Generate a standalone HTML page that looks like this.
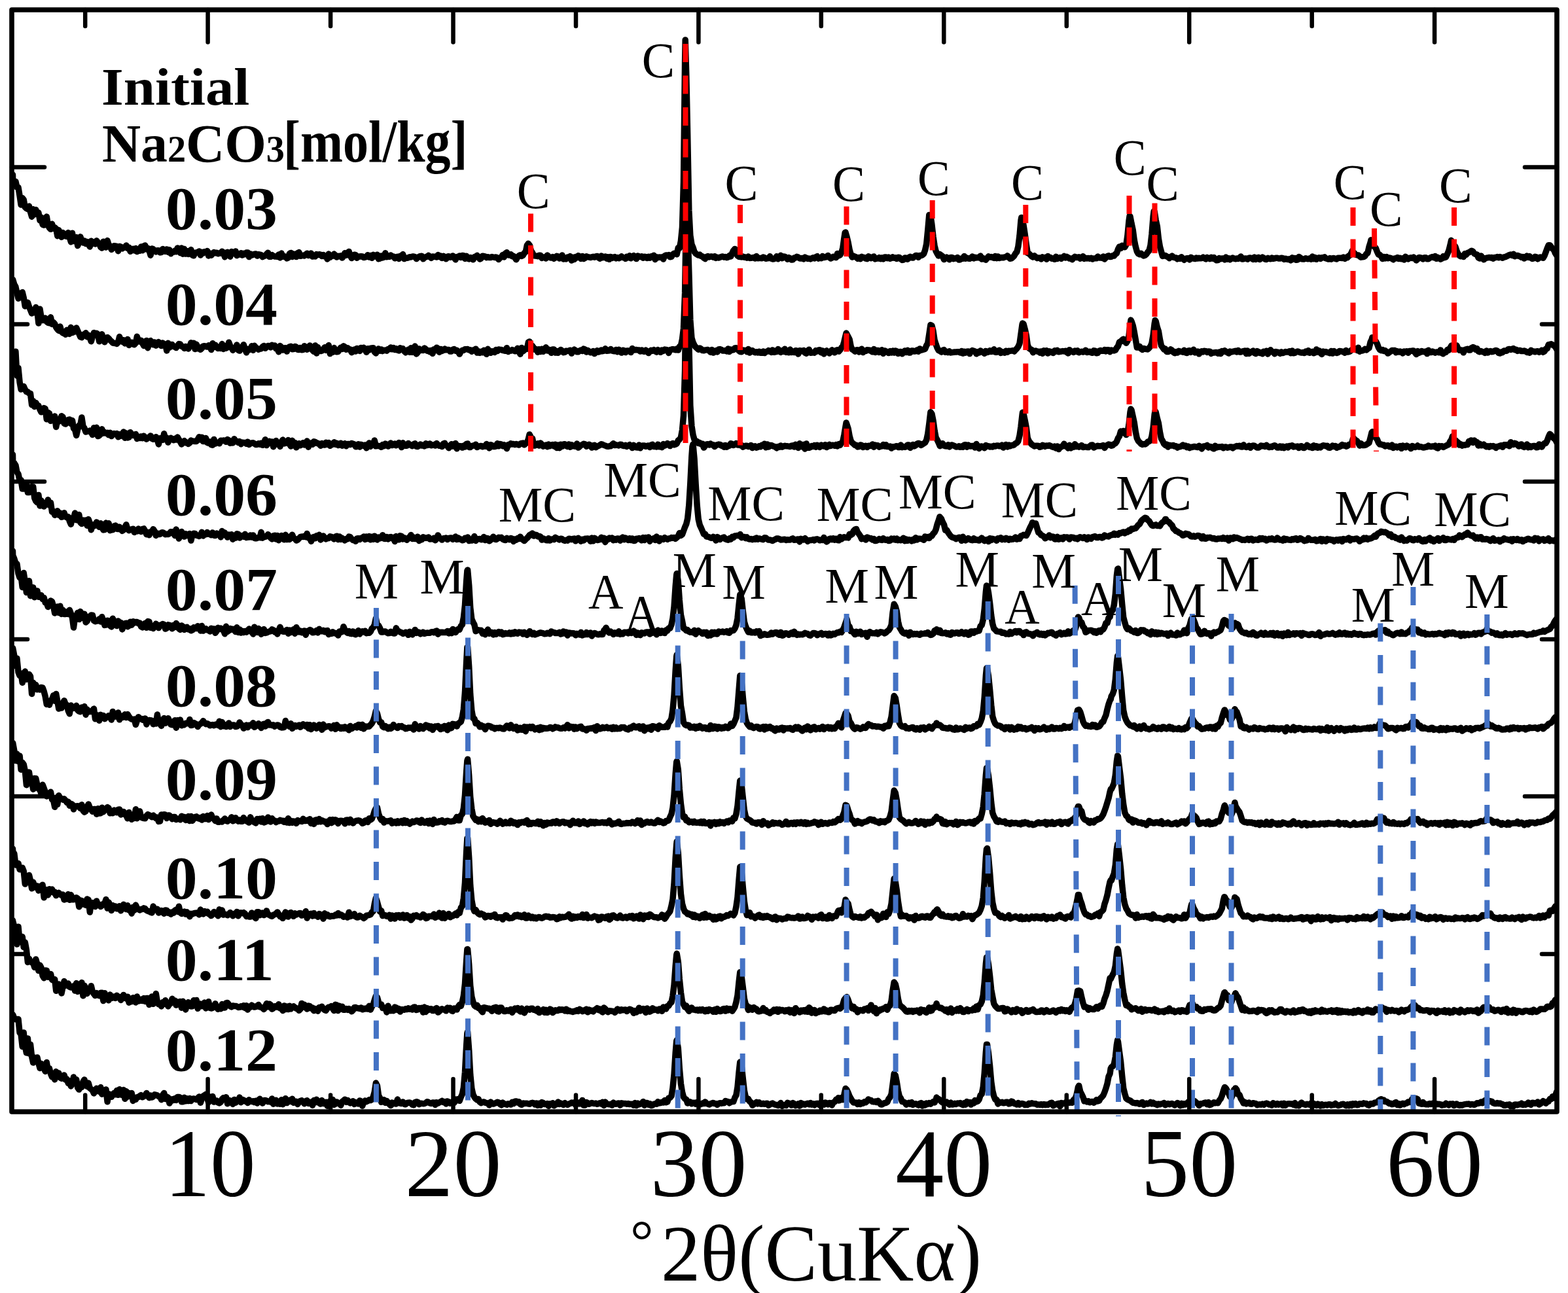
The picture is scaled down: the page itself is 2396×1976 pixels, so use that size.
<!DOCTYPE html>
<html><head><meta charset="utf-8"><title>XRD</title><style>html,body{margin:0;padding:0;background:#fff;overflow:hidden}svg{display:block}</style></head><body>
<svg width="2396" height="1976" viewBox="0 0 2396 1976"><defs><clipPath id="cp"><rect x="18.0" y="0" width="2361.0" height="1976"/></clipPath></defs><rect x="0" y="0" width="2396" height="1976" fill="#fff"/><g clip-path="url(#cp)" fill="none" stroke="#000" stroke-width="9.5" stroke-linejoin="round" stroke-linecap="round"><path d="M19.5 267.0 19.7 274.2 21.8 278.7 23.9 277.3 25.9 286.1 28.0 286.4 30.1 299.2 32.1 313.0 34.2 302.6 36.2 305.2 38.3 316.6 40.4 318.6 42.4 319.6 44.5 315.1 46.5 323.9 48.6 331.2 50.7 319.7 52.7 327.8 54.8 320.5 56.9 326.5 58.9 325.0 61.0 336.9 63.0 332.2 65.1 343.2 67.2 344.0 69.2 343.4 71.3 331.1 73.4 344.1 75.4 348.2 77.5 350.3 79.5 342.2 81.6 349.3 83.7 347.6 85.7 349.6 87.8 360.7 89.8 351.6 91.9 356.7 94.0 362.4 96.0 355.6 98.1 358.8 100.2 360.8 102.2 361.3 104.3 355.6 106.3 362.8 108.4 369.7 110.5 356.2 112.5 368.5 114.6 365.6 116.7 362.6 118.7 375.6 120.8 370.3 122.8 361.8 124.9 368.2 127.0 371.0 129.0 368.0 131.1 372.4 133.1 369.5 135.2 373.2 137.3 377.0 139.3 368.2 141.4 372.5 143.5 370.0 145.5 372.9 147.6 367.8 149.6 370.7 151.7 372.7 153.8 377.6 155.8 379.0 157.9 369.2 160.0 371.7 162.0 377.9 164.1 367.6 166.1 374.0 168.2 375.8 170.3 381.4 172.3 379.4 174.4 375.8 176.5 375.9 178.5 376.6 180.6 383.7 182.6 376.4 184.7 377.2 186.8 379.9 188.8 378.4 190.9 378.3 192.9 375.1 195.0 379.4 197.1 378.1 199.1 384.2 201.2 382.5 203.3 380.2 205.3 382.9 207.4 379.5 209.4 384.6 211.5 381.1 213.6 383.3 215.6 376.9 217.7 382.8 219.8 376.0 221.8 375.0 223.9 381.1 225.9 379.2 228.0 383.0 230.1 390.2 232.1 380.0 234.2 380.8 236.2 383.8 238.3 384.9 240.4 382.8 242.4 382.8 244.5 385.9 246.6 385.5 248.6 380.5 250.7 383.8 252.7 384.3 254.8 380.9 256.9 385.2 258.9 381.8 261.0 387.7 263.1 385.4 265.1 385.2 267.2 383.1 269.2 384.7 271.3 379.0 273.4 381.8 275.4 386.5 277.5 379.0 279.5 388.2 281.6 380.4 283.7 388.1 285.7 383.4 287.8 388.4 289.9 386.5 291.9 381.6 294.0 390.0 296.0 390.7 298.1 386.3 300.2 385.8 302.2 386.2 304.3 383.9 306.4 390.0 308.4 385.3 310.5 386.8 312.5 384.8 314.6 385.3 316.7 383.5 318.7 390.9 320.8 386.9 322.8 390.2 324.9 387.6 327.0 385.6 329.0 386.7 331.1 386.2 333.2 387.8 335.2 386.8 337.3 387.1 339.3 384.2 341.4 385.8 343.5 392.7 345.5 386.3 347.6 385.4 349.7 389.2 351.7 392.2 353.8 384.5 355.8 387.9 357.9 386.8 360.0 383.9 362.0 390.6 364.1 388.7 366.1 389.0 368.2 386.8 370.3 390.1 372.3 387.5 374.4 388.6 376.5 386.1 378.5 385.9 380.6 392.6 382.6 387.9 384.7 390.0 386.8 389.2 388.8 388.2 390.9 388.1 393.0 391.1 395.0 388.7 397.1 389.1 399.1 389.6 401.2 392.6 403.3 391.4 405.3 390.7 407.4 388.3 409.5 386.3 411.5 392.2 413.6 392.3 415.6 389.6 417.7 391.3 419.8 391.9 421.8 392.1 423.9 392.4 425.9 389.0 428.0 393.9 430.1 387.1 432.1 392.3 434.2 391.5 436.3 392.4 438.3 394.9 440.4 394.0 442.4 387.6 444.5 386.4 446.6 392.4 448.6 388.1 450.7 390.5 452.8 392.6 454.8 386.7 456.9 385.6 458.9 391.3 461.0 390.8 463.1 390.2 465.1 390.9 467.2 388.8 469.2 387.3 471.3 390.5 473.4 388.6 475.4 387.1 477.5 392.1 479.6 390.8 481.6 391.9 483.7 388.7 485.7 389.5 487.8 388.8 489.9 389.1 491.9 391.6 494.0 389.4 496.1 392.0 498.1 392.0 500.2 395.9 502.2 388.1 504.3 393.3 506.4 391.1 508.4 391.3 510.5 388.1 512.5 390.4 514.6 393.1 516.7 391.3 518.7 391.7 520.8 390.9 522.9 394.1 524.9 391.5 527.0 386.7 529.0 390.1 531.1 387.3 533.2 384.4 535.2 390.5 537.3 394.6 539.4 391.8 541.4 389.2 543.5 389.7 545.5 394.2 547.6 392.1 549.7 391.9 551.7 391.7 553.8 391.9 555.8 393.6 557.9 393.1 560.0 392.4 562.0 389.7 564.1 393.1 566.2 390.5 568.2 394.3 570.3 389.3 572.3 391.7 574.4 392.0 576.5 389.2 578.5 395.7 580.6 395.2 582.7 391.1 584.7 393.8 586.8 393.0 588.8 386.7 590.9 392.7 593.0 392.1 595.0 392.4 597.1 390.0 599.1 391.7 601.2 391.9 603.3 394.8 605.3 393.0 607.4 392.3 609.5 395.5 611.5 391.2 613.6 391.6 615.6 388.6 617.7 395.6 619.8 394.4 621.8 394.3 623.9 393.8 626.0 392.7 628.0 392.9 630.1 392.0 632.1 392.1 634.2 392.6 636.3 395.6 638.3 393.7 640.4 392.4 642.5 391.4 644.5 391.3 646.6 395.8 648.6 393.6 650.7 392.8 652.8 392.0 654.8 390.4 656.9 392.5 658.9 394.4 661.0 391.9 663.1 392.3 665.1 392.3 667.2 393.0 669.3 389.6 671.3 392.3 673.4 391.1 675.4 394.5 677.5 391.3 679.6 394.0 681.6 395.8 683.7 392.2 685.8 391.7 687.8 393.2 689.9 392.9 691.9 390.9 694.0 393.8 696.1 396.8 698.1 392.4 700.2 392.5 702.2 390.9 704.3 393.6 706.4 390.5 708.4 390.8 710.5 395.4 712.6 391.2 714.6 395.1 716.7 395.9 718.7 393.5 720.8 394.1 722.9 396.8 724.9 392.7 727.0 391.9 729.1 390.5 731.1 393.1 733.2 395.9 735.2 394.9 737.3 391.3 739.4 391.5 741.4 392.1 743.5 393.6 745.5 392.7 747.6 393.5 749.7 393.6 751.7 392.5 753.8 393.0 755.9 393.5 757.9 392.9 760.0 394.0 762.0 396.5 764.1 394.0 766.2 392.9 768.2 389.5 770.3 392.9 772.4 387.3 774.4 385.7 775.0 389.5 776.5 389.6 778.5 390.1 780.6 388.7 782.7 391.7 784.7 391.3 786.8 393.8 788.8 396.7 790.9 392.9 793.0 390.8 795.0 389.8 797.1 391.4 799.2 390.3 801.2 386.6 803.3 385.0 805.3 374.8 807.2 372.3 809.5 375.1 811.5 383.3 813.6 386.2 815.7 390.8 817.7 390.9 819.8 391.2 821.8 391.7 823.9 390.2 826.0 390.2 828.0 394.4 830.1 392.7 832.2 393.5 834.2 395.0 836.3 390.1 838.3 391.9 840.4 393.6 842.5 394.1 844.5 392.7 846.6 395.2 848.6 393.8 850.7 391.3 852.8 391.8 854.8 394.9 856.9 394.3 859.0 390.1 861.0 395.9 863.1 394.6 865.1 395.9 867.2 392.9 869.3 393.0 871.3 391.6 873.4 398.1 875.5 393.3 877.5 396.4 879.6 392.5 881.6 393.9 883.7 390.7 885.8 393.0 887.8 395.4 889.9 391.5 891.9 395.5 894.0 394.3 896.1 391.8 898.1 392.8 900.2 392.9 902.3 393.6 904.3 392.8 906.4 392.3 908.4 393.2 910.5 391.9 912.6 391.5 914.6 393.6 916.7 395.2 918.8 391.1 920.8 393.7 922.9 392.6 924.9 392.0 927.0 395.2 929.1 392.8 931.1 396.3 933.2 392.4 935.2 394.4 937.3 393.4 939.4 392.5 941.4 394.8 943.5 393.5 945.6 394.8 947.6 393.7 949.7 391.9 951.7 393.6 953.8 393.8 955.9 395.4 957.9 392.2 960.0 393.7 962.1 390.8 964.1 394.8 966.2 391.9 968.2 390.7 970.3 393.6 972.4 395.6 974.4 391.1 976.5 391.8 978.5 392.4 980.6 391.8 982.7 394.3 984.7 392.3 986.8 392.4 988.9 394.6 990.9 392.3 993.0 394.2 995.0 391.9 997.1 391.4 999.2 390.3 1001.2 396.5 1003.3 392.8 1005.4 393.6 1007.4 393.1 1009.5 393.3 1011.5 393.0 1013.6 396.0 1015.7 390.9 1017.7 389.9 1019.8 390.5 1021.8 389.7 1023.9 392.8 1026.0 392.4 1028.0 388.8 1030.1 387.2 1032.2 387.6 1034.2 388.7 1036.3 378.7 1038.3 379.3 1040.4 368.4 1042.5 347.5 1044.5 278.3 1046.6 94.4 1047.2 60.9 1048.7 111.8 1050.7 208.0 1052.8 321.7 1054.8 359.8 1056.9 373.2 1059.0 378.3 1061.0 384.6 1063.1 387.5 1065.2 388.9 1067.2 389.9 1069.3 389.0 1071.3 391.3 1073.4 391.8 1075.5 394.3 1077.5 395.5 1079.6 392.4 1081.6 391.6 1083.7 392.9 1085.8 392.1 1087.8 392.0 1089.9 393.2 1092.0 391.7 1094.0 394.4 1096.1 393.3 1098.1 393.9 1100.2 393.2 1102.3 392.4 1104.3 392.0 1106.4 393.1 1108.5 392.6 1110.5 393.7 1112.6 393.2 1114.6 390.6 1116.7 391.9 1118.8 386.8 1120.8 382.7 1121.4 382.4 1122.9 380.4 1124.9 386.9 1127.0 390.8 1129.1 392.2 1131.1 392.5 1133.2 392.9 1135.3 392.1 1137.3 393.3 1139.4 393.0 1141.4 394.1 1143.5 392.1 1145.6 394.4 1147.6 394.3 1149.7 393.8 1151.8 393.4 1153.8 395.0 1155.9 391.5 1157.9 394.8 1160.0 394.5 1162.1 394.6 1164.1 394.8 1166.2 393.1 1168.2 393.8 1170.3 395.2 1172.4 394.9 1174.4 394.5 1176.5 391.8 1178.6 395.1 1180.6 396.0 1182.7 395.8 1184.7 394.6 1186.8 391.8 1188.9 395.7 1190.9 394.0 1193.0 390.3 1195.1 394.8 1197.1 391.9 1199.2 392.2 1201.2 393.3 1203.3 396.2 1205.4 393.7 1207.4 394.7 1209.5 397.0 1211.5 396.7 1213.6 394.1 1215.7 393.9 1217.7 392.3 1219.8 393.2 1221.9 394.9 1223.9 394.9 1226.0 394.4 1228.0 395.8 1230.1 393.1 1232.2 394.2 1234.2 395.4 1236.3 395.1 1238.4 395.9 1240.4 394.8 1242.5 393.7 1244.5 394.8 1246.6 392.7 1248.7 391.7 1250.7 395.0 1252.8 394.0 1254.9 394.6 1256.9 391.5 1259.0 393.5 1261.0 393.1 1263.1 392.6 1265.2 390.4 1267.2 393.2 1269.3 395.0 1271.3 394.0 1273.4 392.3 1275.5 392.9 1277.5 393.7 1279.6 387.6 1281.7 390.6 1283.7 389.7 1285.8 386.0 1287.8 379.1 1289.9 363.8 1291.2 355.5 1292.0 355.0 1294.0 361.9 1296.1 370.7 1298.2 381.9 1300.2 388.9 1302.3 393.1 1304.3 391.2 1306.4 392.2 1308.5 393.1 1310.5 395.2 1312.6 393.4 1314.6 395.8 1316.7 392.3 1318.8 393.6 1320.8 393.6 1322.9 395.2 1325.0 395.6 1327.0 391.8 1329.1 392.8 1331.1 394.7 1333.2 393.2 1335.3 391.9 1337.3 395.8 1339.4 395.0 1341.5 395.0 1343.5 393.6 1345.6 395.8 1347.6 393.9 1349.7 395.9 1351.8 392.9 1353.8 393.0 1355.9 394.6 1357.9 393.2 1360.0 395.3 1362.1 394.6 1364.1 392.9 1366.2 394.3 1368.3 393.7 1370.3 395.6 1372.4 393.3 1374.4 393.5 1376.5 395.9 1378.6 397.4 1380.6 397.0 1382.7 394.1 1384.8 394.3 1386.8 396.2 1388.9 393.6 1390.9 392.3 1393.0 393.8 1395.1 394.1 1397.1 392.1 1399.2 390.6 1401.2 390.6 1403.3 393.2 1405.4 390.5 1407.4 390.5 1409.5 389.7 1411.6 387.9 1413.6 382.3 1415.7 372.8 1417.7 352.4 1419.8 328.5 1421.9 329.5 1423.9 343.0 1426.0 361.6 1428.1 375.5 1430.1 383.8 1432.2 387.7 1434.2 391.0 1436.3 388.8 1438.4 390.4 1440.4 391.9 1442.5 396.6 1444.5 394.6 1446.6 393.2 1448.7 394.6 1450.7 396.7 1452.8 393.5 1454.9 393.4 1456.9 395.7 1459.0 394.8 1461.0 395.1 1463.1 393.4 1465.2 397.0 1467.2 396.7 1469.3 395.1 1471.4 395.3 1473.4 391.4 1475.5 395.2 1477.5 394.1 1479.6 395.0 1481.7 395.3 1483.7 393.9 1485.8 392.0 1487.9 394.9 1489.9 393.3 1492.0 393.9 1494.0 393.5 1496.1 393.9 1498.2 391.1 1500.2 396.1 1502.3 394.7 1504.3 396.0 1506.4 397.2 1508.5 394.4 1510.5 391.8 1512.6 393.0 1514.7 392.6 1516.7 393.6 1518.8 394.4 1520.8 391.4 1522.9 394.7 1525.0 392.0 1527.0 394.5 1529.1 393.8 1531.2 393.5 1533.2 393.7 1535.3 392.9 1537.3 392.6 1539.4 390.9 1541.5 393.0 1543.5 395.2 1545.6 394.9 1547.6 393.2 1549.7 391.1 1551.8 387.2 1553.8 385.0 1555.9 376.6 1558.0 360.1 1560.0 336.9 1560.8 332.4 1562.1 334.1 1564.1 344.5 1566.2 358.1 1568.3 373.8 1570.3 386.7 1572.4 387.6 1574.5 389.6 1576.5 391.9 1578.6 393.0 1580.6 391.0 1582.7 392.7 1584.8 394.6 1586.8 393.9 1588.9 393.9 1590.9 396.0 1593.0 393.0 1595.1 394.1 1597.1 393.4 1599.2 396.2 1601.3 391.5 1603.3 393.3 1605.4 393.6 1607.4 395.3 1609.5 395.2 1611.6 396.3 1613.6 392.2 1615.7 395.5 1617.8 394.0 1619.8 393.5 1621.9 395.2 1623.9 393.2 1626.0 391.6 1628.1 394.0 1630.1 392.4 1632.2 393.6 1634.2 395.0 1636.3 394.9 1638.4 396.7 1640.4 394.2 1642.5 392.4 1644.6 393.4 1646.6 393.2 1648.7 392.8 1650.7 395.1 1652.8 393.6 1654.9 391.7 1656.9 395.4 1659.0 394.3 1661.1 394.9 1663.1 394.5 1665.2 395.2 1667.2 394.4 1669.3 396.0 1671.4 394.9 1673.4 394.8 1675.5 394.8 1677.5 392.1 1679.6 393.9 1681.7 393.7 1683.7 394.2 1685.8 392.0 1687.9 396.0 1689.9 393.7 1692.0 391.7 1694.0 390.8 1696.1 392.5 1698.2 392.3 1700.2 390.8 1702.3 391.0 1704.4 388.3 1706.4 387.1 1708.5 380.8 1710.5 377.0 1711.1 377.7 1712.6 379.5 1714.7 375.2 1716.7 377.1 1718.8 377.7 1720.9 374.0 1722.9 360.0 1725.0 337.7 1726.1 330.1 1727.0 330.8 1729.1 341.8 1731.2 351.4 1733.2 366.8 1735.3 377.1 1737.3 384.3 1739.4 387.8 1741.5 388.8 1743.5 387.3 1745.6 389.3 1747.7 391.0 1749.7 390.1 1751.8 388.3 1753.8 385.3 1755.9 383.1 1758.0 374.8 1760.0 357.7 1762.1 331.0 1763.2 322.8 1764.2 323.5 1766.2 336.5 1768.3 345.7 1770.3 364.3 1772.4 376.8 1774.5 384.4 1776.5 391.5 1778.6 391.0 1780.6 390.4 1782.7 391.8 1784.8 392.9 1786.8 394.5 1788.9 392.5 1791.0 391.1 1793.0 393.2 1795.1 393.8 1797.1 394.0 1799.2 395.8 1801.3 394.5 1803.3 395.3 1805.4 392.8 1807.5 395.5 1809.5 397.2 1811.6 395.4 1813.6 394.8 1815.7 394.7 1817.8 396.9 1819.8 393.3 1821.9 394.4 1823.9 395.2 1826.0 395.6 1828.1 394.0 1830.1 395.0 1832.2 394.3 1834.3 394.8 1836.3 394.5 1838.4 393.2 1840.4 394.7 1842.5 395.9 1844.6 393.4 1846.6 394.4 1848.7 395.6 1850.8 393.3 1852.8 395.0 1854.9 393.4 1856.9 396.3 1859.0 397.8 1861.1 397.5 1863.1 394.5 1865.2 395.8 1867.2 395.0 1869.3 394.9 1871.4 396.9 1873.4 393.1 1875.5 396.2 1877.6 394.8 1879.6 396.7 1881.7 395.1 1883.7 394.0 1885.8 395.2 1887.9 395.8 1889.9 394.9 1892.0 395.5 1894.1 394.2 1896.1 392.0 1898.2 396.1 1900.2 395.8 1902.3 395.1 1904.4 395.0 1906.4 396.2 1908.5 394.3 1910.6 394.0 1912.6 394.6 1914.7 396.4 1916.7 393.1 1918.8 396.5 1920.9 394.1 1922.9 393.4 1925.0 396.5 1927.0 394.8 1929.1 393.2 1931.2 394.4 1933.2 396.1 1935.3 396.5 1937.4 394.3 1939.4 395.4 1941.5 395.8 1943.5 394.1 1945.6 395.4 1947.7 394.9 1949.7 394.2 1951.8 394.3 1953.9 395.0 1955.9 395.0 1958.0 394.2 1960.0 394.4 1962.1 396.4 1964.2 395.2 1966.2 396.1 1968.3 396.5 1970.3 395.7 1972.4 397.9 1974.5 393.8 1976.5 396.0 1978.6 394.5 1980.7 397.3 1982.7 397.1 1984.8 392.4 1986.8 393.7 1988.9 395.8 1991.0 395.9 1993.0 395.9 1995.1 394.8 1997.2 395.5 1999.2 395.8 2001.3 394.8 2003.3 396.2 2005.4 392.0 2007.5 395.7 2009.5 393.6 2011.6 396.1 2013.6 394.6 2015.7 393.7 2017.8 395.4 2019.8 393.7 2021.9 393.7 2024.0 392.8 2026.0 394.8 2028.1 395.5 2030.1 396.1 2032.2 394.6 2034.3 396.1 2036.3 394.8 2038.4 394.6 2040.5 395.4 2042.5 396.0 2044.6 394.2 2046.6 394.3 2048.7 394.3 2050.8 394.5 2052.8 393.1 2054.9 395.4 2056.9 393.2 2059.0 393.7 2061.1 390.9 2063.1 389.9 2065.2 385.8 2066.5 383.0 2067.3 386.4 2069.3 386.5 2071.4 389.2 2073.4 389.7 2075.5 389.9 2077.6 391.7 2079.6 393.2 2081.7 392.8 2083.8 392.5 2085.8 391.4 2087.9 387.9 2089.9 386.8 2092.0 377.3 2094.1 370.7 2095.0 366.8 2096.1 368.1 2098.2 374.6 2100.2 377.0 2102.3 379.3 2104.4 384.8 2106.4 389.1 2108.5 389.5 2110.6 391.7 2112.6 395.5 2114.7 392.5 2116.7 394.9 2118.8 392.5 2120.9 394.7 2122.9 394.0 2125.0 394.4 2127.1 395.3 2129.1 396.8 2131.2 394.9 2133.2 394.8 2135.3 393.5 2137.4 395.5 2139.4 394.4 2141.5 395.8 2143.6 394.7 2145.6 397.0 2147.7 392.3 2149.7 394.4 2151.8 395.9 2153.9 394.4 2155.9 393.8 2158.0 394.5 2160.0 393.1 2162.1 395.0 2164.2 397.9 2166.2 396.2 2168.3 393.4 2170.4 393.7 2172.4 394.3 2174.5 396.0 2176.5 393.7 2178.6 393.8 2180.7 395.8 2182.7 395.8 2184.8 394.2 2186.9 393.2 2188.9 392.6 2191.0 393.6 2193.0 391.6 2195.1 395.3 2197.2 393.4 2199.2 394.7 2201.3 396.2 2203.3 395.1 2205.4 391.7 2207.5 393.7 2209.5 392.9 2211.6 388.3 2213.7 383.4 2215.7 375.7 2217.6 367.3 2219.8 376.3 2221.9 374.5 2224.0 377.2 2226.0 383.5 2228.1 388.0 2230.2 390.7 2232.2 391.7 2234.3 391.3 2236.3 392.6 2238.4 387.7 2240.5 389.1 2242.5 386.4 2244.6 385.7 2246.5 384.7 2248.7 383.2 2250.8 384.4 2252.8 387.5 2254.9 388.6 2257.0 388.9 2259.0 393.7 2261.1 395.1 2263.1 391.0 2265.2 393.7 2267.3 396.8 2269.3 394.8 2271.4 394.2 2273.5 393.8 2275.5 393.4 2277.6 393.9 2279.6 393.5 2281.7 395.1 2283.8 393.6 2285.8 393.5 2287.9 392.5 2289.9 393.8 2292.0 392.6 2294.1 393.2 2296.1 394.3 2298.2 393.0 2300.3 392.6 2302.3 391.7 2304.4 390.6 2306.4 389.7 2308.3 389.1 2310.6 390.3 2312.6 388.2 2314.7 391.8 2316.8 390.7 2318.8 390.4 2320.9 391.4 2322.9 391.8 2325.0 393.3 2327.1 392.5 2329.1 395.1 2331.2 392.9 2333.2 391.2 2335.3 393.2 2337.4 391.6 2339.4 394.1 2341.5 395.4 2343.6 394.9 2345.6 392.3 2347.7 392.9 2349.7 395.9 2351.8 393.8 2353.9 393.0 2355.9 393.7 2358.0 394.3 2360.1 390.7 2362.1 385.3 2364.2 379.5 2366.2 374.8 2368.3 374.7 2370.4 377.4 2372.4 380.3 2374.5 381.9 2376.6 387.1 2378.6 390.3"/><path d="M19.5 429.8 19.7 427.5 21.8 434.6 23.9 438.4 25.9 447.5 28.0 456.2 30.1 448.2 32.1 449.3 34.2 446.6 36.2 454.8 38.3 468.0 40.4 467.1 42.4 462.3 44.5 468.9 46.5 473.8 48.6 478.9 50.7 473.6 52.7 477.7 54.8 469.6 56.9 475.4 58.9 494.0 61.0 472.3 63.0 485.0 65.1 489.6 67.2 487.4 69.2 486.1 71.3 491.6 73.4 493.1 75.4 493.7 77.5 484.8 79.5 495.4 81.6 492.5 83.7 495.1 85.7 500.2 87.8 503.2 89.8 505.4 91.9 498.9 94.0 507.0 96.0 509.0 98.1 509.4 100.2 511.3 102.2 504.3 104.3 504.8 106.3 510.4 108.4 500.3 110.5 508.5 112.5 505.5 114.6 506.9 116.7 501.0 118.7 505.5 120.8 510.1 122.8 514.8 124.9 515.7 127.0 511.3 129.0 511.2 131.1 508.8 133.1 514.7 135.2 512.3 137.3 516.4 139.3 521.8 141.4 514.4 143.5 508.5 145.5 511.6 147.6 509.4 149.6 510.9 151.7 521.8 153.8 517.6 155.8 510.7 157.9 520.0 160.0 522.8 162.0 516.4 164.1 515.5 166.1 517.1 168.2 519.9 170.3 521.6 172.3 524.0 174.4 524.4 176.5 524.5 178.5 525.4 180.6 522.9 182.6 514.6 184.7 520.3 186.8 522.2 188.8 519.8 190.9 524.9 192.9 520.3 195.0 518.4 197.1 527.5 199.1 524.8 201.2 523.3 203.3 526.1 205.3 526.8 207.4 524.3 209.4 514.3 211.5 521.0 213.6 522.0 215.6 520.2 217.7 524.7 219.8 528.4 221.8 522.6 223.9 520.4 225.9 531.7 228.0 523.2 230.1 520.6 232.1 525.9 234.2 526.7 236.2 522.9 238.3 528.2 240.4 524.0 242.4 522.6 244.5 526.5 246.6 528.6 248.6 524.0 250.7 527.4 252.7 526.1 254.8 535.9 256.9 524.3 258.9 531.3 261.0 526.7 263.1 526.6 265.1 529.5 267.2 530.1 269.2 531.4 271.3 528.5 273.4 525.6 275.4 525.9 277.5 529.4 279.5 529.7 281.6 532.4 283.7 529.4 285.7 531.5 287.8 533.0 289.9 528.9 291.9 523.8 294.0 524.9 296.0 524.2 298.1 533.6 300.2 526.2 302.2 532.7 304.3 530.8 306.4 534.3 308.4 532.2 310.5 528.9 312.5 528.7 314.6 529.6 316.7 530.0 318.7 527.9 320.8 529.5 322.8 534.5 324.9 524.7 327.0 530.6 329.0 527.2 331.1 530.5 333.2 532.5 335.2 529.9 337.3 532.4 339.3 525.6 341.4 533.5 343.5 528.6 345.5 532.2 347.6 531.0 349.7 523.2 351.7 528.5 353.8 531.3 355.8 535.2 357.9 531.6 360.0 531.6 362.0 527.0 364.1 535.0 366.1 536.1 368.2 531.2 370.3 530.5 372.3 526.7 374.4 533.7 376.5 538.8 378.5 533.4 380.6 534.9 382.6 533.0 384.7 528.8 386.8 535.2 388.8 528.3 390.9 531.1 393.0 532.5 395.0 534.2 397.1 533.0 399.1 532.9 401.2 529.9 403.3 528.5 405.3 532.2 407.4 530.2 409.5 528.6 411.5 528.8 413.6 530.9 415.6 527.3 417.7 528.7 419.8 528.0 421.8 532.8 423.9 533.5 425.9 537.7 428.0 528.6 430.1 530.8 432.1 534.9 434.2 532.0 436.3 531.8 438.3 537.1 440.4 531.9 442.4 529.8 444.5 529.4 446.6 533.7 448.6 533.6 450.7 529.4 452.8 530.4 454.8 534.3 456.9 534.5 458.9 531.4 461.0 534.7 463.1 534.6 465.1 528.7 467.2 532.4 469.2 534.3 471.3 531.8 473.4 528.0 475.4 532.6 477.5 535.2 479.6 537.3 481.6 528.0 483.7 539.9 485.7 530.7 487.8 535.9 489.9 536.6 491.9 536.0 494.0 534.0 496.1 530.8 498.1 535.2 500.2 531.9 502.2 527.6 504.3 540.6 506.4 535.5 508.4 538.2 510.5 531.6 512.5 537.4 514.6 537.7 516.7 537.6 518.7 533.9 520.8 531.1 522.9 533.6 524.9 528.8 527.0 530.0 529.0 534.3 531.1 531.7 533.2 533.7 535.2 533.9 537.3 538.7 539.4 537.2 541.4 534.1 543.5 537.0 545.5 532.4 547.6 533.5 549.7 536.4 551.7 531.4 553.8 533.7 555.8 531.3 557.9 534.7 560.0 538.2 562.0 532.7 564.1 535.0 566.2 532.4 568.2 531.9 570.3 531.7 572.3 537.9 574.4 539.9 576.5 535.7 578.5 533.0 580.6 536.2 582.7 533.9 584.7 536.5 586.8 535.3 588.8 535.3 590.9 536.1 593.0 533.4 595.0 533.8 597.1 530.9 599.1 533.8 601.2 531.6 603.3 534.5 605.3 532.7 607.4 535.1 609.5 535.9 611.5 531.7 613.6 533.1 615.6 532.8 617.7 536.6 619.8 538.7 621.8 536.9 623.9 534.2 626.0 538.2 628.0 531.7 630.1 538.3 632.1 533.6 634.2 529.0 636.3 540.9 638.3 538.6 640.4 532.9 642.5 535.5 644.5 534.7 646.6 535.4 648.6 532.0 650.7 533.7 652.8 536.2 654.8 535.7 656.9 537.8 658.9 535.4 661.0 540.3 663.1 533.8 665.1 535.9 667.2 531.2 669.3 532.7 671.3 538.2 673.4 533.4 675.4 536.5 677.5 535.3 679.6 533.2 681.6 534.7 683.7 534.4 685.8 534.4 687.8 537.1 689.9 536.9 691.9 534.3 694.0 533.6 696.1 536.1 698.1 535.3 700.2 537.7 702.2 541.1 704.3 537.3 706.4 535.5 708.4 535.2 710.5 533.8 712.6 533.7 714.6 533.6 716.7 534.8 718.7 534.8 720.8 537.2 722.9 534.9 724.9 535.3 727.0 533.2 729.1 539.1 731.1 536.8 733.2 539.4 735.2 537.4 737.3 538.8 739.4 535.3 741.4 537.2 743.5 541.3 745.5 533.3 747.6 538.2 749.7 539.2 751.7 536.7 753.8 537.4 755.9 538.4 757.9 534.5 760.0 536.6 762.0 534.0 764.1 534.4 766.2 534.5 768.2 535.4 770.3 535.9 772.4 536.3 774.4 531.7 776.5 537.5 778.5 535.9 780.6 536.1 782.7 534.6 784.7 535.4 786.8 536.7 788.8 536.5 790.9 532.2 793.0 537.0 795.0 541.3 797.1 531.4 799.2 536.9 801.2 535.0 803.3 532.8 805.3 533.2 807.4 522.9 809.1 522.0 811.5 526.9 813.6 528.6 815.7 531.6 817.7 534.3 819.8 533.9 821.8 538.3 823.9 533.7 826.0 537.4 828.0 533.3 830.1 537.2 832.2 535.7 834.2 530.8 836.3 536.0 838.3 534.0 840.4 535.2 842.5 539.2 844.5 533.9 846.6 534.1 848.6 539.1 850.7 536.5 852.8 539.3 854.8 536.9 856.9 534.5 859.0 536.2 861.0 538.7 863.1 538.2 865.1 536.3 867.2 536.4 869.3 536.1 871.3 535.2 873.4 540.1 875.5 536.4 877.5 534.2 879.6 535.5 881.6 537.8 883.7 537.7 885.8 536.1 887.8 535.1 889.9 536.5 891.9 533.2 894.0 533.9 896.1 538.0 898.1 535.5 900.2 537.2 902.3 538.8 904.3 537.7 906.4 536.5 908.4 540.6 910.5 537.8 912.6 535.8 914.6 537.9 916.7 537.3 918.8 534.9 920.8 536.7 922.9 536.2 924.9 532.8 927.0 536.2 929.1 536.0 931.1 535.7 933.2 533.4 935.2 535.9 937.3 536.5 939.4 536.8 941.4 534.4 943.5 537.8 945.6 534.3 947.6 536.2 949.7 539.1 951.7 535.3 953.8 535.6 955.9 538.6 957.9 535.9 960.0 536.0 962.1 537.0 964.1 538.6 966.2 532.4 968.2 535.0 970.3 534.7 972.4 534.5 974.4 535.0 976.5 535.0 978.5 537.1 980.6 534.9 982.7 536.8 984.7 537.3 986.8 535.2 988.9 536.8 990.9 539.6 993.0 537.1 995.0 535.3 997.1 536.3 999.2 534.7 1001.2 536.9 1003.3 538.0 1005.4 534.8 1007.4 535.9 1009.5 538.3 1011.5 535.2 1013.6 536.4 1015.7 534.1 1017.7 534.4 1019.8 534.8 1021.8 539.5 1023.9 534.6 1026.0 534.2 1028.0 533.7 1030.1 534.0 1032.2 534.8 1034.2 533.1 1036.3 535.1 1038.3 529.6 1040.4 528.2 1042.5 518.6 1044.5 502.0 1046.6 447.7 1048.7 317.3 1050.7 345.5 1052.8 415.5 1054.8 489.0 1056.9 516.4 1059.0 523.3 1061.0 527.6 1063.1 530.5 1065.2 532.1 1067.2 534.2 1069.3 532.0 1071.3 533.1 1073.4 535.6 1075.5 535.7 1077.5 535.0 1079.6 534.8 1081.6 534.5 1083.7 536.0 1085.8 538.3 1087.8 534.5 1089.9 539.1 1092.0 537.9 1094.0 535.7 1096.1 537.9 1098.1 534.0 1100.2 533.6 1102.3 534.4 1104.3 536.0 1106.4 536.1 1108.5 535.8 1110.5 536.9 1112.6 533.0 1114.6 537.5 1116.7 534.1 1118.8 535.1 1120.8 534.7 1122.9 531.9 1124.9 531.7 1127.0 533.3 1129.1 536.0 1131.1 537.6 1133.2 537.7 1135.3 535.1 1137.3 535.5 1139.4 535.4 1141.4 537.7 1143.5 533.5 1145.6 539.1 1147.6 536.2 1149.7 535.7 1151.8 537.6 1153.8 538.8 1155.9 537.7 1157.9 538.9 1160.0 537.3 1162.1 539.2 1164.1 539.2 1166.2 536.9 1168.2 539.6 1170.3 537.4 1172.4 537.3 1174.4 535.6 1176.5 536.7 1178.6 538.5 1180.6 534.9 1182.7 538.3 1184.7 537.8 1186.8 537.6 1188.9 533.4 1190.9 537.0 1193.0 538.3 1195.1 535.9 1197.1 537.3 1199.2 533.2 1201.2 538.3 1203.3 536.1 1205.4 538.7 1207.4 534.1 1209.5 538.4 1211.5 536.8 1213.6 538.6 1215.7 535.7 1217.7 536.2 1219.8 541.0 1221.9 535.8 1223.9 536.0 1226.0 536.8 1228.0 535.5 1230.1 539.2 1232.2 540.1 1234.2 536.0 1236.3 534.3 1238.4 539.2 1240.4 539.0 1242.5 538.6 1244.5 539.1 1246.6 535.7 1248.7 536.9 1250.7 534.9 1252.8 534.8 1254.9 538.8 1256.9 536.0 1259.0 540.9 1261.0 537.2 1263.1 536.0 1265.2 538.3 1267.2 539.9 1269.3 537.7 1271.3 534.8 1273.4 537.3 1275.5 538.8 1277.5 535.4 1279.6 534.7 1281.7 537.1 1283.7 534.9 1285.8 531.3 1287.8 529.5 1289.9 522.2 1292.0 513.3 1293.1 509.0 1294.0 510.6 1296.1 514.6 1298.2 518.9 1300.2 529.5 1302.3 534.1 1304.3 535.1 1306.4 537.0 1308.5 535.0 1310.5 534.7 1312.6 538.0 1314.6 534.9 1316.7 533.3 1318.8 538.6 1320.8 535.8 1322.9 536.5 1325.0 534.8 1327.0 535.0 1329.1 535.3 1331.1 536.6 1333.2 537.8 1335.3 533.5 1337.3 538.5 1339.4 535.4 1341.5 535.6 1343.5 538.4 1345.6 537.2 1347.6 534.8 1349.7 540.3 1351.8 535.9 1353.8 537.7 1355.9 537.6 1357.9 539.6 1360.0 536.6 1362.1 538.9 1364.1 536.1 1366.2 539.1 1368.3 536.1 1370.3 536.7 1372.4 540.3 1374.4 537.8 1376.5 537.5 1378.6 540.8 1380.6 537.8 1382.7 535.9 1384.8 538.4 1386.8 535.3 1388.9 538.9 1390.9 539.0 1393.0 536.1 1395.1 536.0 1397.1 537.1 1399.2 536.8 1401.2 535.0 1403.3 537.3 1405.4 532.9 1407.4 535.1 1409.5 534.6 1411.6 533.9 1413.6 533.4 1415.7 528.0 1417.7 524.7 1419.8 511.0 1421.9 496.6 1423.9 497.5 1426.0 505.6 1428.1 519.6 1430.1 525.9 1432.2 531.8 1434.2 535.5 1436.3 536.5 1438.4 538.0 1440.4 535.6 1442.5 534.6 1444.5 538.2 1446.6 537.2 1448.7 538.6 1450.7 537.0 1452.8 538.9 1454.9 538.5 1456.9 538.3 1459.0 538.0 1461.0 537.9 1463.1 537.7 1465.2 537.7 1467.2 538.9 1469.3 536.6 1471.4 540.1 1473.4 537.2 1475.5 539.0 1477.5 537.3 1479.6 537.1 1481.7 540.6 1483.7 537.0 1485.8 535.5 1487.9 536.4 1489.9 537.0 1492.0 540.8 1494.0 537.8 1496.1 538.9 1498.2 535.9 1500.2 538.0 1502.3 538.5 1504.3 540.3 1506.4 536.4 1508.5 538.4 1510.5 537.9 1512.6 535.9 1514.7 537.4 1516.7 537.0 1518.8 533.8 1520.8 538.3 1522.9 538.2 1525.0 536.6 1527.0 535.2 1529.1 539.5 1531.2 537.6 1533.2 538.7 1535.3 539.2 1537.3 536.2 1539.4 538.1 1541.5 536.3 1543.5 536.4 1545.6 536.1 1547.6 535.8 1549.7 537.0 1551.8 534.6 1553.8 532.7 1555.9 529.8 1558.0 524.8 1560.0 510.7 1562.1 495.5 1562.6 494.1 1564.1 495.2 1566.2 503.1 1568.3 512.6 1570.3 527.4 1572.4 532.2 1574.5 533.7 1576.5 534.4 1578.6 538.7 1580.6 536.4 1582.7 536.1 1584.8 537.0 1586.8 537.2 1588.9 539.0 1590.9 537.0 1593.0 540.3 1595.1 535.8 1597.1 538.3 1599.2 535.8 1601.3 540.1 1603.3 536.9 1605.4 537.3 1607.4 538.8 1609.5 539.4 1611.6 535.8 1613.6 537.0 1615.7 535.4 1617.8 537.7 1619.8 537.4 1621.9 537.0 1623.9 536.5 1626.0 537.0 1628.1 536.4 1630.1 538.4 1632.2 539.9 1634.2 534.7 1636.3 537.4 1638.4 537.0 1640.4 538.3 1642.5 536.1 1644.6 537.4 1646.6 536.0 1648.7 538.6 1650.7 537.7 1652.8 537.3 1654.9 538.1 1656.9 537.2 1659.0 535.2 1661.1 538.4 1663.1 537.9 1665.2 537.3 1667.2 538.9 1669.3 539.3 1671.4 535.8 1673.4 536.2 1675.5 539.7 1677.5 539.4 1679.6 536.2 1681.7 535.5 1683.7 536.2 1685.8 536.3 1687.9 534.6 1689.9 536.9 1692.0 534.8 1694.0 534.8 1696.1 537.7 1698.2 535.0 1700.2 535.5 1702.3 535.9 1704.4 535.1 1706.4 531.6 1708.5 529.0 1710.5 522.8 1712.6 522.0 1714.7 519.6 1716.7 518.2 1718.8 521.9 1720.9 524.2 1722.9 521.1 1725.0 513.4 1727.0 496.5 1728.0 489.1 1729.1 491.3 1731.2 497.5 1733.2 507.3 1735.3 519.0 1737.3 530.9 1739.4 530.9 1741.5 529.5 1743.5 532.7 1745.6 534.4 1747.7 532.5 1749.7 533.1 1751.8 533.5 1753.8 533.9 1755.9 531.9 1758.0 529.2 1760.0 524.3 1762.1 512.0 1764.2 494.4 1765.1 489.5 1766.2 491.2 1768.3 500.0 1770.3 505.9 1772.4 518.5 1774.5 528.2 1776.5 530.8 1778.6 533.9 1780.6 533.1 1782.7 537.4 1784.8 537.6 1786.8 536.7 1788.9 534.0 1791.0 535.3 1793.0 538.4 1795.1 539.6 1797.1 537.6 1799.2 539.1 1801.3 536.4 1803.3 537.1 1805.4 537.4 1807.5 538.1 1809.5 535.3 1811.6 538.9 1813.6 539.5 1815.7 535.9 1817.8 535.7 1819.8 538.2 1821.9 536.7 1823.9 534.3 1826.0 538.9 1828.1 538.0 1830.1 537.1 1832.2 540.8 1834.3 538.0 1836.3 536.7 1838.4 537.9 1840.4 536.3 1842.5 536.7 1844.6 538.4 1846.6 537.0 1848.7 537.2 1850.8 540.3 1852.8 539.1 1854.9 539.0 1856.9 538.6 1859.0 538.6 1861.1 540.0 1863.1 537.9 1865.2 540.6 1867.2 536.5 1869.3 537.5 1871.4 535.9 1873.4 537.4 1875.5 538.7 1877.6 540.0 1879.6 537.0 1881.7 537.9 1883.7 537.4 1885.8 536.9 1887.9 536.2 1889.9 538.0 1892.0 535.5 1894.1 538.1 1896.1 538.0 1898.2 537.0 1900.2 536.5 1902.3 536.0 1904.4 540.6 1906.4 536.0 1908.5 540.2 1910.6 538.8 1912.6 537.4 1914.7 536.3 1916.7 539.5 1918.8 540.4 1920.9 536.6 1922.9 537.5 1925.0 539.5 1927.0 538.5 1929.1 540.8 1931.2 537.2 1933.2 538.8 1935.3 536.2 1937.4 541.0 1939.4 536.9 1941.5 534.8 1943.5 537.8 1945.6 537.8 1947.7 540.7 1949.7 537.5 1951.8 538.0 1953.9 538.8 1955.9 540.2 1958.0 537.9 1960.0 539.5 1962.1 538.7 1964.2 537.6 1966.2 538.1 1968.3 538.0 1970.3 536.7 1972.4 539.7 1974.5 536.0 1976.5 539.7 1978.6 539.4 1980.7 537.9 1982.7 536.9 1984.8 537.7 1986.8 538.7 1988.9 539.1 1991.0 538.4 1993.0 539.4 1995.1 537.2 1997.2 538.3 1999.2 535.8 2001.3 539.1 2003.3 538.2 2005.4 537.4 2007.5 539.6 2009.5 539.0 2011.6 534.0 2013.6 538.0 2015.7 535.9 2017.8 539.5 2019.8 541.5 2021.9 537.2 2024.0 538.1 2026.0 537.6 2028.1 538.5 2030.1 538.9 2032.2 539.7 2034.3 536.5 2036.3 540.1 2038.4 536.6 2040.5 538.3 2042.5 539.5 2044.6 538.8 2046.6 536.5 2048.7 536.8 2050.8 537.1 2052.8 537.6 2054.9 539.2 2056.9 535.6 2059.0 537.9 2061.1 537.7 2063.1 536.8 2065.2 534.9 2067.3 533.8 2068.4 531.5 2069.3 532.2 2071.4 533.2 2073.4 535.4 2075.5 531.2 2077.6 537.2 2079.6 535.8 2081.7 536.0 2083.8 535.0 2085.8 533.4 2087.9 534.8 2089.9 533.1 2092.0 531.8 2094.1 522.9 2096.1 518.8 2096.9 515.7 2098.2 516.5 2100.2 520.5 2102.3 521.7 2104.4 525.4 2106.4 531.1 2108.5 534.5 2110.6 535.6 2112.6 534.5 2114.7 536.5 2116.7 535.9 2118.8 537.6 2120.9 540.1 2122.9 538.4 2125.0 537.2 2127.1 535.5 2129.1 535.8 2131.2 535.5 2133.2 538.8 2135.3 536.8 2137.4 538.0 2139.4 537.0 2141.5 538.0 2143.6 539.9 2145.6 537.0 2147.7 537.5 2149.7 536.8 2151.8 539.2 2153.9 536.6 2155.9 536.4 2158.0 536.1 2160.0 536.0 2162.1 538.6 2164.2 541.5 2166.2 536.6 2168.3 539.3 2170.4 538.3 2172.4 536.5 2174.5 537.6 2176.5 537.6 2178.6 537.0 2180.7 540.6 2182.7 535.3 2184.8 538.5 2186.9 538.4 2188.9 537.1 2191.0 538.1 2193.0 539.1 2195.1 538.0 2197.2 538.4 2199.2 538.7 2201.3 534.9 2203.3 539.6 2205.4 540.6 2207.5 538.6 2209.5 538.3 2211.6 534.5 2213.7 535.2 2215.7 532.0 2217.8 528.2 2219.5 527.9 2221.9 527.8 2224.0 530.1 2226.0 528.1 2228.1 532.9 2230.2 535.2 2232.2 535.0 2234.3 535.3 2236.3 538.8 2238.4 534.3 2240.5 533.9 2242.5 533.3 2244.6 535.0 2246.6 535.1 2248.3 532.0 2250.8 530.6 2252.8 531.6 2254.9 534.4 2257.0 532.7 2259.0 537.0 2261.1 537.7 2263.1 536.5 2265.2 537.7 2267.3 538.1 2269.3 539.4 2271.4 536.0 2273.5 539.1 2275.5 537.0 2277.6 536.5 2279.6 537.7 2281.7 537.3 2283.8 536.2 2285.8 535.4 2287.9 536.2 2289.9 539.4 2292.0 540.0 2294.1 538.0 2296.1 538.6 2298.2 536.0 2300.3 536.2 2302.3 536.2 2304.4 533.8 2306.4 533.4 2308.5 534.4 2310.2 533.6 2312.6 532.5 2314.7 534.7 2316.8 534.2 2318.8 536.4 2320.9 535.5 2322.9 535.6 2325.0 536.6 2327.1 536.5 2329.1 536.1 2331.2 536.7 2333.2 538.4 2335.3 538.3 2337.4 539.2 2339.4 535.3 2341.5 537.0 2343.6 537.0 2345.6 537.8 2347.7 536.9 2349.7 536.7 2351.8 538.3 2353.9 537.3 2355.9 535.3 2358.0 538.2 2360.1 537.0 2362.1 533.4 2364.2 532.8 2366.2 526.7 2368.3 526.4 2370.4 525.8 2372.4 526.9 2374.5 528.4 2376.6 529.8 2378.6 533.7"/><path d="M19.5 551.9 19.7 557.6 21.8 561.7 23.9 537.3 25.9 574.1 28.0 562.4 30.1 584.1 32.1 595.1 34.2 592.0 36.2 590.4 38.3 595.3 40.4 598.8 42.4 598.7 44.5 601.2 46.5 601.5 48.6 618.7 50.7 612.7 52.7 621.5 54.8 615.5 56.9 619.6 58.9 620.0 61.0 625.8 63.0 629.8 65.1 627.8 67.2 623.7 69.2 624.6 71.3 640.8 73.4 630.5 75.4 631.8 77.5 643.3 79.5 642.3 81.6 640.2 83.7 636.1 85.7 652.5 87.8 642.6 89.8 644.4 91.9 641.5 94.0 635.8 96.0 637.2 98.1 647.3 100.2 648.0 102.2 645.5 104.3 641.6 106.3 641.0 108.4 647.4 110.5 642.5 112.5 654.8 114.6 656.7 116.7 665.4 118.7 656.5 120.8 650.1 122.8 649.4 124.9 637.9 127.0 651.8 129.0 654.3 131.1 660.1 133.1 658.9 135.2 659.3 137.3 658.1 139.3 660.5 141.4 664.4 143.5 653.8 145.5 656.9 147.6 653.3 149.6 666.6 151.7 665.6 153.8 663.6 155.8 655.8 157.9 661.9 160.0 660.6 162.0 662.2 164.1 661.4 166.1 664.7 168.2 661.3 170.3 666.6 172.3 664.4 174.4 662.6 176.5 663.6 178.5 662.6 180.6 667.8 182.6 663.8 184.7 666.3 186.8 663.9 188.8 660.0 190.9 669.3 192.9 662.1 195.0 668.9 197.1 668.2 199.1 660.7 201.2 663.5 203.3 665.4 205.3 664.5 207.4 663.4 209.4 670.5 211.5 667.2 213.6 669.6 215.6 666.9 217.7 669.7 219.8 666.2 221.8 668.9 223.9 671.2 225.9 669.5 228.0 667.9 230.1 665.9 232.1 670.4 234.2 671.2 236.2 669.3 238.3 667.7 240.4 672.3 242.4 678.9 244.5 669.7 246.6 672.0 248.6 672.3 250.7 662.7 252.7 671.7 254.8 669.1 256.9 676.1 258.9 670.9 261.0 669.3 263.1 671.2 265.1 672.6 267.2 670.4 269.2 672.1 271.3 668.1 273.4 671.8 275.4 675.1 277.5 678.9 279.5 675.0 281.6 673.8 283.7 676.7 285.7 676.3 287.8 678.4 289.9 676.7 291.9 673.1 294.0 674.3 296.0 674.2 298.1 674.6 300.2 674.4 302.2 671.6 304.3 667.7 306.4 672.1 308.4 668.2 310.5 674.5 312.5 674.4 314.6 669.5 316.7 676.5 318.7 677.1 320.8 674.9 322.8 679.6 324.9 680.2 327.0 671.4 329.0 677.9 331.1 676.3 333.2 676.3 335.2 677.8 337.3 673.2 339.3 673.7 341.4 673.1 343.5 673.3 345.5 675.3 347.6 671.6 349.7 672.8 351.7 677.3 353.8 675.6 355.8 676.9 357.9 670.7 360.0 673.8 362.0 674.5 364.1 676.2 366.1 674.6 368.2 678.7 370.3 676.1 372.3 676.4 374.4 676.4 376.5 678.3 378.5 675.2 380.6 679.5 382.6 677.8 384.7 677.0 386.8 676.8 388.8 678.1 390.9 679.5 393.0 679.3 395.0 677.9 397.1 679.2 399.1 677.3 401.2 680.3 403.3 677.0 405.3 671.8 407.4 680.6 409.5 677.5 411.5 674.3 413.6 676.8 415.6 675.1 417.7 682.7 419.8 678.7 421.8 673.5 423.9 678.9 425.9 676.6 428.0 682.4 430.1 675.0 432.1 672.1 434.2 677.9 436.3 676.9 438.3 676.8 440.4 672.5 442.4 678.9 444.5 682.0 446.6 673.3 448.6 680.8 450.7 676.6 452.8 683.8 454.8 679.1 456.9 677.7 458.9 680.8 461.0 679.4 463.1 676.8 465.1 679.9 467.2 677.1 469.2 674.0 471.3 683.2 473.4 677.5 475.4 677.0 477.5 679.2 479.6 674.8 481.6 675.3 483.7 677.3 485.7 677.3 487.8 678.8 489.9 681.2 491.9 677.5 494.0 679.8 496.1 680.1 498.1 676.2 500.2 679.3 502.2 676.6 504.3 681.3 506.4 679.9 508.4 678.9 510.5 675.8 512.5 679.2 514.6 677.2 516.7 680.6 518.7 678.7 520.8 677.2 522.9 681.1 524.9 680.7 527.0 677.8 529.0 681.7 531.1 678.5 533.2 678.5 535.2 679.5 537.3 677.5 539.4 678.2 541.4 678.9 543.5 682.7 545.5 682.6 547.6 678.7 549.7 682.9 551.7 679.3 553.8 680.2 555.8 681.4 557.9 680.1 560.0 684.7 562.0 680.0 564.1 676.9 566.2 682.4 568.2 678.6 570.3 678.9 572.3 673.1 574.4 681.8 576.5 681.4 578.5 681.4 580.6 681.8 582.7 683.3 584.7 679.6 586.8 681.7 588.8 678.1 590.9 679.0 593.0 682.0 595.0 680.6 597.1 677.0 599.1 680.6 601.2 679.4 603.3 678.1 605.3 680.8 607.4 679.0 609.5 676.6 611.5 677.6 613.6 683.6 615.6 676.8 617.7 680.4 619.8 681.3 621.8 681.3 623.9 677.5 626.0 679.4 628.0 680.3 630.1 681.7 632.1 678.7 634.2 677.7 636.3 682.2 638.3 682.4 640.4 680.9 642.5 678.9 644.5 681.0 646.6 680.4 648.6 681.9 650.7 677.7 652.8 680.5 654.8 679.9 656.9 678.0 658.9 680.7 661.0 680.4 663.1 679.5 665.1 681.1 667.2 677.5 669.3 680.2 671.3 681.2 673.4 680.9 675.4 682.5 677.5 678.0 679.6 677.4 681.6 680.9 683.7 681.3 685.8 684.7 687.8 681.7 689.9 678.7 691.9 682.1 694.0 678.8 696.1 677.6 698.1 685.7 700.2 681.2 702.2 681.9 704.3 681.7 706.4 684.1 708.4 681.1 710.5 683.0 712.6 678.6 714.6 677.9 716.7 683.4 718.7 683.5 720.8 681.6 722.9 681.1 724.9 681.0 727.0 679.3 729.1 683.6 731.1 681.9 733.2 681.7 735.2 681.4 737.3 682.7 739.4 681.7 741.4 682.1 743.5 678.5 745.5 681.7 747.6 684.9 749.7 679.7 751.7 680.5 753.8 682.4 755.9 682.6 757.9 681.9 760.0 677.7 762.0 681.7 764.1 678.5 766.2 679.1 768.2 681.7 770.3 680.0 772.4 681.8 774.4 685.5 776.5 679.8 778.5 679.8 780.6 677.8 782.7 679.0 784.7 678.4 786.8 679.5 788.8 678.5 790.9 679.2 793.0 680.0 795.0 678.4 797.1 677.4 799.2 677.1 801.2 679.8 803.3 677.7 805.3 676.4 807.4 670.8 809.1 663.9 811.5 668.4 813.6 670.2 815.7 681.0 817.7 680.9 819.8 679.1 821.8 677.9 823.9 681.0 826.0 677.1 828.0 679.2 830.1 682.1 832.2 680.9 834.2 680.0 836.3 682.7 838.3 679.1 840.4 681.5 842.5 680.1 844.5 679.5 846.6 681.9 848.6 679.3 850.7 684.5 852.8 680.1 854.8 684.7 856.9 679.2 859.0 682.3 861.0 679.0 863.1 678.8 865.1 681.5 867.2 682.4 869.3 678.9 871.3 683.3 873.4 679.8 875.5 681.5 877.5 681.9 879.6 682.3 881.6 678.1 883.7 684.1 885.8 682.3 887.8 680.5 889.9 679.5 891.9 678.3 894.0 678.9 896.1 682.3 898.1 680.7 900.2 679.3 902.3 680.4 904.3 684.1 906.4 680.8 908.4 680.3 910.5 683.7 912.6 682.2 914.6 681.4 916.7 680.3 918.8 678.7 920.8 679.3 922.9 680.5 924.9 681.0 927.0 682.0 929.1 682.3 931.1 681.8 933.2 681.8 935.2 679.6 937.3 677.7 939.4 680.5 941.4 679.8 943.5 680.3 945.6 680.9 947.6 679.3 949.7 679.5 951.7 681.2 953.8 681.6 955.9 680.3 957.9 682.3 960.0 681.0 962.1 679.7 964.1 681.5 966.2 684.6 968.2 680.2 970.3 683.4 972.4 683.7 974.4 683.9 976.5 680.0 978.5 684.8 980.6 681.5 982.7 680.9 984.7 680.9 986.8 682.3 988.9 681.4 990.9 681.0 993.0 683.4 995.0 680.0 997.1 679.4 999.2 682.5 1001.2 682.3 1003.3 682.9 1005.4 679.2 1007.4 682.8 1009.5 681.7 1011.5 683.7 1013.6 678.6 1015.7 680.9 1017.7 679.9 1019.8 677.6 1021.8 678.8 1023.9 681.6 1026.0 678.6 1028.0 677.7 1030.1 679.8 1032.2 679.1 1034.2 677.9 1036.3 673.1 1038.3 671.6 1040.4 668.6 1042.5 657.3 1044.5 635.3 1046.6 566.2 1048.7 395.2 1050.7 430.3 1052.8 521.4 1054.8 619.6 1056.9 650.9 1059.0 664.5 1061.0 671.6 1063.1 673.6 1065.2 674.7 1067.2 677.5 1069.3 676.6 1071.3 678.8 1073.4 678.3 1075.5 684.1 1077.5 681.4 1079.6 678.9 1081.6 678.8 1083.7 679.9 1085.8 678.1 1087.8 679.7 1089.9 679.8 1092.0 682.5 1094.0 680.4 1096.1 679.9 1098.1 679.1 1100.2 679.4 1102.3 681.2 1104.3 681.0 1106.4 683.2 1108.5 680.4 1110.5 683.1 1112.6 681.7 1114.6 681.2 1116.7 677.8 1118.8 678.5 1120.8 680.5 1122.9 679.3 1124.9 677.6 1127.0 679.9 1129.1 679.7 1131.1 680.5 1133.2 680.3 1135.3 683.1 1137.3 682.1 1139.4 681.3 1141.4 681.2 1143.5 682.6 1145.6 682.2 1147.6 680.4 1149.7 684.5 1151.8 682.2 1153.8 681.8 1155.9 684.2 1157.9 683.4 1160.0 681.7 1162.1 682.7 1164.1 680.2 1166.2 680.8 1168.2 678.3 1170.3 683.8 1172.4 678.9 1174.4 683.0 1176.5 680.6 1178.6 680.4 1180.6 681.6 1182.7 682.3 1184.7 682.9 1186.8 684.7 1188.9 682.5 1190.9 683.3 1193.0 681.0 1195.1 683.1 1197.1 682.2 1199.2 681.2 1201.2 681.8 1203.3 681.8 1205.4 682.2 1207.4 682.6 1209.5 681.2 1211.5 680.8 1213.6 683.1 1215.7 679.3 1217.7 681.0 1219.8 684.4 1221.9 677.7 1223.9 680.9 1226.0 683.0 1228.0 679.4 1230.1 686.0 1232.2 677.9 1234.2 684.2 1236.3 684.3 1238.4 683.4 1240.4 681.6 1242.5 682.5 1244.5 680.5 1246.6 683.2 1248.7 680.2 1250.7 681.5 1252.8 683.4 1254.9 680.1 1256.9 681.3 1259.0 682.0 1261.0 679.7 1263.1 683.5 1265.2 682.2 1267.2 679.3 1269.3 681.4 1271.3 680.2 1273.4 680.2 1275.5 681.2 1277.5 679.7 1279.6 681.9 1281.7 678.7 1283.7 680.3 1285.8 677.0 1287.8 674.7 1289.9 664.6 1292.0 651.9 1293.1 645.9 1294.0 648.6 1296.1 654.9 1298.2 666.6 1300.2 673.8 1302.3 676.7 1304.3 678.2 1306.4 680.2 1308.5 680.3 1310.5 682.9 1312.6 682.5 1314.6 680.0 1316.7 680.4 1318.8 683.6 1320.8 682.1 1322.9 681.3 1325.0 683.5 1327.0 681.2 1329.1 681.4 1331.1 681.2 1333.2 678.9 1335.3 683.2 1337.3 680.1 1339.4 681.1 1341.5 680.8 1343.5 683.1 1345.6 681.9 1347.6 682.0 1349.7 679.5 1351.8 681.9 1353.8 679.8 1355.9 682.5 1357.9 682.5 1360.0 682.0 1362.1 685.0 1364.1 682.8 1366.2 682.9 1368.3 682.2 1370.3 681.7 1372.4 683.4 1374.4 683.6 1376.5 680.0 1378.6 683.5 1380.6 682.6 1382.7 683.3 1384.8 682.5 1386.8 679.9 1388.9 680.0 1390.9 684.4 1393.0 682.0 1395.1 679.4 1397.1 681.9 1399.2 680.7 1401.2 678.3 1403.3 677.4 1405.4 678.0 1407.4 680.3 1409.5 679.1 1411.6 677.7 1413.6 676.5 1415.7 672.6 1417.7 663.3 1419.8 647.8 1421.9 629.7 1423.9 632.3 1426.0 642.7 1428.1 657.9 1430.1 668.7 1432.2 672.4 1434.2 676.6 1436.3 681.7 1438.4 678.1 1440.4 677.8 1442.5 681.1 1444.5 681.8 1446.6 681.9 1448.7 679.7 1450.7 682.9 1452.8 680.4 1454.9 680.0 1456.9 680.9 1459.0 681.7 1461.0 682.9 1463.1 682.8 1465.2 681.9 1467.2 683.3 1469.3 682.1 1471.4 683.3 1473.4 680.0 1475.5 679.8 1477.5 683.2 1479.6 680.1 1481.7 681.7 1483.7 682.0 1485.8 681.4 1487.9 681.5 1489.9 684.1 1492.0 678.5 1494.0 683.4 1496.1 685.4 1498.2 682.2 1500.2 682.1 1502.3 683.2 1504.3 684.7 1506.4 680.4 1508.5 682.2 1510.5 681.8 1512.6 682.9 1514.7 682.3 1516.7 683.0 1518.8 681.4 1520.8 682.1 1522.9 681.0 1525.0 681.0 1527.0 681.7 1529.1 681.6 1531.2 680.1 1533.2 684.0 1535.3 681.4 1537.3 679.5 1539.4 682.9 1541.5 680.1 1543.5 681.7 1545.6 680.6 1547.6 680.5 1549.7 679.7 1551.8 677.6 1553.8 676.8 1555.9 674.2 1558.0 665.7 1560.0 652.1 1562.1 633.5 1562.6 630.3 1564.1 632.5 1566.2 642.4 1568.3 653.6 1570.3 669.5 1572.4 674.2 1574.5 676.9 1576.5 679.2 1578.6 680.5 1580.6 681.9 1582.7 681.3 1584.8 681.2 1586.8 681.5 1588.9 683.3 1590.9 682.7 1593.0 680.2 1595.1 680.9 1597.1 682.3 1599.2 681.0 1601.3 681.4 1603.3 680.6 1605.4 681.6 1607.4 682.6 1609.5 683.5 1611.6 682.1 1613.6 685.0 1615.7 682.0 1617.8 686.6 1619.8 683.6 1621.9 682.9 1623.9 681.5 1626.0 678.2 1628.1 682.0 1630.1 682.4 1632.2 684.9 1634.2 680.3 1636.3 684.9 1638.4 681.8 1640.4 683.2 1642.5 678.7 1644.6 682.4 1646.6 681.7 1648.7 683.1 1650.7 682.3 1652.8 680.6 1654.9 683.5 1656.9 683.1 1659.0 683.0 1661.1 683.5 1663.1 683.6 1665.2 682.0 1667.2 680.2 1669.3 680.1 1671.4 683.9 1673.4 682.9 1675.5 682.0 1677.5 681.3 1679.6 681.8 1681.7 681.8 1683.7 681.2 1685.8 680.6 1687.9 684.4 1689.9 681.6 1692.0 680.3 1694.0 679.1 1696.1 679.6 1698.2 681.2 1700.2 680.7 1702.3 678.5 1704.4 677.6 1706.4 674.7 1708.5 669.5 1710.5 666.6 1712.6 659.1 1714.7 661.3 1716.7 658.5 1718.8 662.0 1720.9 664.5 1722.9 661.1 1725.0 648.9 1727.0 629.7 1728.0 625.1 1729.1 627.0 1731.2 636.5 1733.2 645.7 1735.3 659.9 1737.3 669.7 1739.4 674.0 1741.5 675.9 1743.5 678.3 1745.6 679.4 1747.7 678.5 1749.7 679.0 1751.8 677.6 1753.8 675.3 1755.9 674.5 1758.0 673.2 1760.0 666.8 1762.1 653.7 1764.2 633.0 1765.1 628.1 1766.2 630.0 1768.3 639.2 1770.3 646.4 1772.4 660.3 1774.5 670.4 1776.5 673.7 1778.6 678.2 1780.6 680.3 1782.7 679.1 1784.8 683.0 1786.8 680.3 1788.9 680.7 1791.0 680.9 1793.0 680.5 1795.1 682.1 1797.1 681.7 1799.2 684.0 1801.3 682.7 1803.3 682.7 1805.4 681.7 1807.5 680.1 1809.5 682.0 1811.6 681.0 1813.6 683.5 1815.7 682.2 1817.8 684.5 1819.8 683.2 1821.9 683.4 1823.9 682.6 1826.0 682.6 1828.1 683.2 1830.1 683.6 1832.2 681.4 1834.3 683.0 1836.3 685.9 1838.4 682.3 1840.4 682.1 1842.5 681.5 1844.6 680.5 1846.6 684.0 1848.7 682.5 1850.8 682.9 1852.8 684.9 1854.9 685.8 1856.9 681.3 1859.0 683.9 1861.1 683.3 1863.1 683.0 1865.2 683.1 1867.2 682.5 1869.3 684.6 1871.4 683.3 1873.4 683.0 1875.5 684.2 1877.6 683.7 1879.6 683.1 1881.7 683.0 1883.7 684.9 1885.8 683.2 1887.9 682.4 1889.9 681.4 1892.0 682.1 1894.1 681.2 1896.1 682.7 1898.2 682.9 1900.2 679.8 1902.3 682.6 1904.4 683.4 1906.4 682.8 1908.5 681.3 1910.6 684.3 1912.6 681.7 1914.7 681.0 1916.7 681.2 1918.8 682.6 1920.9 683.9 1922.9 684.1 1925.0 682.9 1927.0 681.0 1929.1 681.7 1931.2 681.4 1933.2 682.4 1935.3 680.3 1937.4 682.7 1939.4 683.5 1941.5 682.4 1943.5 683.2 1945.6 681.4 1947.7 680.7 1949.7 681.8 1951.8 684.1 1953.9 684.0 1955.9 682.0 1958.0 684.2 1960.0 682.2 1962.1 684.6 1964.2 683.2 1966.2 682.0 1968.3 683.7 1970.3 681.6 1972.4 681.4 1974.5 680.7 1976.5 683.0 1978.6 682.5 1980.7 682.5 1982.7 682.1 1984.8 684.5 1986.8 682.1 1988.9 681.7 1991.0 684.2 1993.0 684.5 1995.1 683.0 1997.2 680.3 1999.2 681.8 2001.3 683.4 2003.3 682.6 2005.4 684.6 2007.5 680.8 2009.5 683.5 2011.6 681.8 2013.6 684.3 2015.7 682.5 2017.8 683.9 2019.8 681.7 2021.9 680.7 2024.0 681.1 2026.0 681.8 2028.1 681.2 2030.1 684.1 2032.2 684.3 2034.3 682.9 2036.3 681.1 2038.4 682.3 2040.5 681.5 2042.5 684.3 2044.6 682.8 2046.6 683.0 2048.7 681.7 2050.8 679.6 2052.8 681.1 2054.9 680.5 2056.9 682.2 2059.0 681.5 2061.1 679.7 2063.1 678.9 2065.2 678.6 2067.3 670.9 2068.4 669.5 2069.3 670.8 2071.4 672.6 2073.4 673.8 2075.5 676.8 2077.6 680.9 2079.6 677.7 2081.7 680.5 2083.8 680.6 2085.8 680.3 2087.9 679.5 2089.9 678.0 2092.0 676.9 2094.1 668.9 2096.1 661.0 2096.9 659.8 2098.2 661.5 2100.2 665.8 2102.3 668.7 2104.4 671.6 2106.4 676.6 2108.5 679.0 2110.6 679.1 2112.6 680.0 2114.7 680.1 2116.7 682.0 2118.8 681.0 2120.9 680.7 2122.9 682.5 2125.0 682.9 2127.1 680.0 2129.1 684.5 2131.2 682.4 2133.2 682.3 2135.3 683.8 2137.4 682.5 2139.4 681.7 2141.5 685.3 2143.6 681.1 2145.6 682.4 2147.7 683.6 2149.7 681.2 2151.8 682.4 2153.9 683.0 2155.9 685.6 2158.0 681.4 2160.0 682.5 2162.1 683.4 2164.2 682.7 2166.2 681.0 2168.3 683.1 2170.4 682.7 2172.4 683.1 2174.5 684.0 2176.5 683.8 2178.6 683.0 2180.7 682.9 2182.7 681.1 2184.8 682.3 2186.9 682.7 2188.9 681.9 2191.0 682.5 2193.0 681.3 2195.1 684.3 2197.2 685.0 2199.2 681.7 2201.3 682.6 2203.3 681.7 2205.4 683.4 2207.5 682.1 2209.5 681.3 2211.6 680.2 2213.7 679.3 2215.7 674.9 2217.8 671.9 2219.5 666.8 2221.9 671.6 2224.0 672.8 2226.0 674.7 2228.1 676.3 2230.2 680.1 2232.2 678.8 2234.3 681.1 2236.3 680.1 2238.4 680.3 2240.5 679.4 2242.5 679.5 2244.6 674.3 2246.6 676.0 2248.3 672.9 2250.8 676.4 2252.8 673.0 2254.9 675.2 2257.0 675.6 2259.0 681.0 2261.1 678.3 2263.1 680.8 2265.2 680.5 2267.3 679.2 2269.3 681.3 2271.4 682.7 2273.5 681.7 2275.5 683.2 2277.6 681.6 2279.6 682.1 2281.7 681.6 2283.8 682.5 2285.8 684.5 2287.9 682.5 2289.9 682.2 2292.0 681.1 2294.1 680.8 2296.1 683.3 2298.2 679.8 2300.3 679.7 2302.3 680.3 2304.4 679.3 2306.4 681.8 2308.5 675.8 2310.2 679.0 2312.6 679.4 2314.7 677.3 2316.8 678.2 2318.8 680.1 2320.9 682.1 2322.9 679.4 2325.0 679.0 2327.1 682.5 2329.1 683.4 2331.2 681.3 2333.2 679.1 2335.3 683.7 2337.4 681.7 2339.4 683.4 2341.5 681.9 2343.6 681.5 2345.6 681.4 2347.7 683.7 2349.7 683.5 2351.8 678.9 2353.9 680.1 2355.9 683.1 2358.0 679.8 2360.1 677.5 2362.1 677.2 2364.2 673.4 2366.2 667.8 2368.3 663.2 2370.4 665.2 2372.4 667.8 2374.5 670.1 2376.6 671.3 2378.6 675.7"/><path d="M19.5 694.8 19.7 704.6 21.8 707.7 23.9 711.0 25.9 721.3 28.0 724.6 30.1 734.3 32.1 733.5 34.2 747.1 36.2 747.0 38.3 739.8 40.4 740.2 42.4 752.5 44.5 752.6 46.5 750.9 48.6 743.8 50.7 743.9 52.7 761.0 54.8 765.8 56.9 768.0 58.9 756.4 61.0 773.1 63.0 764.9 65.1 772.4 67.2 774.1 69.2 768.2 71.3 771.0 73.4 763.7 75.4 771.9 77.5 768.2 79.5 782.3 81.6 781.3 83.7 787.2 85.7 785.1 87.8 780.8 89.8 787.1 91.9 784.1 94.0 790.3 96.0 789.7 98.1 783.8 100.2 789.7 102.2 790.8 104.3 789.7 106.3 796.5 108.4 801.2 110.5 791.7 112.5 792.4 114.6 784.0 116.7 794.8 118.7 794.0 120.8 786.5 122.8 798.6 124.9 800.5 127.0 795.0 129.0 797.1 131.1 795.0 133.1 803.2 135.2 793.6 137.3 799.4 139.3 809.8 141.4 801.9 143.5 804.1 145.5 801.9 147.6 797.9 149.6 803.2 151.7 805.4 153.8 799.8 155.8 805.8 157.9 809.9 160.0 809.5 162.0 799.1 164.1 801.9 166.1 799.7 168.2 810.7 170.3 809.1 172.3 809.8 174.4 803.9 176.5 803.1 178.5 808.2 180.6 808.5 182.6 805.2 184.7 809.2 186.8 811.3 188.8 810.0 190.9 805.5 192.9 801.8 195.0 808.9 197.1 810.7 199.1 809.3 201.2 809.0 203.3 808.2 205.3 813.5 207.4 810.9 209.4 811.8 211.5 808.1 213.6 809.5 215.6 812.5 217.7 808.6 219.8 807.9 221.8 811.3 223.9 816.7 225.9 813.4 228.0 817.8 230.1 812.6 232.1 812.2 234.2 808.7 236.2 811.6 238.3 818.4 240.4 814.9 242.4 816.4 244.5 816.4 246.6 814.2 248.6 813.7 250.7 814.9 252.7 816.8 254.8 816.2 256.9 816.5 258.9 815.5 261.0 812.7 263.1 814.4 265.1 812.4 267.2 818.6 269.2 809.1 271.3 815.0 273.4 823.1 275.4 814.9 277.5 812.6 279.5 816.1 281.6 820.1 283.7 815.8 285.7 818.3 287.8 816.8 289.9 815.5 291.9 826.1 294.0 817.0 296.0 815.3 298.1 815.5 300.2 818.2 302.2 818.4 304.3 819.5 306.4 817.7 308.4 813.3 310.5 819.0 312.5 816.7 314.6 816.8 316.7 813.5 318.7 816.2 320.8 815.8 322.8 817.8 324.9 813.9 327.0 818.2 329.0 818.5 331.1 815.1 333.2 816.6 335.2 816.0 337.3 820.9 339.3 811.6 341.4 817.6 343.5 814.1 345.5 817.5 347.6 821.1 349.7 817.1 351.7 819.3 353.8 816.7 355.8 824.2 357.9 821.5 360.0 822.1 362.0 815.7 364.1 816.3 366.1 822.1 368.2 818.8 370.3 818.7 372.3 820.3 374.4 816.2 376.5 821.6 378.5 819.6 380.6 820.9 382.6 818.0 384.7 821.1 386.8 818.0 388.8 822.3 390.9 822.8 393.0 822.3 395.0 821.3 397.1 821.6 399.1 813.3 401.2 822.2 403.3 819.5 405.3 820.4 407.4 819.5 409.5 816.8 411.5 819.0 413.6 822.0 415.6 823.9 417.7 818.9 419.8 818.3 421.8 824.1 423.9 818.4 425.9 825.7 428.0 820.8 430.1 818.5 432.1 823.1 434.2 824.8 436.3 817.3 438.3 824.6 440.4 820.2 442.4 824.5 444.5 820.0 446.6 817.2 448.6 822.2 450.7 823.2 452.8 826.0 454.8 825.2 456.9 822.8 458.9 820.6 461.0 820.0 463.1 820.5 465.1 819.3 467.2 820.7 469.2 815.4 471.3 821.8 473.4 821.3 475.4 827.3 477.5 823.2 479.6 820.4 481.6 822.8 483.7 818.7 485.7 820.2 487.8 817.3 489.9 824.9 491.9 823.0 494.0 819.0 496.1 821.5 498.1 823.8 500.2 822.8 502.2 822.6 504.3 819.9 506.4 820.4 508.4 822.0 510.5 823.9 512.5 820.0 514.6 819.4 516.7 824.5 518.7 819.9 520.8 824.4 522.9 822.5 524.9 824.0 527.0 825.9 529.0 823.6 531.1 823.8 533.2 820.1 535.2 820.6 537.3 823.6 539.4 825.5 541.4 825.2 543.5 827.2 545.5 822.9 547.6 822.7 549.7 824.4 551.7 822.3 553.8 822.2 555.8 820.1 557.9 824.5 560.0 820.1 562.0 823.5 564.1 819.4 566.2 824.8 568.2 820.3 570.3 824.3 572.3 819.2 574.4 821.6 576.5 825.0 578.5 820.9 580.6 822.7 582.7 821.6 584.7 817.8 586.8 823.3 588.8 823.5 590.9 820.4 593.0 823.9 595.0 821.0 597.1 820.6 599.1 822.7 601.2 821.3 603.3 827.4 605.3 819.6 607.4 824.3 609.5 824.8 611.5 818.8 613.6 819.3 615.6 824.0 617.7 821.9 619.8 823.7 621.8 825.2 623.9 822.2 626.0 820.8 628.0 817.5 630.1 823.4 632.1 821.1 634.2 823.6 636.3 823.5 638.3 820.2 640.4 826.4 642.5 825.2 644.5 824.7 646.6 820.7 648.6 822.3 650.7 822.0 652.8 822.3 654.8 820.9 656.9 824.0 658.9 823.6 661.0 823.9 663.1 822.2 665.1 825.7 667.2 823.5 669.3 817.9 671.3 822.0 673.4 823.1 675.4 825.1 677.5 822.7 679.6 822.8 681.6 822.0 683.7 824.6 685.8 822.4 687.8 822.1 689.9 821.9 691.9 824.4 694.0 822.3 696.1 820.1 698.1 824.5 700.2 822.0 702.2 824.1 704.3 824.1 706.4 825.7 708.4 825.4 710.5 822.3 712.6 823.1 714.6 821.0 716.7 826.6 718.7 824.3 720.8 826.1 722.9 822.9 724.9 819.6 727.0 826.4 729.1 823.7 731.1 823.7 733.2 823.6 735.2 824.7 737.3 824.5 739.4 820.6 741.4 825.6 743.5 822.6 745.5 822.7 747.6 826.8 749.7 825.3 751.7 822.9 753.8 820.2 755.9 823.9 757.9 824.6 760.0 823.4 762.0 821.3 764.1 822.1 766.2 821.3 768.2 824.0 770.3 825.1 772.4 825.5 774.4 822.3 776.5 824.0 778.5 824.6 780.6 822.6 782.7 823.3 784.7 827.4 786.8 823.9 788.8 825.0 790.9 822.6 793.0 823.4 795.0 820.2 797.1 823.1 799.2 825.1 801.2 826.4 803.3 824.2 805.3 822.5 807.4 820.1 809.5 817.3 811.5 816.5 812.5 817.5 813.6 815.0 815.7 819.1 817.7 817.3 819.8 817.4 821.8 819.9 823.9 819.4 826.0 820.4 828.0 825.1 830.1 822.9 832.2 823.8 834.2 825.5 836.3 825.8 838.3 822.7 840.4 826.0 842.5 824.4 844.5 823.8 846.6 824.6 848.6 821.3 850.7 822.5 852.8 823.7 854.8 824.9 856.9 823.2 859.0 823.7 861.0 825.6 863.1 826.4 865.1 825.3 867.2 826.1 869.3 823.2 871.3 823.4 873.4 824.5 875.5 823.4 877.5 823.1 879.6 826.8 881.6 823.6 883.7 822.3 885.8 824.8 887.8 827.2 889.9 824.2 891.9 826.1 894.0 823.3 896.1 823.2 898.1 822.9 900.2 823.8 902.3 827.2 904.3 822.1 906.4 826.8 908.4 822.3 910.5 823.7 912.6 825.5 914.6 825.1 916.7 824.5 918.8 821.3 920.8 824.7 922.9 822.3 924.9 828.4 927.0 823.7 929.1 824.4 931.1 822.1 933.2 823.3 935.2 821.9 937.3 825.7 939.4 823.6 941.4 825.0 943.5 822.9 945.6 823.2 947.6 826.2 949.7 822.4 951.7 821.1 953.8 824.7 955.9 822.2 957.9 823.3 960.0 825.6 962.1 822.7 964.1 825.5 966.2 822.9 968.2 826.5 970.3 826.2 972.4 823.2 974.4 823.6 976.5 822.6 978.5 824.3 980.6 825.8 982.7 821.5 984.7 825.4 986.8 821.7 988.9 822.4 990.9 820.9 993.0 827.2 995.0 823.8 997.1 824.1 999.2 822.6 1001.2 825.4 1003.3 820.1 1005.4 823.5 1007.4 827.0 1009.5 822.7 1011.5 823.3 1013.6 824.3 1015.7 821.7 1017.7 823.0 1019.8 824.3 1021.8 822.9 1023.9 823.0 1026.0 821.5 1028.0 822.3 1030.1 821.5 1032.2 823.3 1034.2 821.5 1036.3 819.2 1038.3 814.6 1040.4 818.4 1042.5 816.7 1044.5 811.4 1046.6 805.7 1048.7 800.8 1050.7 792.3 1052.8 772.0 1054.8 739.0 1056.9 697.0 1058.0 682.3 1059.0 679.0 1061.0 700.6 1063.1 739.4 1065.2 772.7 1067.2 793.4 1069.3 802.4 1071.3 806.6 1073.4 811.5 1075.5 816.4 1077.5 816.1 1079.6 820.0 1081.6 820.2 1083.7 820.8 1085.8 822.0 1087.8 822.2 1089.9 820.4 1092.0 821.6 1094.0 826.0 1096.1 820.6 1098.1 821.9 1100.2 824.5 1102.3 822.7 1104.3 821.7 1106.4 821.0 1108.5 823.9 1110.5 824.7 1112.6 825.2 1114.6 822.9 1116.7 824.2 1118.8 820.5 1120.8 821.5 1122.9 818.9 1124.9 818.7 1127.0 818.4 1129.1 818.8 1131.1 816.6 1133.2 821.7 1135.3 820.4 1137.3 820.5 1139.4 822.5 1141.4 821.0 1143.5 823.5 1145.6 824.1 1147.6 823.5 1149.7 824.7 1151.8 823.5 1153.8 824.1 1155.9 821.9 1157.9 824.2 1160.0 822.9 1162.1 823.5 1164.1 824.1 1166.2 824.6 1168.2 821.8 1170.3 821.9 1172.4 823.9 1174.4 825.1 1176.5 824.9 1178.6 825.7 1180.6 826.4 1182.7 825.2 1184.7 824.4 1186.8 822.9 1188.9 823.0 1190.9 823.7 1193.0 824.9 1195.1 824.8 1197.1 824.5 1199.2 824.2 1201.2 825.4 1203.3 824.8 1205.4 824.9 1207.4 825.0 1209.5 823.7 1211.5 822.9 1213.6 825.2 1215.7 825.1 1217.7 824.2 1219.8 823.9 1221.9 827.9 1223.9 823.4 1226.0 824.2 1228.0 824.9 1230.1 822.8 1232.2 824.7 1234.2 827.2 1236.3 825.9 1238.4 825.4 1240.4 825.4 1242.5 824.6 1244.5 825.9 1246.6 824.2 1248.7 823.8 1250.7 824.6 1252.8 825.8 1254.9 824.9 1256.9 825.4 1259.0 821.4 1261.0 826.1 1263.1 827.8 1265.2 826.3 1267.2 823.8 1269.3 823.0 1271.3 824.6 1273.4 822.7 1275.5 825.2 1277.5 823.2 1279.6 825.3 1281.7 825.8 1283.7 820.6 1285.8 823.9 1287.8 822.2 1289.9 820.7 1292.0 821.4 1294.0 821.2 1296.1 821.8 1298.2 816.3 1300.2 817.7 1302.3 816.2 1304.3 811.3 1305.5 810.4 1306.4 809.2 1308.5 808.4 1310.5 813.4 1312.6 816.1 1314.6 819.1 1316.7 823.7 1318.8 822.3 1320.8 822.8 1322.9 825.0 1325.0 821.1 1327.0 821.7 1329.1 823.0 1331.1 822.8 1333.2 824.9 1335.3 823.5 1337.3 826.6 1339.4 826.3 1341.5 825.3 1343.5 823.6 1345.6 825.1 1347.6 825.4 1349.7 822.7 1351.8 824.8 1353.8 825.3 1355.9 824.6 1357.9 826.6 1360.0 826.1 1362.1 823.2 1364.1 824.5 1366.2 823.1 1368.3 825.2 1370.3 823.1 1372.4 825.7 1374.4 824.9 1376.5 825.7 1378.6 824.1 1380.6 822.2 1382.7 826.8 1384.8 824.0 1386.8 826.2 1388.9 824.8 1390.9 825.1 1393.0 826.7 1395.1 824.5 1397.1 825.9 1399.2 821.7 1401.2 825.0 1403.3 823.3 1405.4 823.3 1407.4 823.4 1409.5 823.6 1411.6 825.3 1413.6 819.9 1415.7 822.3 1417.7 820.7 1419.8 822.6 1421.9 819.3 1423.9 819.1 1426.0 815.5 1428.1 813.6 1430.1 809.2 1432.2 801.0 1434.2 795.4 1435.9 789.8 1438.4 792.8 1440.4 797.9 1442.5 801.7 1444.5 810.1 1446.6 810.0 1448.7 813.6 1450.7 816.5 1452.8 819.3 1454.9 821.0 1456.9 821.6 1459.0 822.1 1461.0 823.6 1463.1 822.2 1465.2 821.3 1467.2 821.5 1469.3 826.4 1471.4 820.3 1473.4 823.4 1475.5 825.8 1477.5 824.5 1479.6 822.7 1481.7 823.9 1483.7 825.2 1485.8 825.7 1487.9 822.8 1489.9 825.1 1492.0 824.5 1494.0 825.7 1496.1 826.1 1498.2 823.7 1500.2 822.1 1502.3 824.7 1504.3 826.6 1506.4 825.1 1508.5 824.5 1510.5 827.5 1512.6 822.7 1514.7 825.4 1516.7 823.3 1518.8 824.2 1520.8 824.2 1522.9 826.2 1525.0 822.7 1527.0 823.3 1529.1 821.8 1531.2 824.6 1533.2 823.3 1535.3 824.5 1537.3 822.3 1539.4 823.3 1541.5 825.1 1543.5 823.4 1545.6 824.4 1547.6 824.1 1549.7 822.8 1551.8 820.9 1553.8 824.2 1555.9 822.8 1558.0 823.6 1560.0 819.0 1562.1 818.9 1564.1 817.3 1566.2 817.7 1568.3 818.4 1570.3 814.8 1572.4 809.9 1574.5 805.2 1576.5 801.6 1577.6 798.5 1578.6 799.1 1580.6 799.9 1582.7 800.0 1584.8 807.2 1586.8 814.0 1588.9 814.9 1590.9 817.7 1593.0 818.6 1595.1 819.8 1597.1 822.8 1599.2 821.3 1601.3 820.6 1603.3 818.0 1605.4 821.7 1607.4 820.0 1609.5 820.3 1611.6 823.9 1613.6 823.9 1615.7 820.3 1617.8 824.1 1619.8 823.6 1621.9 821.9 1623.9 824.0 1626.0 820.8 1628.1 821.4 1630.1 821.0 1632.2 821.4 1634.2 824.1 1636.3 821.1 1638.4 821.3 1640.4 821.5 1642.5 823.0 1644.6 822.2 1646.6 823.8 1648.7 821.6 1650.7 820.7 1652.8 821.7 1654.9 822.4 1656.9 820.9 1659.0 822.5 1661.1 824.5 1663.1 821.1 1665.2 821.8 1667.2 823.5 1669.3 820.6 1671.4 820.2 1673.4 819.7 1675.5 821.6 1677.5 821.6 1679.6 820.5 1681.7 820.5 1683.7 822.0 1685.8 821.2 1687.9 817.9 1689.9 819.5 1692.0 819.4 1694.0 820.0 1696.1 818.4 1698.2 817.5 1700.2 817.4 1702.3 815.2 1704.4 817.3 1706.4 816.1 1708.5 817.1 1710.5 814.6 1712.6 814.9 1714.7 813.7 1716.7 813.0 1718.8 814.9 1720.9 812.7 1722.9 813.3 1725.0 810.4 1727.0 811.3 1729.1 808.0 1731.2 808.6 1733.2 807.4 1735.3 807.4 1737.3 805.0 1739.4 802.2 1741.5 800.9 1743.5 796.9 1745.6 794.4 1747.5 792.9 1749.7 791.2 1751.8 792.0 1753.5 794.5 1755.9 796.3 1758.0 799.7 1760.0 802.6 1762.1 803.6 1764.2 802.7 1766.2 801.9 1768.3 803.6 1770.3 803.1 1772.4 803.8 1774.5 800.1 1776.5 798.2 1778.6 797.1 1780.6 793.5 1781.6 793.5 1782.7 796.2 1784.8 797.1 1786.8 798.3 1788.9 801.1 1791.0 802.7 1793.0 807.8 1795.1 809.5 1797.1 811.7 1799.2 812.2 1801.3 814.0 1803.3 814.7 1805.4 816.2 1807.5 818.3 1809.5 817.5 1811.6 815.3 1813.6 816.6 1815.7 816.2 1817.8 817.7 1819.8 819.8 1821.9 819.9 1823.9 818.9 1826.0 820.3 1828.1 819.2 1830.1 818.6 1832.2 818.8 1834.3 819.8 1836.3 822.9 1838.4 819.5 1840.4 823.1 1842.5 823.3 1844.6 821.5 1846.6 821.8 1848.7 821.2 1850.8 822.1 1852.8 823.1 1854.9 822.4 1856.9 823.8 1859.0 824.1 1861.1 823.1 1863.1 823.2 1865.2 822.8 1867.2 823.4 1869.3 821.6 1871.4 823.6 1873.4 823.4 1875.5 822.1 1877.6 826.1 1879.6 822.1 1881.7 822.3 1883.7 823.8 1885.8 821.0 1887.9 822.5 1889.9 821.6 1892.0 822.4 1894.1 823.5 1896.1 824.1 1898.2 825.2 1900.2 824.9 1902.3 825.4 1904.4 824.6 1906.4 823.3 1908.5 825.4 1910.6 823.4 1912.6 823.2 1914.7 826.0 1916.7 825.1 1918.8 824.4 1920.9 825.1 1922.9 825.3 1925.0 822.4 1927.0 824.1 1929.1 822.7 1931.2 824.4 1933.2 823.4 1935.3 826.0 1937.4 825.0 1939.4 823.3 1941.5 824.3 1943.5 822.8 1945.6 824.4 1947.7 825.1 1949.7 824.8 1951.8 822.0 1953.9 824.0 1955.9 825.1 1958.0 824.9 1960.0 826.0 1962.1 822.9 1964.2 825.2 1966.2 823.7 1968.3 824.8 1970.3 825.1 1972.4 825.4 1974.5 823.8 1976.5 824.8 1978.6 823.1 1980.7 822.8 1982.7 825.3 1984.8 824.6 1986.8 822.6 1988.9 823.6 1991.0 824.7 1993.0 826.6 1995.1 826.0 1997.2 825.7 1999.2 822.4 2001.3 824.6 2003.3 825.3 2005.4 825.2 2007.5 825.2 2009.5 824.4 2011.6 826.9 2013.6 826.6 2015.7 824.6 2017.8 823.5 2019.8 827.3 2021.9 824.0 2024.0 826.2 2026.0 827.1 2028.1 823.5 2030.1 825.1 2032.2 824.3 2034.3 825.4 2036.3 825.1 2038.4 827.2 2040.5 825.5 2042.5 824.7 2044.6 826.1 2046.6 824.4 2048.7 824.2 2050.8 827.5 2052.8 823.6 2054.9 824.1 2056.9 824.7 2059.0 823.3 2061.1 822.0 2063.1 825.9 2065.2 823.6 2067.3 823.9 2069.3 824.0 2071.4 823.2 2073.4 823.1 2075.5 824.6 2077.6 827.3 2079.6 825.1 2081.7 825.1 2083.8 822.1 2085.8 823.8 2087.9 822.2 2089.9 824.4 2092.0 822.9 2094.1 822.9 2096.1 822.2 2098.2 820.9 2100.2 818.8 2102.3 820.3 2104.4 816.4 2106.4 814.9 2108.5 814.3 2110.6 812.2 2112.2 812.7 2114.7 813.5 2116.7 813.1 2118.8 814.3 2120.9 815.7 2122.9 818.4 2125.0 816.5 2127.1 820.6 2129.1 820.0 2131.2 820.4 2133.2 822.6 2135.3 822.5 2137.4 824.1 2139.4 825.0 2141.5 820.9 2143.6 823.9 2145.6 826.5 2147.7 825.3 2149.7 826.1 2151.8 824.5 2153.9 822.7 2155.9 823.1 2158.0 825.4 2160.0 825.8 2162.1 823.7 2164.2 824.3 2166.2 825.0 2168.3 822.5 2170.4 824.3 2172.4 826.7 2174.5 827.4 2176.5 824.6 2178.6 827.0 2180.7 824.1 2182.7 823.7 2184.8 822.0 2186.9 825.9 2188.9 824.3 2191.0 827.6 2193.0 825.1 2195.1 824.9 2197.2 822.4 2199.2 826.5 2201.3 824.1 2203.3 824.3 2205.4 821.8 2207.5 825.6 2209.5 825.6 2211.6 823.5 2213.7 824.3 2215.7 824.5 2217.8 825.0 2219.8 823.7 2221.9 825.4 2224.0 822.6 2226.0 821.7 2228.1 821.3 2230.2 818.0 2232.2 819.3 2234.3 820.6 2236.3 818.7 2238.4 816.5 2240.5 817.3 2242.5 814.1 2244.6 816.5 2246.6 818.0 2248.7 819.0 2250.8 818.1 2252.8 821.1 2254.9 823.2 2257.0 821.1 2259.0 823.2 2261.1 820.9 2263.1 820.8 2265.2 824.3 2267.3 823.9 2269.3 824.3 2271.4 823.5 2273.5 824.0 2275.5 825.4 2277.6 826.6 2279.6 824.3 2281.7 822.7 2283.8 826.3 2285.8 825.5 2287.9 825.7 2289.9 825.1 2292.0 827.7 2294.1 825.0 2296.1 825.6 2298.2 822.7 2300.3 824.3 2302.3 824.2 2304.4 825.0 2306.4 825.5 2308.5 824.2 2310.6 827.2 2312.6 823.8 2314.7 824.6 2316.8 825.4 2318.8 823.6 2320.9 825.8 2322.9 825.9 2325.0 824.8 2327.1 827.5 2329.1 825.3 2331.2 825.5 2333.2 824.0 2335.3 823.2 2337.4 824.4 2339.4 824.8 2341.5 824.7 2343.6 826.1 2345.6 822.3 2347.7 823.9 2349.7 823.0 2351.8 826.9 2353.9 824.6 2355.9 824.6 2358.0 823.9 2360.1 826.3 2362.1 824.8 2364.2 825.5 2366.2 822.8 2368.3 826.7 2370.4 825.7 2372.4 825.9 2374.5 826.8 2376.6 825.0 2378.6 825.1"/><path d="M19.5 842.0 19.7 848.7 21.8 853.8 23.9 860.6 25.9 861.7 28.0 876.5 30.1 882.7 32.1 879.6 34.2 897.5 36.2 875.6 38.3 888.5 40.4 905.4 42.4 893.2 44.5 887.7 46.5 910.7 48.6 907.2 50.7 897.8 52.7 912.8 54.8 903.1 56.9 903.1 58.9 912.3 61.0 911.9 63.0 909.8 65.1 915.7 67.2 913.4 69.2 921.0 71.3 921.9 73.4 927.5 75.4 921.8 77.5 918.1 79.5 919.3 81.6 926.3 83.7 937.0 85.7 934.2 87.8 927.1 89.8 936.4 91.9 926.2 94.0 938.4 96.0 932.0 98.1 938.6 100.2 938.6 102.2 934.8 104.3 938.5 106.3 932.3 108.4 937.8 110.5 944.0 112.5 959.0 114.6 943.3 116.7 941.0 118.7 936.4 120.8 946.6 122.8 934.6 124.9 939.0 127.0 944.8 129.0 938.2 131.1 951.0 133.1 949.4 135.2 942.5 137.3 943.0 139.3 940.1 141.4 940.2 143.5 948.5 145.5 949.7 147.6 948.9 149.6 948.9 151.7 945.8 153.8 949.9 155.8 942.7 157.9 949.1 160.0 955.4 162.0 955.1 164.1 948.2 166.1 949.0 168.2 956.1 170.3 957.9 172.3 945.3 174.4 949.8 176.5 952.6 178.5 956.6 180.6 949.0 182.6 954.9 184.7 951.5 186.8 961.9 188.8 954.8 190.9 952.9 192.9 952.3 195.0 957.7 197.1 956.5 199.1 950.3 201.2 955.2 203.3 949.8 205.3 952.1 207.4 950.4 209.4 950.5 211.5 952.9 213.6 952.1 215.6 957.6 217.7 958.7 219.8 955.2 221.8 952.3 223.9 959.2 225.9 949.6 228.0 950.1 230.1 959.3 232.1 959.2 234.2 960.4 236.2 956.6 238.3 953.2 240.4 955.9 242.4 959.6 244.5 955.3 246.6 955.7 248.6 953.5 250.7 954.4 252.7 961.1 254.8 960.0 256.9 954.9 258.9 955.3 261.0 957.0 263.1 960.7 265.1 955.4 267.2 958.6 269.2 952.5 271.3 955.4 273.4 960.8 275.4 962.4 277.5 956.1 279.5 957.4 281.6 962.4 283.7 958.8 285.7 958.4 287.8 961.8 289.9 960.9 291.9 963.7 294.0 962.9 296.0 958.8 298.1 960.3 300.2 960.6 302.2 956.8 304.3 958.0 306.4 963.9 308.4 956.4 310.5 964.1 312.5 962.1 314.6 960.9 316.7 962.9 318.7 962.8 320.8 965.0 322.8 960.4 324.9 961.0 327.0 961.0 329.0 967.2 331.1 964.6 333.2 959.3 335.2 961.1 337.3 960.1 339.3 962.2 341.4 962.8 343.5 968.7 345.5 957.3 347.6 965.3 349.7 963.7 351.7 960.6 353.8 962.2 355.8 961.3 357.9 962.8 360.0 965.5 362.0 958.7 364.1 966.4 366.1 961.9 368.2 967.0 370.3 964.2 372.3 966.4 374.4 964.7 376.5 966.1 378.5 963.4 380.6 961.1 382.6 965.1 384.7 965.3 386.8 969.0 388.8 958.2 390.9 963.0 393.0 966.4 395.0 960.4 397.1 963.1 399.1 969.2 401.2 967.4 403.3 961.6 405.3 967.5 407.4 967.0 409.5 966.0 411.5 965.0 413.6 964.7 415.6 961.9 417.7 962.8 419.8 966.0 421.8 964.6 423.9 968.9 425.9 963.5 428.0 958.3 430.1 963.5 432.1 965.1 434.2 965.4 436.3 964.6 438.3 962.5 440.4 968.2 442.4 963.0 444.5 966.4 446.6 964.0 448.6 961.8 450.7 968.2 452.8 958.7 454.8 962.7 456.9 965.9 458.9 964.0 461.0 966.7 463.1 964.7 465.1 963.9 467.2 970.2 469.2 964.5 471.3 964.7 473.4 962.5 475.4 963.3 477.5 966.7 479.6 966.5 481.6 965.2 483.7 963.6 485.7 966.9 487.8 961.3 489.9 964.5 491.9 964.7 494.0 963.4 496.1 965.7 498.1 963.9 500.2 963.6 502.2 969.6 504.3 967.2 506.4 968.3 508.4 965.7 510.5 967.8 512.5 967.4 514.6 968.4 516.7 971.0 518.7 965.1 520.8 966.3 522.9 965.6 524.9 957.7 527.0 962.6 529.0 965.8 531.1 967.2 533.2 964.5 535.2 968.3 537.3 968.7 539.4 964.9 541.4 969.0 543.5 969.7 545.5 966.8 547.6 963.6 549.7 969.0 551.7 965.4 553.8 964.8 555.8 965.9 557.9 964.3 560.0 967.7 562.0 966.8 564.1 967.3 566.2 965.2 568.2 960.7 570.3 958.9 572.3 954.7 574.4 945.1 576.5 955.5 578.5 955.9 580.6 959.9 582.7 966.0 584.7 966.1 586.8 965.0 588.8 965.0 590.9 966.6 593.0 967.7 595.0 967.6 597.1 965.4 599.1 967.1 601.2 968.0 603.3 967.9 605.3 959.8 607.4 964.5 609.5 964.8 611.5 966.0 613.6 966.8 615.6 968.4 617.7 967.8 619.8 966.3 621.8 966.6 623.9 970.3 626.0 965.3 628.0 967.2 630.1 969.9 632.1 967.3 634.2 962.4 636.3 967.4 638.3 965.9 640.4 966.4 642.5 968.8 644.5 967.7 646.6 966.1 648.6 968.5 650.7 967.6 652.8 966.9 654.8 967.3 656.9 967.2 658.9 966.0 661.0 965.7 663.1 966.7 665.1 964.7 667.2 964.1 669.3 969.2 671.3 966.1 673.4 966.5 675.4 966.2 677.5 966.5 679.6 966.4 681.6 966.4 683.7 964.6 685.8 967.9 687.8 964.5 689.9 967.7 691.9 961.5 694.0 962.9 696.1 966.5 698.1 963.5 700.2 961.5 702.2 962.1 704.3 956.8 706.4 954.5 708.4 944.0 710.5 924.7 712.6 889.4 713.9 872.3 714.6 871.0 716.7 894.4 718.7 928.6 720.8 946.2 722.9 951.0 724.9 954.6 727.0 964.7 729.1 963.0 731.1 962.8 733.2 963.3 735.2 963.2 737.3 968.3 739.4 965.8 741.4 969.7 743.5 966.0 745.5 962.0 747.6 968.3 749.7 966.1 751.7 966.4 753.8 969.9 755.9 966.5 757.9 969.3 760.0 967.1 762.0 965.7 764.1 968.2 766.2 966.1 768.2 969.6 770.3 969.1 772.4 967.5 774.4 968.5 776.5 968.5 778.5 966.9 780.6 969.1 782.7 967.0 784.7 968.6 786.8 965.7 788.8 967.7 790.9 968.3 793.0 966.1 795.0 966.8 797.1 966.6 799.2 969.0 801.2 966.3 803.3 968.5 805.3 970.5 807.4 968.3 809.5 964.7 811.5 967.9 813.6 969.6 815.7 967.2 817.7 969.8 819.8 968.9 821.8 968.5 823.9 967.3 826.0 966.8 828.0 967.3 830.1 967.9 832.2 968.8 834.2 968.6 836.3 967.3 838.3 968.0 840.4 968.6 842.5 964.9 844.5 966.5 846.6 966.4 848.6 967.5 850.7 967.4 852.8 967.4 854.8 966.3 856.9 969.1 859.0 968.4 861.0 964.9 863.1 968.0 865.1 965.9 867.2 971.0 869.3 967.1 871.3 967.2 873.4 968.1 875.5 967.6 877.5 967.9 879.6 970.8 881.6 968.4 883.7 969.5 885.8 970.0 887.8 966.2 889.9 971.0 891.9 969.2 894.0 969.7 896.1 966.5 898.1 969.5 900.2 968.7 902.3 967.0 904.3 972.0 906.4 969.0 908.4 967.5 910.5 968.3 912.6 969.5 914.6 969.8 916.7 968.7 918.8 969.6 920.8 969.6 922.9 963.4 924.9 961.6 926.1 959.2 927.0 961.1 929.1 965.6 931.1 966.9 933.2 965.2 935.2 967.0 937.3 969.5 939.4 966.9 941.4 967.7 943.5 968.4 945.6 964.8 947.6 969.3 949.7 968.5 951.7 968.9 953.8 966.2 955.9 966.5 957.9 966.7 960.0 967.9 962.1 966.8 964.1 965.2 965.1 967.5 966.2 966.7 968.2 964.3 970.3 965.7 972.4 970.4 974.4 967.1 976.5 970.2 978.5 970.6 980.6 966.9 982.7 967.4 984.7 968.0 986.8 966.3 988.9 966.1 990.9 967.0 993.0 969.1 995.0 966.9 997.1 967.2 999.2 966.7 1001.2 965.0 1003.3 969.8 1005.4 963.1 1007.4 965.7 1009.5 967.6 1011.5 963.9 1013.6 966.9 1015.7 967.5 1017.7 963.1 1019.8 963.8 1021.8 959.9 1023.9 960.0 1026.0 954.6 1028.0 945.1 1030.1 926.7 1032.2 895.7 1033.7 878.6 1034.2 876.4 1036.3 888.4 1038.3 916.9 1040.4 939.6 1042.5 949.1 1044.5 960.1 1046.6 961.1 1048.7 963.6 1050.7 962.7 1052.8 965.2 1054.8 966.2 1056.9 965.7 1059.0 966.7 1061.0 963.3 1063.1 969.3 1065.2 965.4 1067.2 963.7 1069.3 965.9 1071.3 966.2 1073.4 968.5 1075.5 966.2 1077.5 968.2 1079.6 966.2 1081.6 971.5 1083.7 968.8 1085.8 971.1 1087.8 966.2 1089.9 969.0 1092.0 966.3 1094.0 968.8 1096.1 968.9 1098.1 965.1 1100.2 965.8 1102.3 965.7 1104.3 965.1 1106.4 966.2 1108.5 965.7 1110.5 964.7 1112.6 966.9 1114.6 967.2 1116.7 963.6 1118.8 963.9 1120.8 963.4 1122.9 960.5 1124.9 955.4 1127.0 944.8 1129.1 924.0 1130.8 908.8 1133.2 914.9 1135.3 934.0 1137.3 950.2 1139.4 957.3 1141.4 961.8 1143.5 966.0 1145.6 964.0 1147.6 966.7 1149.7 966.7 1151.8 965.9 1153.8 966.9 1155.9 965.0 1157.9 966.8 1160.0 964.6 1162.1 971.6 1164.1 970.5 1166.2 970.1 1168.2 968.7 1170.3 969.8 1172.4 970.3 1174.4 969.9 1176.5 969.8 1178.6 966.9 1180.6 969.1 1182.7 967.6 1184.7 966.6 1186.8 966.6 1188.9 969.2 1190.9 970.2 1193.0 966.3 1195.1 971.3 1197.1 970.9 1199.2 967.9 1201.2 967.8 1203.3 968.5 1205.4 970.1 1207.4 968.0 1209.5 966.8 1211.5 969.1 1213.6 965.3 1215.7 968.8 1217.7 970.4 1219.8 969.1 1221.9 969.9 1223.9 969.4 1226.0 969.8 1228.0 968.9 1230.1 967.3 1232.2 968.3 1234.2 968.5 1236.3 970.6 1238.4 971.2 1240.4 969.3 1242.5 967.5 1244.5 967.5 1246.6 968.3 1248.7 970.8 1250.7 969.1 1252.8 968.5 1254.9 967.4 1256.9 970.0 1259.0 969.0 1261.0 968.5 1263.1 968.7 1265.2 971.1 1267.2 968.2 1269.3 971.0 1271.3 970.3 1273.4 968.3 1275.5 969.5 1277.5 967.8 1279.6 966.4 1281.7 966.9 1283.7 965.3 1285.8 966.3 1287.8 962.9 1289.9 958.4 1292.0 952.3 1294.0 946.1 1296.1 955.6 1298.2 957.7 1300.2 964.6 1302.3 964.8 1304.3 967.2 1306.4 969.6 1308.5 965.2 1310.5 968.3 1312.6 968.0 1314.6 965.3 1316.7 969.3 1318.8 968.4 1320.8 967.6 1322.9 967.3 1325.0 973.3 1327.0 967.8 1329.1 965.6 1331.1 966.9 1333.2 967.8 1335.3 967.7 1337.3 968.1 1339.4 966.5 1341.5 968.9 1343.5 967.2 1345.6 965.7 1347.6 966.3 1349.7 966.6 1351.8 968.0 1353.8 966.8 1355.9 964.5 1357.9 963.3 1360.0 960.1 1362.1 955.2 1364.1 936.0 1366.2 923.2 1368.3 927.1 1370.3 934.3 1372.4 949.7 1374.4 958.5 1376.5 961.9 1378.6 965.6 1380.6 967.5 1382.7 968.4 1384.8 966.9 1386.8 967.8 1388.9 971.3 1390.9 966.2 1393.0 968.4 1395.1 969.5 1397.1 968.5 1399.2 969.3 1401.2 968.6 1403.3 969.5 1405.4 970.3 1407.4 968.1 1409.5 968.7 1411.6 968.3 1413.6 967.8 1415.7 968.3 1417.7 966.5 1419.8 969.2 1421.9 970.4 1423.9 970.0 1426.0 968.5 1428.1 963.7 1430.1 965.6 1431.1 961.8 1432.2 962.7 1434.2 966.3 1436.3 963.3 1438.4 967.6 1440.4 967.7 1442.5 967.6 1444.5 966.8 1446.6 968.8 1448.7 967.6 1450.7 969.9 1452.8 970.2 1454.9 966.4 1456.9 967.7 1459.0 968.0 1461.0 966.7 1463.1 966.8 1465.2 968.5 1467.2 968.0 1469.3 965.8 1471.4 967.4 1473.4 968.9 1475.5 966.3 1477.5 966.6 1479.6 970.1 1481.7 969.6 1483.7 965.0 1485.8 965.1 1487.9 967.3 1489.9 964.5 1492.0 965.2 1494.0 963.9 1496.1 963.9 1498.2 956.9 1500.2 955.4 1502.3 946.8 1504.3 930.3 1506.4 904.5 1507.5 894.9 1508.5 895.4 1510.5 905.8 1512.6 921.6 1514.7 940.5 1516.7 953.3 1518.8 960.7 1520.8 962.4 1522.9 964.8 1525.0 965.1 1527.0 965.4 1529.1 965.2 1531.2 967.3 1533.2 966.8 1535.3 967.1 1537.3 969.0 1539.4 968.5 1541.5 969.1 1543.5 965.6 1545.6 968.6 1547.6 966.7 1549.7 965.7 1551.8 964.4 1553.3 966.7 1553.8 966.1 1555.9 964.4 1558.0 964.5 1560.0 967.2 1562.1 967.2 1564.1 970.6 1566.2 966.3 1568.3 965.8 1570.3 968.2 1572.4 968.6 1574.5 968.8 1576.5 969.7 1578.6 971.7 1580.6 968.2 1582.7 967.9 1584.8 966.2 1586.8 969.1 1588.9 969.9 1590.9 968.4 1593.0 970.4 1595.1 968.8 1597.1 970.9 1599.2 969.2 1601.3 967.2 1603.3 967.8 1605.4 966.5 1607.4 966.2 1609.5 969.0 1611.6 969.8 1613.6 971.3 1615.7 968.4 1617.8 968.1 1619.8 966.8 1621.9 969.7 1623.9 968.8 1626.0 967.3 1628.1 968.9 1630.1 968.6 1632.2 964.8 1634.2 968.2 1636.3 966.8 1638.4 965.1 1640.4 963.4 1642.5 963.2 1644.6 956.6 1646.6 949.1 1647.4 943.0 1648.7 944.1 1650.7 949.9 1652.8 951.3 1654.9 957.7 1656.9 959.7 1659.0 966.3 1661.1 965.1 1663.1 963.4 1665.2 963.5 1667.2 963.2 1669.3 964.0 1671.4 966.2 1673.4 964.6 1675.5 967.3 1677.5 964.5 1679.6 963.5 1681.7 965.8 1683.7 962.6 1685.8 961.9 1687.9 958.1 1689.9 952.2 1692.0 952.1 1694.0 944.3 1696.1 943.0 1697.2 936.5 1698.2 934.1 1700.2 932.6 1702.3 924.7 1704.4 907.5 1706.4 879.6 1707.7 869.5 1708.5 869.0 1710.5 884.2 1712.6 900.1 1714.7 923.6 1716.7 943.4 1718.8 951.4 1720.9 958.5 1722.9 961.7 1725.0 960.1 1727.0 962.2 1729.1 964.2 1731.2 964.6 1733.2 966.3 1735.3 963.5 1737.3 967.4 1739.4 967.4 1741.5 965.7 1743.5 962.8 1745.6 963.3 1747.7 962.9 1749.7 965.3 1751.8 965.3 1753.8 967.7 1755.9 966.8 1758.0 969.8 1760.0 964.8 1762.1 966.8 1764.2 969.0 1766.2 966.3 1768.3 969.5 1770.3 966.8 1772.4 968.7 1774.5 967.3 1776.5 968.0 1778.6 968.8 1780.6 968.5 1782.7 968.1 1784.8 971.6 1786.8 968.6 1788.9 967.3 1791.0 969.9 1793.0 969.7 1795.1 970.2 1797.1 970.9 1799.2 967.1 1801.3 969.8 1803.3 969.7 1805.4 968.0 1807.5 968.0 1809.5 963.1 1811.6 965.8 1813.6 967.7 1815.7 960.0 1817.8 956.0 1819.8 948.1 1820.9 945.4 1821.9 947.4 1823.9 946.9 1826.0 952.4 1828.1 959.4 1830.1 961.1 1832.2 965.4 1834.3 969.2 1836.3 969.0 1838.4 968.3 1840.4 964.2 1842.5 967.8 1844.6 968.5 1846.6 967.6 1848.7 967.9 1850.8 972.1 1852.8 967.5 1854.9 966.2 1856.9 967.6 1859.0 966.3 1861.1 965.5 1863.1 964.4 1865.2 963.0 1867.2 957.5 1869.3 949.1 1870.8 947.4 1871.4 948.0 1873.4 948.5 1875.5 953.2 1877.6 956.2 1879.6 956.9 1881.7 959.5 1883.7 959.7 1885.8 955.4 1886.9 951.9 1887.9 953.4 1889.9 953.4 1892.0 954.7 1894.1 960.9 1896.1 963.8 1898.2 966.2 1900.2 966.6 1902.3 967.8 1904.4 967.1 1906.4 968.7 1908.5 969.4 1910.6 968.4 1912.6 969.7 1914.7 966.3 1916.7 967.7 1918.8 970.8 1920.9 971.3 1922.9 969.3 1925.0 968.8 1927.0 967.3 1929.1 969.5 1931.2 970.1 1933.2 967.1 1935.3 969.8 1937.4 969.8 1939.4 969.7 1941.5 967.6 1943.5 969.9 1945.6 967.2 1947.7 971.2 1949.7 969.4 1951.8 967.6 1953.9 971.0 1955.9 970.8 1958.0 968.4 1960.0 972.2 1962.1 967.9 1964.2 969.7 1966.2 970.8 1968.3 966.2 1970.3 970.6 1972.4 969.2 1974.5 969.3 1976.5 967.8 1978.6 969.7 1980.7 967.8 1982.7 968.0 1984.8 968.7 1986.8 967.7 1988.9 971.4 1991.0 967.5 1993.0 968.3 1995.1 968.9 1997.2 969.3 1999.2 970.4 2001.3 970.4 2003.3 968.9 2005.4 968.8 2007.5 969.4 2009.5 970.4 2011.6 970.3 2013.6 968.6 2015.7 966.6 2017.8 972.2 2019.8 970.6 2021.9 969.7 2024.0 969.8 2026.0 968.6 2028.1 968.0 2030.1 968.9 2032.2 969.0 2034.3 968.5 2036.3 967.4 2038.4 968.9 2040.5 970.1 2042.5 968.7 2044.6 969.4 2046.6 966.6 2048.7 969.0 2050.8 969.2 2052.8 967.7 2054.9 967.0 2056.9 969.8 2059.0 968.2 2061.1 969.9 2063.1 968.7 2065.2 970.1 2067.3 968.8 2069.3 967.3 2071.4 969.1 2073.4 968.8 2075.5 970.1 2077.6 968.6 2079.6 968.7 2081.7 970.3 2083.8 970.7 2085.8 970.1 2087.9 970.4 2089.9 969.6 2092.0 969.9 2094.1 969.9 2096.1 969.1 2098.2 968.3 2100.2 967.9 2102.3 970.1 2104.4 965.8 2106.4 964.0 2108.5 962.7 2110.6 963.0 2112.6 963.9 2114.7 962.9 2116.7 962.8 2118.8 966.9 2120.9 965.3 2122.9 968.3 2125.0 968.5 2127.1 970.0 2129.1 970.8 2131.2 969.2 2133.2 968.0 2135.3 967.2 2137.4 967.7 2139.4 968.7 2141.5 965.9 2143.6 968.6 2145.6 968.2 2147.7 968.8 2149.7 966.9 2151.8 966.5 2153.9 964.0 2155.9 962.5 2158.0 958.9 2159.1 960.9 2160.0 962.6 2162.1 961.3 2164.2 962.5 2166.2 962.1 2168.3 966.8 2170.4 965.3 2172.4 968.3 2174.5 968.0 2176.5 967.0 2178.6 969.9 2180.7 968.7 2182.7 969.1 2184.8 969.5 2186.9 969.0 2188.9 968.5 2191.0 969.7 2193.0 968.6 2195.1 969.2 2197.2 968.3 2199.2 967.3 2201.3 968.3 2203.3 968.6 2205.4 969.2 2207.5 970.7 2209.5 967.0 2211.6 969.4 2213.7 966.4 2215.7 967.9 2217.8 968.6 2219.8 966.3 2221.9 966.8 2224.0 969.4 2226.0 969.3 2228.1 969.1 2230.2 968.2 2232.2 972.0 2234.3 969.0 2236.3 968.1 2238.4 971.3 2240.5 969.9 2242.5 968.6 2244.6 970.6 2246.6 969.3 2248.7 969.8 2250.8 969.3 2252.8 967.6 2254.9 970.1 2257.0 968.9 2259.0 967.2 2261.1 967.2 2263.1 968.9 2265.2 966.5 2267.3 965.9 2269.3 965.3 2271.4 963.5 2272.0 961.2 2273.5 963.9 2275.5 964.8 2277.6 965.4 2279.6 967.2 2281.7 966.7 2283.8 968.1 2285.8 969.8 2287.9 967.8 2289.9 970.6 2292.0 970.8 2294.1 969.6 2296.1 971.1 2298.2 969.8 2300.3 967.6 2302.3 970.2 2304.4 969.2 2306.4 969.3 2308.5 969.0 2310.6 970.5 2312.6 969.4 2314.7 967.8 2316.8 969.3 2318.8 969.6 2320.9 967.7 2322.9 968.0 2325.0 968.0 2327.1 967.7 2329.1 968.8 2331.2 969.6 2333.2 970.7 2335.3 969.7 2337.4 969.3 2339.4 969.4 2341.5 969.5 2343.6 967.2 2345.6 968.4 2347.7 967.7 2349.7 966.9 2351.8 966.2 2353.9 965.7 2355.9 965.6 2358.0 963.9 2360.1 965.5 2362.1 964.0 2364.2 963.1 2366.2 962.2 2368.3 961.2 2370.4 957.7 2372.4 956.2 2374.5 951.8 2376.6 948.3 2378.6 945.8"/><path d="M19.5 994.1 19.7 990.8 21.8 1001.8 23.9 1017.7 25.9 1006.2 28.0 1027.2 30.1 1032.6 32.1 1029.0 34.2 1043.3 36.2 1033.1 38.3 1026.1 40.4 1038.2 42.4 1034.0 44.5 1030.6 46.5 1033.4 48.6 1060.4 50.7 1043.2 52.7 1048.8 54.8 1046.6 56.9 1053.8 58.9 1053.2 61.0 1053.9 63.0 1050.6 65.1 1051.0 67.2 1056.7 69.2 1064.4 71.3 1076.4 73.4 1071.6 75.4 1077.3 77.5 1070.7 79.5 1068.6 81.6 1062.8 83.7 1071.3 85.7 1060.5 87.8 1071.7 89.8 1083.1 91.9 1077.0 94.0 1082.1 96.0 1075.0 98.1 1070.7 100.2 1076.2 102.2 1077.4 104.3 1086.3 106.3 1090.8 108.4 1078.0 110.5 1080.6 112.5 1082.3 114.6 1081.9 116.7 1078.3 118.7 1085.3 120.8 1087.1 122.8 1087.8 124.9 1080.9 127.0 1086.5 129.0 1079.6 131.1 1092.2 133.1 1084.0 135.2 1087.8 137.3 1087.5 139.3 1087.4 141.4 1085.7 143.5 1083.1 145.5 1098.7 147.6 1092.7 149.6 1093.1 151.7 1101.2 153.8 1092.3 155.8 1095.4 157.9 1093.5 160.0 1098.7 162.0 1096.2 164.1 1095.7 166.1 1093.7 168.2 1096.2 170.3 1100.0 172.3 1087.4 174.4 1095.4 176.5 1094.6 178.5 1095.3 180.6 1089.1 182.6 1099.8 184.7 1094.0 186.8 1096.7 188.8 1095.9 190.9 1091.7 192.9 1096.6 195.0 1091.6 197.1 1095.2 199.1 1097.7 201.2 1099.1 203.3 1099.5 205.3 1099.0 207.4 1107.5 209.4 1101.5 211.5 1095.7 213.6 1098.1 215.6 1098.2 217.7 1100.1 219.8 1098.7 221.8 1098.0 223.9 1107.0 225.9 1101.5 228.0 1100.4 230.1 1100.8 232.1 1101.1 234.2 1106.8 236.2 1103.8 238.3 1106.1 240.4 1092.0 242.4 1103.7 244.5 1106.3 246.6 1109.4 248.6 1103.1 250.7 1097.5 252.7 1105.2 254.8 1101.5 256.9 1097.7 258.9 1101.7 261.0 1107.2 263.1 1107.8 265.1 1106.3 267.2 1100.8 269.2 1112.2 271.3 1100.7 273.4 1104.2 275.4 1100.1 277.5 1108.8 279.5 1106.2 281.6 1107.7 283.7 1105.3 285.7 1104.9 287.8 1105.7 289.9 1099.5 291.9 1108.4 294.0 1108.3 296.0 1104.4 298.1 1105.6 300.2 1106.7 302.2 1110.6 304.3 1107.2 306.4 1106.2 308.4 1104.6 310.5 1101.8 312.5 1104.5 314.6 1106.6 316.7 1105.7 318.7 1106.8 320.8 1108.8 322.8 1107.9 324.9 1107.6 327.0 1108.7 329.0 1107.4 331.1 1106.9 333.2 1108.4 335.2 1102.2 337.3 1110.7 339.3 1103.6 341.4 1109.7 343.5 1107.4 345.5 1110.6 347.6 1107.6 349.7 1105.0 351.7 1110.6 353.8 1108.2 355.8 1108.1 357.9 1108.1 360.0 1110.6 362.0 1110.2 364.1 1108.6 366.1 1103.9 368.2 1107.0 370.3 1108.5 372.3 1113.1 374.4 1109.3 376.5 1108.1 378.5 1111.6 380.6 1108.2 382.6 1108.4 384.7 1109.0 386.8 1104.7 388.8 1111.2 390.9 1109.8 393.0 1108.0 395.0 1105.8 397.1 1109.4 399.1 1112.5 401.2 1107.3 403.3 1106.2 405.3 1110.1 407.4 1105.0 409.5 1103.4 411.5 1108.0 413.6 1107.5 415.6 1108.5 417.7 1107.9 419.8 1110.2 421.8 1108.8 423.9 1107.9 425.9 1108.3 428.0 1111.1 430.1 1111.9 432.1 1111.8 434.2 1111.3 436.3 1101.5 438.3 1107.2 440.4 1108.9 442.4 1110.3 444.5 1105.8 446.6 1113.3 448.6 1110.6 450.7 1108.4 452.8 1110.3 454.8 1109.1 456.9 1108.2 458.9 1111.3 461.0 1109.0 463.1 1106.7 465.1 1108.6 467.2 1109.9 469.2 1107.6 471.3 1113.2 473.4 1107.7 475.4 1114.5 477.5 1112.4 479.6 1108.1 481.6 1110.7 483.7 1113.2 485.7 1110.0 487.8 1107.6 489.9 1110.7 491.9 1115.2 494.0 1107.1 496.1 1111.8 498.1 1110.6 500.2 1110.3 502.2 1109.7 504.3 1109.9 506.4 1113.1 508.4 1112.1 510.5 1108.4 512.5 1114.3 514.6 1107.8 516.7 1112.3 518.7 1111.2 520.8 1113.6 522.9 1111.7 524.9 1113.3 527.0 1110.8 529.0 1113.1 531.1 1111.7 533.2 1115.7 535.2 1109.4 537.3 1113.6 539.4 1112.0 541.4 1111.3 543.5 1109.6 545.5 1111.9 547.6 1107.6 549.7 1107.8 551.7 1112.3 553.8 1107.3 555.8 1113.8 557.9 1109.8 560.0 1110.7 562.0 1110.0 564.1 1110.2 566.2 1107.7 568.2 1105.5 570.3 1101.5 572.3 1095.3 574.4 1086.4 576.5 1090.6 578.5 1098.8 580.6 1104.1 582.7 1103.9 584.7 1110.4 586.8 1111.6 588.8 1109.4 590.9 1112.3 593.0 1113.6 595.0 1111.2 597.1 1113.4 599.1 1111.9 601.2 1107.6 603.3 1110.4 605.3 1110.5 607.4 1112.6 609.5 1109.7 611.5 1110.6 613.6 1109.5 615.6 1111.5 617.7 1111.8 619.8 1113.7 621.8 1113.3 623.9 1112.0 626.0 1112.2 628.0 1111.9 630.1 1112.0 632.1 1115.0 634.2 1106.6 636.3 1111.4 638.3 1112.4 640.4 1114.1 642.5 1109.5 644.5 1112.5 646.6 1113.6 648.6 1110.9 650.7 1107.9 652.8 1111.1 654.8 1109.3 656.9 1113.1 658.9 1110.0 661.0 1115.4 663.1 1112.0 665.1 1110.1 667.2 1110.7 669.3 1109.4 671.3 1112.4 673.4 1114.6 675.4 1111.1 677.5 1113.3 679.6 1109.4 681.6 1111.8 683.7 1115.7 685.8 1108.1 687.8 1113.1 689.9 1112.7 691.9 1106.3 694.0 1106.7 696.1 1107.0 698.1 1110.0 700.2 1105.9 702.2 1104.5 704.3 1103.1 706.4 1095.9 708.4 1084.0 710.5 1057.6 712.6 1013.1 713.9 989.0 714.6 988.5 716.7 1018.8 718.7 1060.9 720.8 1085.8 722.9 1097.6 724.9 1098.2 727.0 1105.6 729.1 1104.4 731.1 1106.7 733.2 1110.7 735.2 1108.2 737.3 1111.0 739.4 1110.0 741.4 1114.7 743.5 1111.0 745.5 1109.2 747.6 1109.5 749.7 1110.0 751.7 1112.1 753.8 1111.9 755.9 1113.9 757.9 1112.4 760.0 1112.4 762.0 1112.8 764.1 1112.0 766.2 1112.9 768.2 1113.8 770.3 1113.9 772.4 1111.4 774.4 1109.1 776.5 1111.0 778.5 1113.0 780.6 1107.8 782.7 1111.7 784.7 1113.4 786.8 1111.5 788.8 1110.5 790.9 1115.9 793.0 1115.3 795.0 1112.2 797.1 1115.2 799.2 1115.1 801.2 1110.6 803.3 1117.7 805.3 1111.0 807.4 1112.3 809.5 1110.8 811.5 1112.9 813.6 1110.4 815.7 1112.8 817.7 1114.8 819.8 1113.2 821.8 1112.4 823.9 1115.7 826.0 1111.2 828.0 1114.7 830.1 1112.3 832.2 1113.3 834.2 1113.0 836.3 1113.2 838.3 1112.8 840.4 1111.5 842.5 1111.9 844.5 1113.8 846.6 1112.8 848.6 1110.9 850.7 1111.7 852.8 1111.7 854.8 1112.9 856.9 1113.3 859.0 1113.2 861.0 1111.8 863.1 1113.0 865.1 1110.6 867.2 1107.8 869.3 1112.9 871.3 1110.1 873.4 1111.3 875.5 1110.9 877.5 1114.2 879.6 1110.9 881.6 1113.5 883.7 1112.2 885.8 1110.9 887.8 1110.3 889.9 1113.9 891.9 1113.8 894.0 1114.4 896.1 1116.3 898.1 1113.6 900.2 1113.6 902.3 1112.9 904.3 1113.3 906.4 1112.5 908.4 1111.5 910.5 1116.6 912.6 1109.8 914.6 1113.5 916.7 1113.9 918.8 1113.4 920.8 1111.4 922.9 1112.8 924.9 1112.3 927.0 1111.2 929.1 1113.0 931.1 1112.4 933.2 1112.1 935.2 1114.3 937.3 1111.3 939.4 1113.9 941.4 1112.0 943.5 1113.8 945.6 1113.2 947.6 1113.5 949.7 1111.4 951.7 1111.7 953.8 1111.6 955.9 1113.4 957.9 1114.3 960.0 1114.9 962.1 1112.2 964.1 1113.2 966.2 1110.2 968.2 1109.2 970.3 1111.5 972.4 1111.8 974.4 1110.3 976.5 1109.9 978.5 1113.8 980.6 1111.5 982.7 1109.9 984.7 1116.7 986.8 1113.0 988.9 1112.1 990.9 1113.8 993.0 1111.3 995.0 1115.2 997.1 1109.8 999.2 1110.0 1001.2 1111.9 1003.3 1110.7 1005.4 1114.1 1007.4 1108.8 1009.5 1110.0 1011.5 1111.2 1013.6 1111.3 1015.7 1111.3 1017.7 1109.3 1019.8 1111.1 1021.8 1104.5 1023.9 1102.4 1026.0 1097.9 1028.0 1084.9 1030.1 1061.9 1032.2 1024.8 1033.7 1003.3 1034.2 1000.8 1036.3 1016.8 1038.3 1050.1 1040.4 1078.4 1042.5 1090.2 1044.5 1103.9 1046.6 1107.2 1048.7 1108.6 1050.7 1107.9 1052.8 1108.3 1054.8 1112.1 1056.9 1110.9 1059.0 1112.0 1061.0 1110.2 1063.1 1113.4 1065.2 1110.5 1067.2 1112.2 1069.3 1109.3 1071.3 1111.2 1073.4 1113.2 1075.5 1111.7 1077.5 1111.7 1079.6 1113.8 1081.6 1112.4 1083.7 1114.6 1085.8 1108.6 1087.8 1113.5 1089.9 1113.4 1092.0 1110.1 1094.0 1110.4 1096.1 1113.9 1098.1 1110.7 1100.2 1111.3 1102.3 1113.2 1104.3 1111.6 1106.4 1112.7 1108.5 1110.3 1110.5 1111.9 1112.6 1112.8 1114.6 1111.0 1116.7 1106.1 1118.8 1109.5 1120.8 1106.6 1122.9 1101.6 1124.9 1096.8 1127.0 1080.3 1129.1 1054.0 1130.8 1032.5 1133.2 1042.3 1135.3 1065.9 1137.3 1087.2 1139.4 1099.4 1141.4 1105.2 1143.5 1108.3 1145.6 1110.8 1147.6 1108.7 1149.7 1111.7 1151.8 1112.6 1153.8 1111.3 1155.9 1110.6 1157.9 1110.8 1160.0 1113.7 1162.1 1113.9 1164.1 1111.4 1166.2 1110.7 1168.2 1114.9 1170.3 1110.5 1172.4 1113.3 1174.4 1111.8 1176.5 1110.4 1178.6 1113.4 1180.6 1112.9 1182.7 1115.5 1184.7 1116.9 1186.8 1113.0 1188.9 1114.9 1190.9 1115.0 1193.0 1112.5 1195.1 1112.0 1197.1 1115.9 1199.2 1112.8 1201.2 1113.4 1203.3 1113.0 1205.4 1113.2 1207.4 1112.5 1209.5 1114.6 1211.5 1115.4 1213.6 1112.9 1215.7 1111.3 1217.7 1113.6 1219.8 1111.2 1221.9 1112.5 1223.9 1115.4 1226.0 1117.1 1228.0 1114.1 1230.1 1111.9 1232.2 1114.7 1234.2 1110.0 1236.3 1112.4 1238.4 1115.9 1240.4 1114.6 1242.5 1111.4 1244.5 1110.9 1246.6 1114.8 1248.7 1113.4 1250.7 1112.5 1252.8 1114.1 1254.9 1112.5 1256.9 1110.4 1259.0 1114.6 1261.0 1112.3 1263.1 1111.7 1265.2 1111.1 1267.2 1113.5 1269.3 1111.7 1271.3 1113.7 1273.4 1112.1 1275.5 1113.6 1277.5 1110.4 1279.6 1108.3 1281.1 1105.2 1281.7 1106.3 1283.7 1108.8 1285.8 1111.8 1287.8 1102.6 1289.9 1096.3 1292.0 1090.0 1294.0 1090.5 1296.1 1094.0 1298.2 1102.6 1300.2 1105.0 1302.3 1109.5 1304.3 1112.5 1306.4 1114.2 1308.5 1111.8 1310.5 1111.9 1312.6 1113.1 1314.6 1114.1 1316.7 1113.1 1318.8 1111.0 1320.8 1112.2 1322.9 1112.4 1325.0 1108.8 1327.0 1106.6 1329.1 1108.5 1331.1 1108.3 1333.2 1110.0 1335.3 1109.8 1337.3 1109.7 1339.4 1110.7 1341.5 1110.2 1343.5 1110.5 1345.6 1111.1 1347.6 1111.1 1349.7 1113.3 1351.8 1109.3 1353.8 1110.5 1355.9 1108.5 1357.9 1109.8 1360.0 1103.9 1362.1 1095.3 1364.1 1079.6 1366.2 1063.4 1368.3 1067.0 1370.3 1078.6 1372.4 1092.9 1374.4 1104.9 1376.5 1108.7 1378.6 1110.4 1380.6 1110.7 1382.7 1109.7 1384.8 1112.9 1386.8 1112.4 1388.9 1113.5 1390.9 1112.7 1393.0 1111.8 1395.1 1111.5 1397.1 1114.1 1399.2 1115.0 1401.2 1112.8 1403.3 1113.9 1405.4 1115.3 1407.4 1112.0 1409.5 1112.8 1411.6 1111.6 1413.6 1114.9 1415.7 1113.5 1417.7 1112.4 1419.8 1110.5 1421.9 1112.3 1423.9 1113.6 1426.0 1110.7 1428.1 1108.8 1430.1 1108.3 1431.1 1105.0 1432.2 1106.8 1434.2 1108.5 1436.3 1108.1 1438.4 1109.7 1440.4 1112.3 1442.5 1112.4 1444.5 1112.5 1446.6 1113.3 1448.7 1113.5 1450.7 1111.9 1452.8 1112.3 1454.9 1113.9 1456.9 1114.9 1459.0 1115.2 1461.0 1112.0 1463.1 1114.8 1465.2 1114.3 1467.2 1113.1 1469.3 1113.8 1471.4 1114.2 1473.4 1115.5 1475.5 1111.2 1477.5 1113.5 1479.6 1112.3 1481.7 1111.9 1483.7 1113.6 1485.8 1112.8 1487.9 1109.7 1489.9 1110.1 1492.0 1110.0 1494.0 1106.3 1496.1 1107.8 1498.2 1103.3 1500.2 1097.9 1502.3 1086.7 1504.3 1065.2 1506.4 1032.5 1507.5 1021.1 1508.5 1021.4 1510.5 1033.4 1512.6 1053.9 1514.7 1077.5 1516.7 1094.9 1518.8 1101.6 1520.8 1106.0 1522.9 1107.9 1525.0 1109.0 1527.0 1109.1 1529.1 1109.8 1531.2 1112.1 1533.2 1112.0 1535.3 1114.5 1537.3 1111.3 1539.4 1111.9 1541.5 1111.3 1543.5 1114.9 1545.6 1111.3 1547.6 1114.2 1549.7 1115.2 1551.8 1113.1 1553.8 1114.4 1555.9 1110.4 1558.0 1112.9 1560.0 1111.1 1562.1 1113.7 1564.1 1113.5 1566.2 1112.5 1568.3 1114.9 1570.3 1114.1 1572.4 1112.9 1574.5 1112.9 1576.5 1111.5 1578.6 1113.4 1580.6 1116.6 1582.7 1112.6 1584.8 1114.2 1586.8 1112.9 1588.9 1114.8 1590.9 1114.2 1593.0 1113.3 1595.1 1111.1 1597.1 1112.9 1599.2 1115.3 1601.3 1113.2 1603.3 1114.4 1605.4 1112.8 1607.4 1110.9 1609.5 1114.1 1611.6 1113.9 1613.6 1112.6 1615.7 1112.8 1617.8 1113.7 1619.8 1112.4 1621.9 1113.6 1623.9 1112.7 1626.0 1109.5 1628.1 1112.5 1630.1 1111.6 1632.2 1110.9 1634.2 1112.2 1636.3 1110.3 1638.4 1110.6 1640.4 1109.4 1642.5 1104.0 1644.6 1093.8 1646.6 1085.3 1647.4 1085.8 1648.7 1084.5 1650.7 1087.9 1652.8 1094.6 1654.9 1102.5 1656.9 1106.7 1659.0 1109.5 1661.1 1108.6 1663.1 1109.9 1665.2 1110.1 1667.2 1110.5 1669.3 1107.5 1671.4 1109.9 1673.4 1108.0 1675.5 1111.3 1677.5 1110.9 1679.6 1110.1 1681.7 1107.6 1683.7 1103.8 1685.8 1103.0 1687.9 1097.4 1689.9 1093.1 1692.0 1083.9 1694.0 1076.3 1696.1 1070.3 1697.2 1068.9 1698.2 1063.9 1700.2 1060.7 1702.3 1054.5 1704.4 1037.8 1706.4 1012.7 1707.7 1002.3 1708.5 1004.0 1710.5 1021.0 1712.6 1039.1 1714.7 1064.6 1716.7 1085.4 1718.8 1095.3 1720.9 1100.8 1722.9 1104.4 1725.0 1106.6 1727.0 1108.7 1729.1 1109.0 1731.2 1110.5 1733.2 1108.6 1735.3 1112.0 1737.3 1113.7 1739.4 1111.9 1741.5 1110.0 1743.5 1114.0 1745.6 1111.9 1747.7 1108.5 1749.7 1112.4 1751.8 1113.6 1753.8 1113.5 1755.9 1114.7 1758.0 1114.0 1760.0 1113.4 1762.1 1110.6 1764.2 1111.8 1766.2 1113.6 1768.3 1114.3 1770.3 1112.1 1772.4 1112.7 1774.5 1114.2 1776.5 1111.0 1778.6 1110.9 1780.6 1113.3 1782.7 1113.9 1784.8 1113.0 1786.8 1110.5 1788.9 1113.6 1791.0 1111.8 1793.0 1114.5 1795.1 1113.4 1797.1 1113.9 1799.2 1114.4 1801.3 1112.7 1803.3 1114.5 1805.4 1114.9 1807.5 1113.6 1809.5 1114.6 1811.6 1111.5 1813.6 1112.8 1815.7 1110.2 1817.8 1104.8 1819.8 1100.3 1820.9 1097.8 1821.9 1098.0 1823.9 1101.7 1826.0 1104.9 1828.1 1106.6 1830.1 1110.2 1832.2 1109.6 1834.3 1112.4 1836.3 1114.2 1838.4 1113.9 1840.4 1113.6 1842.5 1112.3 1844.6 1111.7 1846.6 1112.8 1848.7 1111.0 1850.8 1111.0 1852.8 1113.7 1854.9 1110.9 1856.9 1114.1 1859.0 1109.1 1861.1 1110.5 1863.1 1106.5 1865.2 1104.8 1867.2 1097.0 1869.3 1090.1 1870.8 1085.7 1871.4 1084.9 1873.4 1088.6 1875.5 1093.0 1877.6 1094.4 1879.6 1100.2 1881.7 1099.4 1883.7 1095.3 1885.8 1092.0 1886.9 1083.7 1887.9 1086.1 1889.9 1088.0 1892.0 1093.9 1894.1 1099.5 1896.1 1110.2 1898.2 1108.8 1900.2 1112.6 1902.3 1113.0 1904.4 1111.4 1906.4 1113.1 1908.5 1115.0 1910.6 1113.3 1912.6 1113.5 1914.7 1114.0 1916.7 1111.5 1918.8 1112.5 1920.9 1114.1 1922.9 1114.5 1925.0 1112.6 1927.0 1113.4 1929.1 1113.7 1931.2 1113.7 1933.2 1114.9 1935.3 1114.1 1937.4 1114.2 1939.4 1112.2 1941.5 1112.7 1943.5 1114.5 1945.6 1112.0 1947.7 1114.5 1949.7 1113.3 1951.8 1113.1 1953.9 1115.0 1955.9 1113.3 1958.0 1113.1 1960.0 1113.3 1962.1 1114.3 1964.2 1117.8 1966.2 1111.4 1968.3 1114.2 1970.3 1113.9 1972.4 1115.5 1974.5 1113.8 1976.5 1111.0 1978.6 1116.0 1980.7 1112.8 1982.7 1114.2 1984.8 1112.5 1986.8 1112.8 1988.9 1113.6 1991.0 1115.4 1993.0 1115.4 1995.1 1113.5 1997.2 1114.9 1999.2 1113.8 2001.3 1114.4 2003.3 1114.5 2005.4 1115.1 2007.5 1113.5 2009.5 1114.1 2011.6 1114.6 2013.6 1114.4 2015.7 1113.3 2017.8 1116.5 2019.8 1113.7 2021.9 1115.3 2024.0 1114.6 2026.0 1115.9 2028.1 1111.5 2030.1 1117.0 2032.2 1114.0 2034.3 1112.7 2036.3 1114.5 2038.4 1117.2 2040.5 1114.9 2042.5 1112.7 2044.6 1113.7 2046.6 1116.0 2048.7 1112.5 2050.8 1114.0 2052.8 1113.9 2054.9 1117.1 2056.9 1113.9 2059.0 1116.0 2061.1 1113.4 2063.1 1113.2 2065.2 1115.5 2067.3 1115.0 2069.3 1112.0 2071.4 1115.0 2073.4 1115.0 2075.5 1113.4 2077.6 1114.4 2079.6 1114.5 2081.7 1113.5 2083.8 1113.3 2085.8 1113.1 2087.9 1113.6 2089.9 1112.1 2092.0 1113.7 2094.1 1111.7 2096.1 1113.4 2098.2 1112.9 2100.2 1111.0 2102.3 1112.5 2104.4 1112.5 2106.4 1110.0 2108.5 1105.2 2110.6 1108.4 2112.6 1107.7 2114.7 1108.3 2116.7 1108.9 2118.8 1110.9 2120.9 1113.8 2122.9 1113.3 2125.0 1112.5 2127.1 1112.4 2129.1 1112.9 2131.2 1114.3 2133.2 1116.0 2135.3 1112.2 2137.4 1113.5 2139.4 1113.0 2141.5 1112.4 2143.6 1113.7 2145.6 1113.6 2147.7 1110.7 2149.7 1110.4 2151.8 1112.1 2153.9 1109.1 2155.9 1107.0 2158.0 1103.3 2159.1 1102.7 2160.0 1103.6 2162.1 1103.0 2164.2 1103.5 2166.2 1106.6 2168.3 1109.8 2170.4 1109.1 2172.4 1113.0 2174.5 1113.3 2176.5 1111.9 2178.6 1113.3 2180.7 1113.4 2182.7 1114.5 2184.8 1114.6 2186.9 1112.2 2188.9 1112.2 2191.0 1115.3 2193.0 1114.2 2195.1 1114.6 2197.2 1114.5 2199.2 1116.0 2201.3 1112.6 2203.3 1115.5 2205.4 1113.1 2207.5 1115.1 2209.5 1115.9 2211.6 1112.4 2213.7 1114.7 2215.7 1113.8 2217.8 1113.8 2219.8 1114.2 2221.9 1112.9 2224.0 1113.0 2226.0 1115.0 2228.1 1115.2 2230.2 1113.4 2232.2 1112.3 2234.3 1117.1 2236.3 1115.5 2238.4 1114.6 2240.5 1112.8 2242.5 1113.3 2244.6 1114.3 2246.6 1112.8 2248.7 1116.0 2250.8 1114.1 2252.8 1114.3 2254.9 1112.4 2257.0 1112.4 2259.0 1112.3 2261.1 1113.3 2263.1 1112.1 2265.2 1111.1 2267.3 1110.5 2269.3 1108.8 2271.4 1109.0 2272.0 1106.7 2273.5 1105.6 2275.5 1107.4 2277.6 1110.1 2279.6 1108.6 2281.7 1110.7 2283.8 1111.2 2285.8 1113.0 2287.9 1113.3 2289.9 1112.2 2292.0 1113.2 2294.1 1114.7 2296.1 1115.0 2298.2 1114.8 2300.3 1114.8 2302.3 1113.3 2304.4 1113.3 2306.4 1114.9 2308.5 1112.3 2310.6 1113.7 2312.6 1111.4 2314.7 1113.2 2316.8 1112.8 2318.8 1112.2 2320.9 1114.3 2322.9 1112.7 2325.0 1113.1 2327.1 1113.2 2329.1 1112.5 2331.2 1115.1 2333.2 1112.7 2335.3 1113.4 2337.4 1111.5 2339.4 1112.4 2341.5 1112.5 2343.6 1112.3 2345.6 1111.8 2347.7 1112.5 2349.7 1114.1 2351.8 1111.7 2353.9 1111.3 2355.9 1110.6 2358.0 1113.8 2360.1 1112.0 2362.1 1109.9 2364.2 1109.2 2366.2 1106.2 2368.3 1105.5 2370.4 1104.3 2372.4 1102.1 2374.5 1098.6 2376.6 1096.1 2378.6 1095.1"/><path d="M19.5 1135.2 19.7 1135.6 21.8 1147.1 23.9 1162.5 25.9 1152.1 28.0 1163.7 30.1 1155.0 32.1 1176.2 34.2 1165.5 36.2 1168.1 38.3 1178.0 40.4 1199.7 42.4 1181.8 44.5 1180.1 46.5 1194.1 48.6 1194.9 50.7 1206.2 52.7 1189.6 54.8 1189.7 56.9 1199.5 58.9 1205.5 61.0 1207.1 63.0 1212.9 65.1 1199.3 67.2 1204.7 69.2 1210.1 71.3 1216.9 73.4 1216.1 75.4 1212.4 77.5 1210.3 79.5 1221.7 81.6 1223.1 83.7 1233.3 85.7 1219.1 87.8 1229.4 89.8 1215.7 91.9 1220.0 94.0 1220.2 96.0 1222.1 98.1 1220.9 100.2 1223.3 102.2 1226.4 104.3 1225.3 106.3 1231.2 108.4 1228.4 110.5 1229.4 112.5 1236.8 114.6 1232.0 116.7 1231.9 118.7 1231.7 120.8 1232.6 122.8 1235.3 124.9 1229.8 127.0 1238.8 129.0 1241.1 131.1 1239.7 133.1 1233.1 135.2 1228.9 137.3 1234.2 139.3 1237.1 141.4 1240.3 143.5 1236.5 145.5 1236.4 147.6 1244.2 149.6 1235.7 151.7 1243.0 153.8 1242.7 155.8 1234.2 157.9 1240.8 160.0 1237.9 162.0 1236.7 164.1 1233.6 166.1 1235.0 168.2 1242.8 170.3 1240.1 172.3 1242.8 174.4 1238.1 176.5 1241.1 178.5 1241.6 180.6 1237.2 182.6 1237.0 184.7 1244.9 186.8 1244.1 188.8 1240.4 190.9 1243.6 192.9 1246.5 195.0 1250.8 197.1 1241.5 199.1 1247.0 201.2 1252.3 203.3 1245.4 205.3 1250.4 207.4 1236.8 209.4 1250.7 211.5 1245.9 213.6 1239.8 215.6 1248.9 217.7 1249.9 219.8 1250.6 221.8 1250.7 223.9 1246.8 225.9 1244.6 228.0 1245.7 230.1 1247.3 232.1 1248.8 234.2 1246.1 236.2 1248.0 238.3 1250.7 240.4 1249.1 242.4 1255.4 244.5 1255.1 246.6 1244.9 248.6 1246.8 250.7 1244.7 252.7 1245.2 254.8 1250.6 256.9 1246.0 258.9 1246.0 261.0 1248.5 263.1 1251.8 265.1 1248.4 267.2 1248.6 269.2 1252.5 271.3 1251.2 273.4 1251.3 275.4 1252.8 277.5 1247.2 279.5 1250.9 281.6 1248.5 283.7 1253.4 285.7 1252.9 287.8 1247.6 289.9 1254.5 291.9 1247.4 294.0 1254.2 296.0 1251.5 298.1 1248.6 300.2 1247.9 302.2 1250.3 304.3 1251.2 306.4 1249.4 308.4 1253.0 310.5 1247.6 312.5 1251.6 314.6 1251.6 316.7 1246.6 318.7 1252.6 320.8 1248.4 322.8 1245.1 324.9 1250.3 327.0 1251.4 329.0 1254.6 331.1 1250.9 333.2 1256.2 335.2 1256.2 337.3 1255.3 339.3 1256.0 341.4 1253.4 343.5 1251.1 345.5 1254.3 347.6 1255.2 349.7 1253.4 351.7 1252.2 353.8 1248.8 355.8 1254.7 357.9 1253.9 360.0 1249.7 362.0 1253.3 364.1 1255.0 366.1 1252.9 368.2 1255.2 370.3 1255.2 372.3 1249.6 374.4 1252.6 376.5 1254.7 378.5 1255.8 380.6 1257.1 382.6 1248.8 384.7 1253.5 386.8 1255.4 388.8 1256.7 390.9 1257.9 393.0 1251.5 395.0 1252.9 397.1 1251.3 399.1 1255.9 401.2 1250.7 403.3 1256.9 405.3 1256.3 407.4 1255.3 409.5 1248.9 411.5 1252.5 413.6 1256.0 415.6 1250.8 417.7 1253.7 419.8 1254.1 421.8 1256.5 423.9 1255.1 425.9 1255.1 428.0 1253.4 430.1 1254.5 432.1 1254.2 434.2 1256.3 436.3 1254.2 438.3 1257.1 440.4 1250.7 442.4 1257.5 444.5 1254.3 446.6 1257.4 448.6 1255.0 450.7 1256.8 452.8 1258.3 454.8 1253.6 456.9 1255.1 458.9 1254.6 461.0 1255.4 463.1 1251.3 465.1 1254.6 467.2 1254.5 469.2 1253.3 471.3 1254.7 473.4 1251.7 475.4 1258.3 477.5 1256.2 479.6 1259.4 481.6 1253.3 483.7 1252.7 485.7 1255.9 487.8 1251.6 489.9 1255.8 491.9 1253.8 494.0 1254.6 496.1 1256.0 498.1 1255.5 500.2 1259.5 502.2 1256.9 504.3 1252.7 506.4 1257.7 508.4 1252.6 510.5 1255.7 512.5 1252.9 514.6 1253.8 516.7 1258.5 518.7 1254.4 520.8 1254.3 522.9 1254.5 524.9 1255.0 527.0 1258.8 529.0 1253.2 531.1 1253.1 533.2 1257.0 535.2 1252.3 537.3 1255.0 539.4 1258.1 541.4 1255.7 543.5 1254.7 545.5 1254.2 547.6 1253.8 549.7 1254.4 551.7 1255.9 553.8 1258.2 555.8 1257.5 557.9 1254.2 560.0 1253.7 562.0 1256.4 564.1 1250.7 566.2 1252.8 568.2 1251.4 570.3 1246.3 572.3 1239.6 574.4 1235.3 576.5 1234.1 578.5 1243.7 580.6 1249.4 582.7 1253.3 584.7 1251.5 586.8 1257.1 588.8 1254.6 590.9 1255.0 593.0 1254.9 595.0 1254.5 597.1 1253.9 599.1 1258.3 601.2 1256.5 603.3 1255.9 605.3 1258.1 607.4 1254.8 609.5 1257.5 611.5 1256.3 613.6 1254.5 615.6 1257.8 617.7 1253.4 619.8 1257.6 621.8 1254.6 623.9 1257.2 626.0 1259.1 628.0 1257.5 630.1 1255.2 632.1 1256.4 634.2 1255.7 636.3 1254.1 638.3 1254.3 640.4 1256.5 642.5 1257.5 644.5 1253.0 646.6 1256.3 648.6 1257.4 650.7 1256.7 652.8 1254.5 654.8 1258.4 656.9 1254.1 658.9 1257.7 661.0 1259.5 663.1 1252.5 665.1 1256.9 667.2 1257.0 669.3 1256.8 671.3 1254.9 673.4 1255.7 675.4 1253.6 677.5 1256.4 679.6 1257.1 681.6 1254.8 683.7 1254.2 685.8 1254.9 687.8 1255.6 689.9 1255.5 691.9 1254.9 694.0 1254.9 696.1 1251.8 698.1 1248.4 700.2 1253.7 702.2 1253.7 704.3 1245.9 706.4 1244.0 708.4 1235.2 710.5 1215.3 712.6 1180.0 713.9 1162.6 714.6 1160.3 716.7 1185.0 718.7 1217.8 720.8 1236.1 722.9 1247.1 724.9 1250.2 727.0 1253.2 729.1 1252.1 731.1 1255.7 733.2 1252.6 735.2 1255.7 737.3 1250.6 739.4 1253.8 741.4 1257.2 743.5 1255.2 745.5 1256.5 747.6 1253.4 749.7 1259.2 751.7 1257.6 753.8 1256.6 755.9 1257.4 757.9 1257.3 760.0 1259.3 762.0 1257.2 764.1 1254.3 766.2 1256.5 768.2 1259.2 770.3 1258.0 772.4 1256.3 774.4 1258.1 776.5 1257.3 778.5 1258.2 780.6 1254.3 782.7 1255.5 784.7 1258.3 786.8 1256.8 788.8 1257.8 790.9 1260.6 793.0 1256.7 795.0 1257.7 797.1 1256.3 799.2 1256.2 801.2 1257.1 803.3 1254.8 805.3 1253.6 807.4 1259.7 809.5 1257.1 811.5 1259.3 813.6 1257.6 815.7 1257.6 817.7 1258.5 819.8 1258.6 821.8 1255.3 823.9 1259.5 826.0 1255.7 828.0 1257.8 830.1 1261.8 832.2 1257.6 834.2 1260.3 836.3 1256.9 838.3 1258.5 840.4 1257.6 842.5 1258.2 844.5 1256.0 846.6 1255.9 848.6 1258.1 850.7 1254.9 852.8 1256.1 854.8 1258.6 856.9 1256.5 859.0 1256.0 861.0 1255.7 863.1 1257.8 865.1 1256.9 867.2 1257.8 869.3 1257.3 871.3 1260.7 873.4 1256.9 875.5 1254.3 877.5 1257.8 879.6 1257.6 881.6 1257.9 883.7 1254.9 885.8 1259.5 887.8 1257.6 889.9 1257.6 891.9 1255.0 894.0 1258.4 896.1 1257.5 898.1 1259.9 900.2 1257.0 902.3 1255.6 904.3 1257.9 906.4 1256.2 908.4 1258.4 910.5 1255.9 912.6 1257.5 914.6 1257.3 916.7 1257.6 918.8 1256.8 920.8 1256.4 922.9 1257.6 924.9 1256.7 927.0 1257.9 929.1 1257.2 931.1 1254.0 933.2 1257.6 935.2 1260.0 937.3 1258.2 939.4 1258.7 941.4 1258.4 943.5 1256.9 945.6 1255.5 947.6 1259.0 949.7 1259.4 951.7 1258.6 953.8 1258.4 955.9 1258.3 957.9 1257.6 960.0 1258.1 962.1 1257.7 964.1 1258.2 966.2 1256.1 968.2 1256.6 970.3 1258.5 972.4 1257.1 974.4 1253.7 976.5 1257.8 978.5 1253.9 980.6 1260.5 982.7 1258.6 984.7 1258.5 986.8 1256.4 988.9 1255.6 990.9 1257.0 993.0 1257.3 995.0 1256.0 997.1 1257.4 999.2 1258.1 1001.2 1257.9 1003.3 1255.2 1005.4 1253.2 1007.4 1256.4 1009.5 1255.1 1011.5 1256.5 1013.6 1258.0 1015.7 1257.4 1017.7 1254.5 1019.8 1254.6 1021.8 1253.8 1023.9 1248.5 1026.0 1244.0 1028.0 1234.4 1030.1 1214.5 1032.2 1182.9 1033.7 1164.7 1034.2 1163.1 1036.3 1176.1 1038.3 1205.4 1040.4 1228.2 1042.5 1243.1 1044.5 1248.9 1046.6 1248.4 1048.7 1254.0 1050.7 1253.1 1052.8 1256.7 1054.8 1256.0 1056.9 1255.6 1059.0 1257.1 1061.0 1255.5 1063.1 1257.1 1065.2 1257.3 1067.2 1256.7 1069.3 1257.6 1071.3 1255.6 1073.4 1258.0 1075.5 1255.4 1077.5 1258.2 1079.6 1258.1 1081.6 1258.4 1083.7 1256.6 1085.8 1262.0 1087.8 1257.1 1089.9 1257.7 1092.0 1256.3 1094.0 1259.5 1096.1 1256.7 1098.1 1258.8 1100.2 1255.8 1102.3 1257.6 1104.3 1256.5 1106.4 1258.3 1108.5 1256.3 1110.5 1255.2 1112.6 1256.9 1114.6 1254.0 1116.7 1253.7 1118.8 1255.2 1120.8 1249.7 1122.9 1250.9 1124.9 1244.1 1127.0 1231.6 1129.1 1209.4 1130.8 1193.1 1133.2 1199.7 1135.3 1219.6 1137.3 1237.7 1139.4 1247.8 1141.4 1251.0 1143.5 1252.2 1145.6 1253.2 1147.6 1254.6 1149.7 1257.1 1151.8 1257.4 1153.8 1257.3 1155.9 1259.1 1157.9 1256.8 1160.0 1256.8 1162.1 1256.9 1164.1 1260.4 1166.2 1254.7 1168.2 1258.2 1170.3 1258.5 1172.4 1258.0 1174.4 1261.3 1176.5 1259.6 1178.6 1259.1 1180.6 1256.7 1182.7 1258.8 1184.7 1257.5 1186.8 1258.1 1188.9 1258.4 1190.9 1257.4 1193.0 1259.0 1195.1 1260.5 1197.1 1259.6 1199.2 1258.5 1201.2 1255.4 1203.3 1259.7 1205.4 1259.7 1207.4 1257.9 1209.5 1257.5 1211.5 1259.2 1213.6 1257.1 1215.7 1259.4 1217.7 1256.7 1219.8 1256.9 1221.9 1258.3 1223.9 1256.2 1226.0 1258.3 1228.0 1259.0 1230.1 1256.4 1232.2 1259.6 1234.2 1257.5 1236.3 1259.0 1238.4 1258.5 1240.4 1257.6 1242.5 1257.5 1244.5 1255.8 1246.6 1257.2 1248.7 1257.1 1250.7 1260.5 1252.8 1259.6 1254.9 1256.2 1256.9 1259.2 1259.0 1258.4 1261.0 1257.5 1263.1 1258.6 1265.2 1259.0 1267.2 1257.0 1269.3 1257.2 1271.3 1257.6 1273.4 1255.7 1275.5 1256.8 1277.5 1255.4 1279.6 1252.9 1281.1 1251.5 1281.7 1252.8 1283.7 1253.2 1285.8 1251.5 1287.8 1246.7 1289.9 1241.1 1292.0 1230.3 1294.0 1231.3 1296.1 1238.3 1298.2 1244.0 1300.2 1251.0 1302.3 1253.2 1304.3 1254.3 1306.4 1259.0 1308.5 1257.9 1310.5 1254.5 1312.6 1257.6 1314.6 1256.3 1316.7 1258.6 1318.8 1256.9 1320.8 1256.1 1322.9 1255.8 1325.0 1255.1 1327.0 1253.4 1329.1 1252.1 1331.1 1252.3 1333.2 1253.9 1335.3 1252.8 1337.3 1255.4 1339.4 1255.9 1341.5 1255.8 1343.5 1257.7 1345.6 1254.9 1347.6 1256.1 1349.7 1255.2 1351.8 1256.6 1353.8 1254.6 1355.9 1254.2 1357.9 1252.8 1360.0 1247.9 1362.1 1240.3 1364.1 1223.6 1366.2 1207.9 1368.3 1211.8 1370.3 1222.9 1372.4 1237.6 1374.4 1249.4 1376.5 1251.9 1378.6 1253.3 1380.6 1254.6 1382.7 1256.9 1384.8 1258.7 1386.8 1257.4 1388.9 1256.4 1390.9 1257.8 1393.0 1257.9 1395.1 1257.7 1397.1 1256.8 1399.2 1254.4 1401.2 1257.2 1403.3 1259.3 1405.4 1258.2 1407.4 1255.0 1409.5 1257.9 1411.6 1255.4 1413.6 1260.5 1415.7 1258.0 1417.7 1256.0 1419.8 1258.5 1421.9 1256.0 1423.9 1257.2 1426.0 1255.3 1428.1 1251.6 1430.1 1251.5 1431.1 1248.1 1432.2 1251.6 1434.2 1251.0 1436.3 1251.5 1438.4 1252.5 1440.4 1258.4 1442.5 1258.9 1444.5 1255.7 1446.6 1259.8 1448.7 1258.0 1450.7 1257.6 1452.8 1257.8 1454.9 1257.6 1456.9 1259.8 1459.0 1258.2 1461.0 1255.5 1463.1 1260.7 1465.2 1259.1 1467.2 1256.4 1469.3 1257.3 1471.4 1256.5 1473.4 1257.7 1475.5 1258.1 1477.5 1257.7 1479.6 1256.5 1481.7 1256.0 1483.7 1257.9 1485.8 1256.3 1487.9 1259.0 1489.9 1254.4 1492.0 1255.7 1494.0 1253.6 1496.1 1250.8 1498.2 1250.9 1500.2 1244.0 1502.3 1233.3 1504.3 1213.4 1506.4 1184.9 1507.5 1173.7 1508.5 1174.2 1510.5 1185.8 1512.6 1204.0 1514.7 1226.4 1516.7 1242.2 1518.8 1247.8 1520.8 1251.0 1522.9 1255.3 1525.0 1256.2 1527.0 1254.0 1529.1 1255.6 1531.2 1256.1 1533.2 1256.2 1535.3 1255.1 1537.3 1258.4 1539.4 1257.5 1541.5 1257.7 1543.5 1259.5 1545.6 1257.1 1547.6 1257.8 1549.7 1258.3 1551.8 1257.4 1553.8 1257.9 1555.9 1259.1 1558.0 1258.1 1560.0 1259.9 1562.1 1257.2 1564.1 1258.5 1566.2 1256.4 1568.3 1258.1 1570.3 1257.4 1572.4 1260.0 1574.5 1259.3 1576.5 1259.0 1578.6 1260.7 1580.6 1260.2 1582.7 1259.2 1584.8 1257.4 1586.8 1256.5 1588.9 1258.3 1590.9 1257.8 1593.0 1257.5 1595.1 1257.9 1597.1 1256.1 1599.2 1260.2 1601.3 1256.8 1603.3 1257.4 1605.4 1258.9 1607.4 1256.1 1609.5 1259.3 1611.6 1259.3 1613.6 1257.7 1615.7 1256.6 1617.8 1257.3 1619.8 1255.5 1621.9 1259.6 1623.9 1257.8 1626.0 1256.6 1628.1 1256.2 1630.1 1257.9 1632.2 1258.9 1634.2 1254.9 1636.3 1255.2 1638.4 1252.7 1640.4 1254.1 1642.5 1249.9 1644.6 1246.1 1646.6 1234.5 1647.4 1232.4 1648.7 1232.5 1650.7 1238.2 1652.8 1239.7 1654.9 1248.9 1656.9 1252.1 1659.0 1253.1 1661.1 1253.5 1663.1 1256.4 1665.2 1257.6 1667.2 1254.7 1669.3 1255.8 1671.4 1257.1 1673.4 1253.6 1675.5 1253.6 1677.5 1251.6 1679.6 1251.9 1681.7 1250.5 1683.7 1248.0 1685.8 1244.5 1687.9 1239.0 1689.9 1233.4 1692.0 1226.3 1694.0 1219.9 1696.1 1210.1 1697.2 1206.2 1698.2 1206.2 1700.2 1202.0 1702.3 1196.7 1704.4 1184.4 1706.4 1163.2 1707.7 1154.9 1708.5 1156.0 1710.5 1172.8 1712.6 1189.4 1714.7 1212.9 1716.7 1229.3 1718.8 1241.8 1720.9 1246.7 1722.9 1247.9 1725.0 1252.7 1727.0 1253.9 1729.1 1252.0 1731.2 1257.1 1733.2 1253.7 1735.3 1254.4 1737.3 1255.6 1739.4 1257.3 1741.5 1257.4 1743.5 1256.7 1745.6 1258.8 1747.7 1257.7 1749.7 1259.1 1751.8 1261.0 1753.8 1257.8 1755.9 1254.4 1758.0 1257.2 1760.0 1256.5 1762.1 1258.0 1764.2 1258.1 1766.2 1256.4 1768.3 1256.6 1770.3 1257.7 1772.4 1257.9 1774.5 1254.8 1776.5 1259.4 1778.6 1258.2 1780.6 1258.2 1782.7 1258.6 1784.8 1256.9 1786.8 1258.2 1788.9 1259.6 1791.0 1259.6 1793.0 1258.8 1795.1 1257.9 1797.1 1257.1 1799.2 1259.8 1801.3 1258.8 1803.3 1257.5 1805.4 1255.2 1807.5 1256.6 1809.5 1255.0 1811.6 1258.7 1813.6 1256.6 1815.7 1253.8 1817.8 1251.1 1819.8 1249.7 1820.9 1246.1 1821.9 1243.0 1823.9 1247.1 1826.0 1247.3 1828.1 1250.0 1830.1 1255.2 1832.2 1259.5 1834.3 1259.0 1836.3 1257.4 1838.4 1257.1 1840.4 1257.9 1842.5 1259.0 1844.6 1255.8 1846.6 1255.2 1848.7 1259.9 1850.8 1257.7 1852.8 1259.2 1854.9 1257.2 1856.9 1258.4 1859.0 1255.1 1861.1 1255.5 1863.1 1255.2 1865.2 1251.4 1867.2 1243.9 1869.3 1238.1 1870.8 1232.2 1871.4 1230.8 1873.4 1235.5 1875.5 1239.3 1877.6 1242.2 1879.6 1242.5 1881.7 1245.0 1883.7 1240.1 1885.8 1231.5 1886.9 1226.4 1887.9 1231.5 1889.9 1235.0 1892.0 1238.4 1894.1 1241.2 1896.1 1247.1 1898.2 1254.0 1900.2 1255.7 1902.3 1256.4 1904.4 1256.2 1906.4 1257.5 1908.5 1256.6 1910.6 1257.2 1912.6 1256.7 1914.7 1258.3 1916.7 1257.5 1918.8 1259.4 1920.9 1259.2 1922.9 1257.3 1925.0 1260.8 1927.0 1257.0 1929.1 1259.1 1931.2 1259.9 1933.2 1260.2 1935.3 1255.8 1937.4 1259.9 1939.4 1260.2 1941.5 1260.5 1943.5 1255.9 1945.6 1257.8 1947.7 1258.6 1949.7 1258.2 1951.8 1260.5 1953.9 1257.9 1955.9 1260.3 1958.0 1259.5 1960.0 1256.9 1962.1 1257.5 1964.2 1258.2 1966.2 1258.9 1968.3 1260.1 1970.3 1258.6 1972.4 1260.0 1974.5 1256.8 1976.5 1255.0 1978.6 1258.4 1980.7 1259.5 1982.7 1258.4 1984.8 1257.6 1986.8 1259.4 1988.9 1261.3 1991.0 1258.8 1993.0 1258.0 1995.1 1257.8 1997.2 1261.4 1999.2 1258.8 2001.3 1259.7 2003.3 1260.5 2005.4 1260.3 2007.5 1257.7 2009.5 1260.1 2011.6 1260.0 2013.6 1259.5 2015.7 1260.2 2017.8 1258.2 2019.8 1258.8 2021.9 1258.3 2024.0 1259.9 2026.0 1258.1 2028.1 1259.4 2030.1 1257.5 2032.2 1258.8 2034.3 1258.5 2036.3 1258.8 2038.4 1259.1 2040.5 1258.7 2042.5 1258.6 2044.6 1256.3 2046.6 1260.3 2048.7 1258.1 2050.8 1258.6 2052.8 1257.8 2054.9 1260.1 2056.9 1257.7 2059.0 1259.5 2061.1 1260.4 2063.1 1260.9 2065.2 1260.3 2067.3 1259.6 2069.3 1257.3 2071.4 1260.4 2073.4 1260.3 2075.5 1259.8 2077.6 1259.8 2079.6 1258.8 2081.7 1258.0 2083.8 1260.0 2085.8 1260.2 2087.9 1257.2 2089.9 1259.6 2092.0 1258.6 2094.1 1259.2 2096.1 1258.2 2098.2 1258.8 2100.2 1258.0 2102.3 1256.7 2104.4 1252.2 2106.4 1253.0 2108.5 1250.5 2110.6 1248.7 2112.6 1251.8 2114.7 1250.3 2116.7 1254.7 2118.8 1257.2 2120.9 1255.6 2122.9 1258.2 2125.0 1258.1 2127.1 1258.7 2129.1 1256.4 2131.2 1258.9 2133.2 1258.4 2135.3 1259.2 2137.4 1258.3 2139.4 1259.6 2141.5 1258.5 2143.6 1258.9 2145.6 1259.5 2147.7 1257.7 2149.7 1258.2 2151.8 1256.3 2153.9 1255.2 2155.9 1252.0 2158.0 1251.9 2159.1 1251.9 2160.0 1250.1 2162.1 1251.7 2164.2 1252.2 2166.2 1251.6 2168.3 1255.0 2170.4 1257.6 2172.4 1256.3 2174.5 1255.3 2176.5 1258.2 2178.6 1257.4 2180.7 1260.7 2182.7 1258.4 2184.8 1258.5 2186.9 1257.8 2188.9 1259.0 2191.0 1258.0 2193.0 1257.6 2195.1 1258.7 2197.2 1257.8 2199.2 1260.4 2201.3 1257.4 2203.3 1258.7 2205.4 1258.0 2207.5 1257.2 2209.5 1260.9 2211.6 1256.3 2213.7 1260.6 2215.7 1257.2 2217.8 1259.0 2219.8 1261.6 2221.9 1256.3 2224.0 1257.2 2226.0 1260.4 2228.1 1259.1 2230.2 1258.2 2232.2 1258.8 2234.3 1257.7 2236.3 1259.0 2238.4 1260.6 2240.5 1258.3 2242.5 1258.9 2244.6 1260.2 2246.6 1261.1 2248.7 1257.9 2250.8 1258.9 2252.8 1257.8 2254.9 1257.6 2257.0 1257.7 2259.0 1257.2 2261.1 1255.6 2263.1 1254.7 2265.2 1255.3 2267.3 1255.0 2269.3 1254.6 2271.4 1251.1 2272.0 1251.4 2273.5 1252.3 2275.5 1253.0 2277.6 1252.8 2279.6 1254.0 2281.7 1257.6 2283.8 1256.0 2285.8 1256.5 2287.9 1255.7 2289.9 1258.4 2292.0 1257.8 2294.1 1260.5 2296.1 1257.9 2298.2 1259.3 2300.3 1259.5 2302.3 1260.4 2304.4 1256.9 2306.4 1260.3 2308.5 1258.5 2310.6 1258.3 2312.6 1258.1 2314.7 1257.9 2316.8 1258.0 2318.8 1255.6 2320.9 1258.9 2322.9 1258.4 2325.0 1257.1 2327.1 1258.1 2329.1 1260.9 2331.2 1258.5 2333.2 1257.5 2335.3 1259.9 2337.4 1256.9 2339.4 1257.5 2341.5 1256.9 2343.6 1257.2 2345.6 1258.2 2347.7 1257.8 2349.7 1256.0 2351.8 1256.5 2353.9 1256.4 2355.9 1255.5 2358.0 1255.4 2360.1 1254.0 2362.1 1253.3 2364.2 1253.3 2366.2 1250.9 2368.3 1251.3 2370.4 1249.0 2372.4 1246.2 2374.5 1244.4 2376.6 1242.1 2378.6 1240.0"/><path d="M19.5 1297.0 19.7 1301.4 21.8 1304.6 23.9 1321.9 25.9 1321.7 28.0 1319.4 30.1 1328.8 32.1 1327.4 34.2 1326.2 36.2 1331.3 38.3 1351.1 40.4 1342.1 42.4 1344.6 44.5 1337.4 46.5 1345.7 48.6 1357.8 50.7 1348.2 52.7 1353.7 54.8 1356.4 56.9 1354.1 58.9 1361.0 61.0 1354.5 63.0 1357.3 65.1 1352.2 67.2 1371.7 69.2 1359.8 71.3 1359.8 73.4 1367.8 75.4 1358.7 77.5 1362.2 79.5 1359.1 81.6 1364.2 83.7 1363.0 85.7 1368.6 87.8 1366.0 89.8 1364.4 91.9 1366.7 94.0 1368.3 96.0 1367.1 98.1 1374.9 100.2 1374.2 102.2 1372.3 104.3 1366.6 106.3 1375.3 108.4 1367.5 110.5 1374.8 112.5 1374.8 114.6 1372.4 116.7 1371.8 118.7 1373.0 120.8 1385.7 122.8 1375.9 124.9 1376.6 127.0 1382.1 129.0 1380.2 131.1 1383.4 133.1 1374.0 135.2 1375.0 137.3 1394.1 139.3 1380.2 141.4 1379.5 143.5 1381.8 145.5 1385.5 147.6 1376.9 149.6 1383.3 151.7 1382.4 153.8 1385.5 155.8 1383.8 157.9 1381.3 160.0 1380.3 162.0 1374.4 164.1 1388.1 166.1 1378.8 168.2 1383.3 170.3 1391.5 172.3 1383.7 174.4 1387.9 176.5 1385.0 178.5 1388.7 180.6 1386.4 182.6 1384.7 184.7 1391.8 186.8 1386.0 188.8 1382.3 190.9 1386.2 192.9 1389.6 195.0 1383.8 197.1 1390.9 199.1 1391.0 201.2 1396.0 203.3 1386.3 205.3 1391.1 207.4 1383.1 209.4 1387.7 211.5 1389.7 213.6 1390.9 215.6 1389.5 217.7 1389.5 219.8 1387.9 221.8 1388.6 223.9 1391.3 225.9 1392.3 228.0 1392.8 230.1 1394.1 232.1 1394.9 234.2 1385.1 236.2 1389.5 238.3 1390.8 240.4 1389.3 242.4 1395.0 244.5 1394.1 246.6 1391.5 248.6 1392.4 250.7 1396.2 252.7 1391.1 254.8 1391.3 256.9 1395.3 258.9 1394.1 261.0 1397.2 263.1 1394.0 265.1 1395.2 267.2 1391.3 269.2 1390.2 271.3 1393.2 273.4 1385.2 275.4 1394.7 277.5 1396.5 279.5 1393.9 281.6 1393.1 283.7 1397.1 285.7 1393.8 287.8 1397.0 289.9 1400.7 291.9 1396.4 294.0 1397.1 296.0 1395.8 298.1 1395.2 300.2 1395.4 302.2 1394.8 304.3 1397.9 306.4 1390.1 308.4 1394.1 310.5 1396.9 312.5 1392.6 314.6 1394.8 316.7 1393.2 318.7 1396.5 320.8 1397.8 322.8 1399.6 324.9 1396.9 327.0 1393.5 329.0 1396.3 331.1 1397.3 333.2 1399.7 335.2 1389.8 337.3 1396.9 339.3 1390.9 341.4 1398.0 343.5 1397.3 345.5 1397.5 347.6 1398.7 349.7 1397.3 351.7 1394.6 353.8 1397.4 355.8 1399.7 357.9 1396.2 360.0 1396.7 362.0 1393.4 364.1 1399.8 366.1 1395.4 368.2 1394.8 370.3 1395.7 372.3 1394.6 374.4 1396.3 376.5 1400.4 378.5 1399.2 380.6 1400.9 382.6 1401.1 384.7 1394.9 386.8 1398.5 388.8 1401.2 390.9 1403.4 393.0 1393.8 395.0 1393.8 397.1 1398.7 399.1 1396.7 401.2 1395.1 403.3 1398.6 405.3 1395.7 407.4 1391.9 409.5 1397.7 411.5 1398.1 413.6 1399.5 415.6 1400.3 417.7 1398.4 419.8 1397.4 421.8 1396.4 423.9 1393.9 425.9 1397.0 428.0 1400.6 430.1 1399.8 432.1 1403.3 434.2 1397.9 436.3 1393.9 438.3 1400.4 440.4 1400.9 442.4 1395.5 444.5 1394.5 446.6 1398.9 448.6 1400.3 450.7 1395.8 452.8 1397.8 454.8 1396.7 456.9 1395.8 458.9 1395.5 461.0 1399.1 463.1 1397.9 465.1 1397.2 467.2 1392.6 469.2 1403.0 471.3 1396.6 473.4 1398.6 475.4 1396.2 477.5 1399.9 479.6 1395.4 481.6 1399.2 483.7 1398.6 485.7 1401.2 487.8 1396.5 489.9 1397.6 491.9 1398.6 494.0 1404.1 496.1 1395.8 498.1 1399.9 500.2 1397.7 502.2 1400.0 504.3 1400.8 506.4 1399.7 508.4 1400.0 510.5 1400.0 512.5 1398.0 514.6 1398.9 516.7 1395.6 518.7 1398.6 520.8 1397.7 522.9 1398.9 524.9 1401.2 527.0 1400.4 529.0 1400.6 531.1 1402.1 533.2 1394.2 535.2 1400.5 537.3 1399.5 539.4 1399.4 541.4 1396.6 543.5 1400.8 545.5 1402.1 547.6 1401.8 549.7 1399.3 551.7 1400.9 553.8 1401.4 555.8 1403.3 557.9 1401.9 560.0 1399.2 562.0 1398.8 564.1 1398.4 566.2 1397.6 568.2 1394.1 570.3 1392.8 572.3 1381.2 574.4 1372.3 576.5 1378.6 578.5 1386.2 580.6 1393.0 582.7 1391.9 584.7 1399.6 586.8 1398.5 588.8 1398.7 590.9 1400.3 593.0 1400.0 595.0 1398.2 597.1 1404.1 599.1 1398.9 601.2 1402.1 603.3 1404.0 605.3 1398.8 607.4 1400.4 609.5 1398.4 611.5 1402.5 613.6 1399.5 615.6 1398.0 617.7 1403.1 619.8 1402.3 621.8 1398.5 623.9 1402.9 626.0 1400.8 628.0 1406.1 630.1 1404.0 632.1 1399.3 634.2 1399.9 636.3 1398.6 638.3 1400.8 640.4 1400.6 642.5 1402.0 644.5 1400.7 646.6 1397.4 648.6 1398.8 650.7 1403.4 652.8 1402.9 654.8 1400.2 656.9 1400.2 658.9 1400.1 661.0 1400.5 663.1 1397.0 665.1 1402.3 667.2 1399.1 669.3 1400.7 671.3 1395.1 673.4 1400.8 675.4 1403.0 677.5 1395.6 679.6 1403.2 681.6 1400.9 683.7 1398.3 685.8 1396.4 687.8 1401.8 689.9 1399.7 691.9 1400.0 694.0 1397.8 696.1 1396.1 698.1 1398.7 700.2 1393.7 702.2 1395.6 704.3 1387.3 706.4 1384.7 708.4 1372.7 710.5 1348.9 712.6 1303.1 713.9 1281.2 714.6 1280.3 716.7 1310.7 718.7 1352.8 720.8 1376.0 722.9 1387.2 724.9 1392.6 727.0 1390.5 729.1 1394.2 731.1 1396.5 733.2 1397.7 735.2 1396.0 737.3 1397.3 739.4 1397.8 741.4 1401.9 743.5 1400.9 745.5 1399.6 747.6 1399.8 749.7 1401.1 751.7 1399.3 753.8 1400.2 755.9 1397.4 757.9 1402.2 760.0 1402.8 762.0 1401.7 764.1 1402.0 766.2 1401.8 768.2 1405.1 770.3 1401.6 772.4 1398.7 774.4 1399.2 776.5 1402.7 778.5 1403.4 780.6 1402.8 782.7 1403.0 784.7 1401.8 786.8 1398.6 788.8 1400.1 790.9 1398.0 793.0 1400.7 795.0 1398.9 797.1 1401.7 799.2 1401.2 801.2 1397.8 803.3 1403.0 805.3 1403.0 807.4 1398.9 809.5 1401.9 811.5 1403.0 813.6 1401.1 815.7 1403.3 817.7 1402.0 819.8 1403.7 821.8 1402.0 823.9 1401.4 826.0 1402.7 828.0 1403.2 830.1 1402.2 832.2 1400.9 834.2 1400.3 836.3 1401.1 838.3 1400.7 840.4 1402.2 842.5 1402.1 844.5 1401.6 846.6 1401.8 848.6 1402.1 850.7 1404.7 852.8 1404.1 854.8 1400.8 856.9 1402.6 859.0 1401.2 861.0 1401.7 863.1 1401.4 865.1 1400.7 867.2 1399.4 869.3 1397.3 871.3 1402.3 873.4 1404.1 875.5 1400.2 877.5 1402.9 879.6 1401.2 881.6 1402.4 883.7 1400.5 885.8 1401.5 887.8 1401.7 889.9 1397.6 891.9 1402.4 894.0 1401.7 896.1 1397.4 898.1 1403.2 900.2 1401.9 902.3 1402.4 904.3 1402.7 906.4 1401.2 908.4 1400.0 910.5 1401.2 912.6 1401.2 914.6 1406.1 916.7 1405.4 918.8 1401.1 920.8 1401.3 922.9 1402.6 924.9 1403.1 927.0 1400.8 929.1 1400.2 931.1 1405.5 933.2 1403.9 935.2 1399.2 937.3 1398.8 939.4 1400.5 941.4 1402.4 943.5 1403.0 945.6 1401.4 947.6 1399.1 949.7 1402.4 951.7 1403.1 953.8 1402.0 955.9 1401.1 957.9 1403.0 960.0 1401.9 962.1 1400.0 964.1 1402.1 966.2 1399.6 968.2 1403.7 970.3 1402.8 972.4 1400.1 974.4 1402.3 976.5 1404.1 978.5 1398.0 980.6 1401.6 982.7 1404.7 984.7 1399.0 986.8 1401.4 988.9 1399.1 990.9 1401.5 993.0 1397.2 995.0 1398.5 997.1 1400.4 999.2 1401.5 1001.2 1401.8 1003.3 1401.7 1005.4 1402.8 1007.4 1401.7 1009.5 1401.5 1011.5 1398.0 1013.6 1398.9 1015.7 1404.2 1017.7 1401.6 1019.8 1397.7 1021.8 1395.5 1023.9 1392.6 1026.0 1384.2 1028.0 1374.1 1030.1 1349.4 1032.2 1311.3 1033.7 1290.6 1034.2 1286.0 1036.3 1303.4 1038.3 1337.2 1040.4 1365.9 1042.5 1381.3 1044.5 1388.4 1046.6 1393.4 1048.7 1394.2 1050.7 1397.0 1052.8 1396.1 1054.8 1398.3 1056.9 1397.2 1059.0 1401.2 1061.0 1398.1 1063.1 1401.9 1065.2 1400.1 1067.2 1400.5 1069.3 1403.3 1071.3 1401.5 1073.4 1398.1 1075.5 1402.3 1077.5 1396.5 1079.6 1402.1 1081.6 1400.9 1083.7 1399.2 1085.8 1401.8 1087.8 1401.1 1089.9 1405.2 1092.0 1400.9 1094.0 1405.0 1096.1 1404.0 1098.1 1400.5 1100.2 1400.0 1102.3 1403.7 1104.3 1401.0 1106.4 1401.4 1108.5 1400.4 1110.5 1398.5 1112.6 1399.5 1114.6 1398.0 1116.7 1396.2 1118.8 1397.2 1120.8 1398.9 1122.9 1395.3 1124.9 1385.7 1127.0 1371.1 1129.1 1344.1 1130.8 1324.8 1133.2 1332.8 1135.3 1356.1 1137.3 1377.4 1139.4 1390.7 1141.4 1398.6 1143.5 1395.6 1145.6 1394.7 1147.6 1400.7 1149.7 1399.9 1151.8 1400.8 1153.8 1403.0 1155.9 1401.3 1157.9 1399.1 1160.0 1398.2 1162.1 1401.7 1164.1 1399.9 1166.2 1402.5 1168.2 1399.9 1170.3 1401.5 1172.4 1399.7 1174.4 1401.6 1176.5 1401.5 1178.6 1403.3 1180.6 1404.6 1182.7 1402.1 1184.7 1400.9 1186.8 1405.8 1188.9 1403.1 1190.9 1403.5 1193.0 1403.5 1195.1 1405.0 1197.1 1404.2 1199.2 1403.7 1201.2 1403.8 1203.3 1401.1 1205.4 1401.5 1207.4 1402.4 1209.5 1402.7 1211.5 1402.6 1213.6 1403.1 1215.7 1402.7 1217.7 1401.9 1219.8 1399.9 1221.9 1404.0 1223.9 1403.6 1226.0 1401.1 1228.0 1403.5 1230.1 1403.3 1232.2 1402.7 1234.2 1399.5 1236.3 1400.6 1238.4 1401.6 1240.4 1405.3 1242.5 1401.2 1244.5 1402.0 1246.6 1400.7 1248.7 1401.7 1250.7 1403.1 1252.8 1399.0 1254.9 1397.7 1256.9 1403.5 1259.0 1402.4 1261.0 1401.3 1263.1 1403.9 1265.2 1403.8 1267.2 1398.5 1269.3 1401.5 1271.3 1403.4 1273.4 1400.0 1275.5 1399.7 1277.5 1400.1 1279.6 1395.0 1281.1 1391.6 1281.7 1392.1 1283.7 1391.2 1285.8 1394.8 1287.8 1389.3 1289.9 1387.8 1292.0 1374.9 1294.0 1378.3 1296.1 1381.1 1298.2 1390.7 1300.2 1398.1 1302.3 1400.7 1304.3 1402.2 1306.4 1400.6 1308.5 1401.3 1310.5 1401.7 1312.6 1402.4 1314.6 1400.7 1316.7 1403.0 1318.8 1401.5 1320.8 1402.3 1322.9 1400.3 1325.0 1399.3 1327.0 1395.4 1329.1 1394.8 1331.1 1393.3 1333.2 1395.9 1335.3 1397.5 1337.3 1400.5 1339.4 1397.9 1341.5 1405.8 1343.5 1400.5 1345.6 1402.8 1347.6 1402.3 1349.7 1396.2 1351.8 1399.4 1353.8 1401.5 1355.9 1393.8 1357.9 1396.8 1360.0 1390.7 1362.1 1381.1 1364.1 1362.3 1366.2 1342.7 1368.3 1348.1 1370.3 1360.4 1372.4 1377.7 1374.4 1390.5 1376.5 1400.6 1378.6 1398.1 1380.6 1400.0 1382.7 1399.9 1384.8 1399.5 1386.8 1401.5 1388.9 1403.8 1390.9 1401.9 1393.0 1403.2 1395.1 1401.6 1397.1 1406.1 1399.2 1399.4 1401.2 1403.1 1403.3 1403.0 1405.4 1402.6 1407.4 1400.4 1409.5 1400.3 1411.6 1401.7 1413.6 1402.2 1415.7 1399.9 1417.7 1400.0 1419.8 1402.3 1421.9 1402.5 1423.9 1399.0 1426.0 1396.9 1428.1 1393.7 1430.1 1395.1 1431.1 1390.7 1432.2 1389.7 1434.2 1393.1 1436.3 1398.2 1438.4 1399.5 1440.4 1397.3 1442.5 1400.5 1444.5 1400.6 1446.6 1401.1 1448.7 1399.9 1450.7 1401.4 1452.8 1400.4 1454.9 1402.7 1456.9 1402.2 1459.0 1399.9 1461.0 1399.5 1463.1 1401.4 1465.2 1403.2 1467.2 1402.9 1469.3 1401.9 1471.4 1396.7 1473.4 1401.0 1475.5 1400.5 1477.5 1401.0 1479.6 1399.4 1481.7 1400.4 1483.7 1399.7 1485.8 1404.7 1487.9 1400.9 1489.9 1398.8 1492.0 1398.0 1494.0 1396.5 1496.1 1394.8 1498.2 1390.4 1500.2 1384.6 1502.3 1372.2 1504.3 1346.9 1506.4 1310.1 1507.5 1297.7 1508.5 1296.5 1510.5 1310.8 1512.6 1333.9 1514.7 1361.8 1516.7 1379.3 1518.8 1389.1 1520.8 1394.9 1522.9 1395.0 1525.0 1396.3 1527.0 1400.0 1529.1 1401.5 1531.2 1399.5 1533.2 1401.2 1535.3 1403.2 1537.3 1401.8 1539.4 1401.5 1541.5 1398.5 1543.5 1404.0 1545.6 1403.0 1547.6 1402.3 1549.7 1401.5 1551.8 1400.4 1553.8 1402.2 1555.9 1402.3 1558.0 1404.2 1560.0 1400.6 1562.1 1404.8 1564.1 1402.6 1566.2 1404.5 1568.3 1401.1 1570.3 1403.2 1572.4 1404.6 1574.5 1402.9 1576.5 1400.4 1578.6 1402.2 1580.6 1403.5 1582.7 1400.5 1584.8 1400.5 1586.8 1403.1 1588.9 1401.2 1590.9 1403.7 1593.0 1400.9 1595.1 1399.9 1597.1 1401.5 1599.2 1404.9 1601.3 1401.3 1603.3 1402.6 1605.4 1403.0 1607.4 1401.1 1609.5 1404.2 1611.6 1402.7 1613.6 1403.1 1615.7 1399.8 1617.8 1399.6 1619.8 1398.0 1621.9 1401.8 1623.9 1401.6 1626.0 1402.9 1628.1 1403.9 1630.1 1400.9 1632.2 1400.5 1634.2 1401.1 1636.3 1402.0 1638.4 1397.1 1640.4 1396.9 1642.5 1390.9 1644.6 1381.8 1646.6 1372.3 1647.4 1367.4 1648.7 1367.5 1650.7 1375.3 1652.8 1380.7 1654.9 1388.5 1656.9 1394.0 1659.0 1397.6 1661.1 1397.6 1663.1 1399.9 1665.2 1399.7 1667.2 1401.4 1669.3 1400.9 1671.4 1400.1 1673.4 1398.0 1675.5 1397.9 1677.5 1396.0 1679.6 1400.2 1681.7 1393.8 1683.7 1392.7 1685.8 1390.5 1687.9 1381.4 1689.9 1375.6 1692.0 1367.8 1694.0 1357.2 1696.1 1347.6 1697.2 1345.1 1698.2 1345.8 1700.2 1340.2 1702.3 1334.9 1704.4 1321.8 1706.4 1297.7 1707.7 1290.1 1708.5 1291.8 1710.5 1308.9 1712.6 1327.8 1714.7 1352.8 1716.7 1371.6 1718.8 1381.9 1720.9 1388.3 1722.9 1391.4 1725.0 1395.8 1727.0 1397.2 1729.1 1398.2 1731.2 1398.3 1733.2 1398.7 1735.3 1402.9 1737.3 1397.5 1739.4 1402.4 1741.5 1401.4 1743.5 1401.3 1745.6 1400.6 1747.7 1401.2 1749.7 1399.9 1751.8 1399.8 1753.8 1401.8 1755.9 1399.6 1758.0 1403.4 1760.0 1403.9 1762.1 1397.2 1764.2 1400.1 1766.2 1402.8 1768.3 1402.8 1770.3 1402.7 1772.4 1403.2 1774.5 1403.7 1776.5 1403.9 1778.6 1405.3 1780.6 1402.7 1782.7 1404.0 1784.8 1400.3 1786.8 1402.5 1788.9 1400.9 1791.0 1404.8 1793.0 1406.1 1795.1 1403.5 1797.1 1400.7 1799.2 1402.4 1801.3 1402.5 1803.3 1402.7 1805.4 1403.8 1807.5 1403.4 1809.5 1397.7 1811.6 1403.1 1813.6 1399.4 1815.7 1397.1 1817.8 1395.5 1819.8 1385.8 1820.9 1381.7 1821.9 1382.1 1823.9 1387.7 1826.0 1391.3 1828.1 1396.7 1830.1 1398.0 1832.2 1399.5 1834.3 1403.5 1836.3 1400.9 1838.4 1403.9 1840.4 1402.3 1842.5 1402.3 1844.6 1401.6 1846.6 1402.4 1848.7 1401.1 1850.8 1400.7 1852.8 1401.2 1854.9 1400.1 1856.9 1401.0 1859.0 1399.9 1861.1 1398.2 1863.1 1396.2 1865.2 1392.3 1867.2 1388.4 1869.3 1376.3 1870.8 1370.7 1871.4 1370.7 1873.4 1374.9 1875.5 1376.9 1877.6 1382.0 1879.6 1386.2 1881.7 1387.2 1883.7 1383.4 1885.8 1376.7 1886.9 1371.3 1887.9 1372.4 1889.9 1373.8 1892.0 1383.1 1894.1 1389.5 1896.1 1395.4 1898.2 1397.3 1900.2 1400.8 1902.3 1400.2 1904.4 1400.8 1906.4 1399.2 1908.5 1400.7 1910.6 1401.3 1912.6 1403.7 1914.7 1404.9 1916.7 1401.9 1918.8 1403.3 1920.9 1403.2 1922.9 1401.8 1925.0 1400.5 1927.0 1401.9 1929.1 1401.0 1931.2 1402.7 1933.2 1402.9 1935.3 1402.9 1937.4 1403.0 1939.4 1403.9 1941.5 1401.9 1943.5 1404.6 1945.6 1400.9 1947.7 1403.4 1949.7 1403.9 1951.8 1402.2 1953.9 1401.1 1955.9 1404.3 1958.0 1402.4 1960.0 1404.5 1962.1 1404.5 1964.2 1403.4 1966.2 1403.4 1968.3 1404.8 1970.3 1404.0 1972.4 1402.1 1974.5 1403.7 1976.5 1404.3 1978.6 1403.8 1980.7 1403.7 1982.7 1403.3 1984.8 1403.3 1986.8 1402.2 1988.9 1401.5 1991.0 1405.1 1993.0 1402.6 1995.1 1403.8 1997.2 1401.4 1999.2 1403.7 2001.3 1402.3 2003.3 1407.7 2005.4 1402.1 2007.5 1402.2 2009.5 1404.9 2011.6 1405.1 2013.6 1400.6 2015.7 1403.9 2017.8 1404.8 2019.8 1401.8 2021.9 1404.5 2024.0 1402.8 2026.0 1402.1 2028.1 1403.0 2030.1 1402.9 2032.2 1401.6 2034.3 1406.7 2036.3 1402.9 2038.4 1402.5 2040.5 1404.7 2042.5 1403.4 2044.6 1405.4 2046.6 1403.2 2048.7 1404.0 2050.8 1403.7 2052.8 1403.8 2054.9 1403.2 2056.9 1403.4 2059.0 1405.9 2061.1 1402.5 2063.1 1402.7 2065.2 1403.0 2067.3 1404.3 2069.3 1404.0 2071.4 1404.8 2073.4 1401.5 2075.5 1403.8 2077.6 1403.1 2079.6 1402.9 2081.7 1403.5 2083.8 1400.5 2085.8 1403.6 2087.9 1403.3 2089.9 1401.0 2092.0 1402.8 2094.1 1404.9 2096.1 1401.9 2098.2 1402.9 2100.2 1401.0 2102.3 1399.1 2104.4 1397.3 2106.4 1396.0 2108.5 1396.9 2110.6 1396.0 2112.6 1394.5 2114.7 1398.1 2116.7 1398.0 2118.8 1398.7 2120.9 1401.5 2122.9 1400.4 2125.0 1400.0 2127.1 1404.3 2129.1 1400.1 2131.2 1403.5 2133.2 1400.7 2135.3 1402.8 2137.4 1402.6 2139.4 1402.2 2141.5 1399.7 2143.6 1402.5 2145.6 1402.4 2147.7 1400.9 2149.7 1401.4 2151.8 1402.0 2153.9 1398.2 2155.9 1397.7 2158.0 1393.9 2159.1 1395.5 2160.0 1395.7 2162.1 1398.8 2164.2 1397.5 2166.2 1398.2 2168.3 1401.1 2170.4 1399.2 2172.4 1403.0 2174.5 1401.4 2176.5 1401.7 2178.6 1404.3 2180.7 1403.3 2182.7 1404.9 2184.8 1401.2 2186.9 1403.6 2188.9 1402.6 2191.0 1403.0 2193.0 1400.8 2195.1 1404.7 2197.2 1403.7 2199.2 1402.1 2201.3 1401.6 2203.3 1402.3 2205.4 1405.4 2207.5 1403.3 2209.5 1403.0 2211.6 1404.2 2213.7 1403.5 2215.7 1403.8 2217.8 1404.5 2219.8 1404.0 2221.9 1404.7 2224.0 1401.9 2226.0 1403.6 2228.1 1403.0 2230.2 1403.6 2232.2 1403.4 2234.3 1402.6 2236.3 1403.0 2238.4 1404.7 2240.5 1402.7 2242.5 1401.7 2244.6 1404.2 2246.6 1404.6 2248.7 1402.9 2250.8 1403.4 2252.8 1402.0 2254.9 1402.7 2257.0 1404.4 2259.0 1403.7 2261.1 1402.5 2263.1 1401.3 2265.2 1398.6 2267.3 1399.9 2269.3 1398.4 2271.4 1397.9 2272.0 1399.0 2273.5 1396.7 2275.5 1398.1 2277.6 1396.0 2279.6 1400.3 2281.7 1401.1 2283.8 1402.9 2285.8 1402.7 2287.9 1402.9 2289.9 1404.6 2292.0 1401.9 2294.1 1403.8 2296.1 1404.4 2298.2 1402.0 2300.3 1401.5 2302.3 1403.7 2304.4 1403.3 2306.4 1403.9 2308.5 1404.0 2310.6 1402.1 2312.6 1403.5 2314.7 1404.6 2316.8 1402.6 2318.8 1402.6 2320.9 1401.5 2322.9 1404.0 2325.0 1405.5 2327.1 1401.0 2329.1 1403.8 2331.2 1403.9 2333.2 1401.9 2335.3 1402.0 2337.4 1401.1 2339.4 1401.3 2341.5 1402.4 2343.6 1402.9 2345.6 1402.1 2347.7 1402.8 2349.7 1401.7 2351.8 1399.6 2353.9 1402.8 2355.9 1402.1 2358.0 1399.0 2360.1 1401.7 2362.1 1399.2 2364.2 1397.8 2366.2 1399.1 2368.3 1391.7 2370.4 1391.2 2372.4 1392.3 2374.5 1388.7 2376.6 1385.2 2378.6 1385.9"/><path d="M19.5 1406.5 19.7 1408.1 21.8 1415.7 23.9 1430.3 25.9 1443.1 28.0 1416.3 30.1 1439.3 32.1 1438.3 34.2 1431.5 36.2 1447.6 38.3 1440.1 40.4 1451.5 42.4 1470.5 44.5 1465.2 46.5 1469.8 48.6 1471.0 50.7 1471.7 52.7 1478.2 54.8 1465.9 56.9 1473.5 58.9 1483.5 61.0 1475.1 63.0 1478.8 65.1 1491.1 67.2 1494.7 69.2 1482.9 71.3 1483.2 73.4 1493.2 75.4 1492.7 77.5 1488.4 79.5 1497.3 81.6 1498.2 83.7 1496.7 85.7 1514.2 87.8 1506.2 89.8 1504.1 91.9 1506.3 94.0 1517.9 96.0 1508.5 98.1 1499.6 100.2 1506.1 102.2 1505.6 104.3 1503.1 106.3 1508.3 108.4 1509.0 110.5 1508.2 112.5 1506.7 114.6 1514.1 116.7 1502.6 118.7 1515.4 120.8 1512.0 122.8 1513.9 124.9 1501.6 127.0 1521.9 129.0 1506.1 131.1 1510.8 133.1 1518.5 135.2 1513.2 137.3 1514.6 139.3 1506.7 141.4 1515.5 143.5 1518.9 145.5 1521.5 147.6 1517.6 149.6 1520.3 151.7 1521.7 153.8 1517.2 155.8 1517.3 157.9 1529.5 160.0 1517.7 162.0 1527.1 164.1 1522.4 166.1 1528.7 168.2 1520.1 170.3 1525.4 172.3 1524.9 174.4 1522.9 176.5 1525.4 178.5 1521.3 180.6 1524.5 182.6 1523.5 184.7 1528.4 186.8 1525.3 188.8 1520.4 190.9 1524.7 192.9 1526.1 195.0 1523.2 197.1 1532.2 199.1 1528.8 201.2 1530.8 203.3 1524.8 205.3 1526.4 207.4 1532.0 209.4 1523.0 211.5 1530.0 213.6 1529.2 215.6 1527.2 217.7 1529.6 219.8 1525.5 221.8 1530.5 223.9 1525.4 225.9 1525.4 228.0 1535.4 230.1 1527.9 232.1 1523.0 234.2 1534.3 236.2 1528.2 238.3 1518.6 240.4 1531.1 242.4 1534.8 244.5 1532.9 246.6 1537.9 248.6 1531.6 250.7 1534.2 252.7 1528.8 254.8 1533.0 256.9 1537.9 258.9 1534.5 261.0 1533.4 263.1 1526.3 265.1 1531.9 267.2 1529.0 269.2 1536.1 271.3 1531.1 273.4 1534.9 275.4 1530.5 277.5 1540.2 279.5 1530.2 281.6 1534.7 283.7 1542.9 285.7 1535.1 287.8 1531.7 289.9 1536.7 291.9 1538.0 294.0 1537.7 296.0 1528.7 298.1 1535.8 300.2 1528.4 302.2 1541.3 304.3 1535.6 306.4 1534.1 308.4 1537.7 310.5 1537.2 312.5 1532.1 314.6 1541.0 316.7 1535.2 318.7 1530.7 320.8 1540.5 322.8 1541.0 324.9 1540.2 327.0 1538.1 329.0 1533.8 331.1 1539.5 333.2 1542.3 335.2 1539.3 337.3 1541.7 339.3 1534.6 341.4 1540.1 343.5 1539.9 345.5 1532.8 347.6 1532.4 349.7 1535.2 351.7 1537.7 353.8 1538.8 355.8 1536.9 357.9 1537.4 360.0 1537.4 362.0 1538.0 364.1 1539.5 366.1 1539.3 368.2 1537.8 370.3 1538.8 372.3 1536.8 374.4 1540.5 376.5 1536.8 378.5 1543.0 380.6 1538.3 382.6 1539.2 384.7 1536.3 386.8 1537.6 388.8 1539.1 390.9 1538.7 393.0 1537.0 395.0 1535.5 397.1 1538.9 399.1 1539.3 401.2 1540.5 403.3 1542.4 405.3 1538.2 407.4 1533.6 409.5 1538.8 411.5 1534.2 413.6 1535.7 415.6 1542.1 417.7 1540.9 419.8 1537.7 421.8 1537.7 423.9 1539.3 425.9 1534.8 428.0 1540.9 430.1 1538.7 432.1 1544.6 434.2 1536.9 436.3 1542.5 438.3 1538.0 440.4 1542.6 442.4 1537.3 444.5 1541.9 446.6 1538.8 448.6 1537.9 450.7 1539.7 452.8 1541.4 454.8 1541.2 456.9 1544.3 458.9 1542.4 461.0 1533.4 463.1 1539.3 465.1 1535.2 467.2 1539.4 469.2 1542.0 471.3 1537.0 473.4 1537.5 475.4 1540.9 477.5 1539.9 479.6 1544.7 481.6 1541.5 483.7 1542.0 485.7 1545.2 487.8 1539.5 489.9 1540.8 491.9 1538.3 494.0 1541.5 496.1 1543.5 498.1 1544.3 500.2 1540.9 502.2 1539.2 504.3 1539.1 506.4 1537.6 508.4 1541.4 510.5 1544.5 512.5 1535.3 514.6 1535.8 516.7 1544.6 518.7 1537.3 520.8 1542.0 522.9 1538.2 524.9 1543.2 527.0 1543.2 529.0 1541.7 531.1 1543.3 533.2 1541.5 535.2 1542.7 537.3 1545.8 539.4 1544.0 541.4 1539.8 543.5 1539.5 545.5 1540.8 547.6 1540.8 549.7 1541.5 551.7 1539.9 553.8 1542.8 555.8 1541.3 557.9 1541.9 560.0 1540.9 562.0 1542.1 564.1 1537.3 566.2 1543.1 568.2 1538.5 570.3 1535.1 572.3 1528.2 574.4 1521.9 576.5 1524.3 578.5 1531.5 580.6 1535.9 582.7 1535.0 584.7 1540.5 586.8 1539.9 588.8 1540.3 590.9 1546.9 593.0 1537.2 595.0 1541.8 597.1 1544.6 599.1 1544.1 601.2 1544.8 603.3 1539.1 605.3 1539.9 607.4 1543.5 609.5 1541.5 611.5 1546.1 613.6 1542.8 615.6 1542.7 617.7 1543.3 619.8 1541.7 621.8 1542.6 623.9 1540.9 626.0 1542.3 628.0 1541.3 630.1 1543.0 632.1 1539.3 634.2 1539.1 636.3 1543.5 638.3 1543.0 640.4 1540.4 642.5 1542.0 644.5 1540.2 646.6 1547.1 648.6 1539.1 650.7 1546.4 652.8 1540.8 654.8 1543.5 656.9 1542.0 658.9 1541.7 661.0 1544.6 663.1 1544.4 665.1 1541.9 667.2 1540.6 669.3 1547.1 671.3 1545.6 673.4 1542.8 675.4 1541.8 677.5 1543.0 679.6 1542.5 681.6 1544.8 683.7 1540.1 685.8 1542.1 687.8 1540.2 689.9 1544.5 691.9 1545.3 694.0 1540.9 696.1 1541.8 698.1 1543.0 700.2 1538.4 702.2 1535.5 704.3 1537.5 706.4 1531.1 708.4 1521.8 710.5 1503.4 712.6 1469.1 713.9 1450.8 714.6 1450.6 716.7 1473.8 718.7 1506.3 720.8 1523.2 722.9 1531.2 724.9 1536.6 727.0 1538.4 729.1 1536.3 731.1 1540.5 733.2 1540.2 735.2 1544.3 737.3 1546.8 739.4 1539.7 741.4 1540.2 743.5 1540.7 745.5 1541.2 747.6 1541.3 749.7 1542.9 751.7 1545.2 753.8 1540.3 755.9 1539.9 757.9 1539.3 760.0 1545.4 762.0 1545.9 764.1 1540.1 766.2 1540.0 768.2 1543.6 770.3 1545.6 772.4 1545.5 774.4 1543.8 776.5 1544.9 778.5 1544.2 780.6 1542.4 782.7 1547.4 784.7 1543.6 786.8 1541.3 788.8 1542.7 790.9 1540.5 793.0 1543.7 795.0 1545.9 797.1 1541.1 799.2 1546.0 801.2 1547.9 803.3 1544.5 805.3 1541.4 807.4 1542.0 809.5 1543.1 811.5 1541.2 813.6 1541.3 815.7 1543.3 817.7 1543.5 819.8 1545.0 821.8 1541.5 823.9 1547.6 826.0 1546.0 828.0 1545.6 830.1 1542.6 832.2 1547.3 834.2 1543.2 836.3 1547.5 838.3 1546.1 840.4 1542.2 842.5 1543.1 844.5 1547.6 846.6 1545.9 848.6 1543.7 850.7 1544.4 852.8 1544.4 854.8 1542.5 856.9 1543.6 859.0 1542.8 861.0 1543.2 863.1 1545.0 865.1 1542.2 867.2 1545.5 869.3 1544.3 871.3 1545.6 873.4 1545.8 875.5 1546.5 877.5 1545.3 879.6 1545.5 881.6 1543.8 883.7 1545.2 885.8 1542.4 887.8 1543.7 889.9 1545.6 891.9 1544.1 894.0 1545.0 896.1 1542.2 898.1 1546.8 900.2 1543.1 902.3 1545.0 904.3 1544.2 906.4 1546.0 908.4 1543.5 910.5 1542.3 912.6 1540.6 914.6 1543.7 916.7 1542.0 918.8 1545.3 920.8 1547.0 922.9 1540.0 924.9 1541.8 927.0 1544.8 929.1 1546.6 931.1 1544.8 933.2 1544.9 935.2 1545.2 937.3 1545.4 939.4 1547.4 941.4 1545.4 943.5 1542.0 945.6 1543.4 947.6 1544.7 949.7 1542.8 951.7 1543.8 953.8 1543.3 955.9 1543.0 957.9 1545.6 960.0 1543.6 962.1 1542.2 964.1 1542.9 966.2 1544.3 968.2 1548.2 970.3 1544.7 972.4 1547.0 974.4 1545.1 976.5 1540.2 978.5 1544.9 980.6 1542.6 982.7 1541.6 984.7 1542.1 986.8 1547.4 988.9 1541.1 990.9 1542.9 993.0 1546.1 995.0 1545.1 997.1 1540.7 999.2 1543.5 1001.2 1542.7 1003.3 1543.1 1005.4 1544.7 1007.4 1542.1 1009.5 1542.3 1011.5 1545.3 1013.6 1538.9 1015.7 1541.0 1017.7 1541.8 1019.8 1537.7 1021.8 1537.2 1023.9 1533.5 1026.0 1531.8 1028.0 1522.1 1030.1 1505.0 1032.2 1476.3 1033.7 1459.3 1034.2 1457.3 1036.3 1469.8 1038.3 1495.9 1040.4 1516.6 1042.5 1530.9 1044.5 1535.0 1046.6 1539.1 1048.7 1537.0 1050.7 1542.3 1052.8 1545.3 1054.8 1543.2 1056.9 1539.9 1059.0 1543.0 1061.0 1543.0 1063.1 1543.7 1065.2 1543.1 1067.2 1544.5 1069.3 1542.9 1071.3 1544.3 1073.4 1542.7 1075.5 1544.2 1077.5 1545.8 1079.6 1543.2 1081.6 1545.3 1083.7 1542.5 1085.8 1543.5 1087.8 1543.7 1089.9 1546.3 1092.0 1542.8 1094.0 1546.3 1096.1 1541.5 1098.1 1543.8 1100.2 1545.6 1102.3 1545.1 1104.3 1542.0 1106.4 1541.5 1108.5 1545.1 1110.5 1541.1 1112.6 1544.0 1114.6 1541.7 1116.7 1542.0 1118.8 1545.2 1120.8 1542.5 1122.9 1538.8 1124.9 1531.4 1127.0 1521.2 1129.1 1500.6 1130.8 1485.7 1133.2 1492.9 1135.3 1509.2 1137.3 1526.1 1139.4 1534.7 1141.4 1537.1 1143.5 1543.5 1145.6 1539.4 1147.6 1542.5 1149.7 1543.1 1151.8 1539.5 1153.8 1541.1 1155.9 1542.1 1157.9 1545.3 1160.0 1545.8 1162.1 1545.2 1164.1 1544.7 1166.2 1540.6 1168.2 1544.8 1170.3 1543.6 1172.4 1546.6 1174.4 1546.9 1176.5 1548.5 1178.6 1545.9 1180.6 1546.1 1182.7 1542.9 1184.7 1544.9 1186.8 1542.6 1188.9 1546.3 1190.9 1542.7 1193.0 1544.4 1195.1 1543.4 1197.1 1544.0 1199.2 1545.6 1201.2 1543.9 1203.3 1545.2 1205.4 1543.1 1207.4 1547.2 1209.5 1543.8 1211.5 1546.6 1213.6 1548.5 1215.7 1540.7 1217.7 1543.2 1219.8 1544.5 1221.9 1546.9 1223.9 1544.1 1226.0 1545.5 1228.0 1543.7 1230.1 1545.9 1232.2 1542.8 1234.2 1546.3 1236.3 1539.8 1238.4 1541.7 1240.4 1548.0 1242.5 1545.2 1244.5 1543.4 1246.6 1548.6 1248.7 1546.6 1250.7 1546.8 1252.8 1544.1 1254.9 1545.9 1256.9 1545.6 1259.0 1541.9 1261.0 1545.7 1263.1 1544.3 1265.2 1546.8 1267.2 1546.7 1269.3 1543.3 1271.3 1543.2 1273.4 1544.3 1275.5 1544.6 1277.5 1541.8 1279.6 1540.7 1281.1 1540.8 1281.7 1540.3 1283.7 1541.4 1285.8 1539.4 1287.8 1535.4 1289.9 1528.1 1292.0 1525.2 1294.0 1523.5 1296.1 1528.1 1298.2 1534.7 1300.2 1536.9 1302.3 1541.1 1304.3 1538.4 1306.4 1542.7 1308.5 1542.1 1310.5 1546.9 1312.6 1544.6 1314.6 1543.5 1316.7 1544.1 1318.8 1544.8 1320.8 1541.9 1322.9 1542.0 1325.0 1540.8 1327.0 1544.3 1329.1 1539.3 1331.1 1535.9 1333.2 1541.3 1335.3 1545.5 1337.3 1540.5 1339.4 1548.7 1341.5 1543.2 1343.5 1545.1 1345.6 1542.6 1347.6 1543.0 1349.7 1541.2 1351.8 1541.1 1353.8 1538.7 1355.9 1543.2 1357.9 1537.7 1360.0 1537.0 1362.1 1529.6 1364.1 1513.7 1366.2 1501.0 1368.3 1504.1 1370.3 1512.9 1372.4 1526.7 1374.4 1535.1 1376.5 1537.5 1378.6 1539.0 1380.6 1540.9 1382.7 1543.2 1384.8 1545.8 1386.8 1546.2 1388.9 1544.5 1390.9 1545.8 1393.0 1544.5 1395.1 1546.3 1397.1 1544.7 1399.2 1545.2 1401.2 1544.1 1403.3 1544.6 1405.4 1547.8 1407.4 1542.7 1409.5 1544.7 1411.6 1543.7 1413.6 1546.2 1415.7 1547.5 1417.7 1543.9 1419.8 1539.7 1421.9 1544.9 1423.9 1544.3 1426.0 1539.5 1428.1 1540.0 1430.1 1538.0 1431.1 1533.6 1432.2 1538.5 1434.2 1539.1 1436.3 1540.6 1438.4 1540.2 1440.4 1542.0 1442.5 1542.8 1444.5 1544.9 1446.6 1542.8 1448.7 1546.9 1450.7 1545.2 1452.8 1541.1 1454.9 1547.4 1456.9 1544.9 1459.0 1543.8 1461.0 1544.8 1463.1 1541.7 1465.2 1544.9 1467.2 1540.6 1469.3 1542.8 1471.4 1546.6 1473.4 1546.4 1475.5 1543.7 1477.5 1542.5 1479.6 1545.5 1481.7 1543.7 1483.7 1543.9 1485.8 1544.2 1487.9 1541.0 1489.9 1543.5 1492.0 1538.0 1494.0 1542.7 1496.1 1536.1 1498.2 1534.9 1500.2 1530.6 1502.3 1521.2 1504.3 1501.6 1506.4 1473.0 1507.5 1463.1 1508.5 1462.5 1510.5 1473.8 1512.6 1491.2 1514.7 1512.3 1516.7 1523.1 1518.8 1533.9 1520.8 1537.2 1522.9 1539.5 1525.0 1541.4 1527.0 1541.6 1529.1 1541.0 1531.2 1540.6 1533.2 1540.4 1535.3 1545.7 1537.3 1545.4 1539.4 1541.9 1541.5 1543.8 1543.5 1545.1 1545.6 1547.0 1547.6 1543.6 1549.7 1544.9 1551.8 1546.5 1553.8 1541.9 1555.9 1543.6 1558.0 1544.7 1560.0 1543.7 1562.1 1548.2 1564.1 1546.3 1566.2 1545.2 1568.3 1543.4 1570.3 1546.3 1572.4 1546.0 1574.5 1544.1 1576.5 1544.3 1578.6 1542.6 1580.6 1544.9 1582.7 1546.4 1584.8 1546.6 1586.8 1545.9 1588.9 1546.3 1590.9 1544.0 1593.0 1544.2 1595.1 1546.9 1597.1 1545.6 1599.2 1543.7 1601.3 1545.7 1603.3 1546.2 1605.4 1546.0 1607.4 1545.0 1609.5 1544.0 1611.6 1545.4 1613.6 1547.4 1615.7 1544.9 1617.8 1543.5 1619.8 1545.0 1621.9 1542.4 1623.9 1544.6 1626.0 1543.6 1628.1 1545.4 1630.1 1543.8 1632.2 1545.0 1634.2 1546.4 1636.3 1541.7 1638.4 1539.5 1640.4 1539.4 1642.5 1534.1 1644.6 1526.1 1646.6 1514.2 1647.4 1514.1 1648.7 1513.8 1650.7 1514.6 1652.8 1524.0 1654.9 1532.6 1656.9 1538.9 1659.0 1538.6 1661.1 1539.5 1663.1 1543.2 1665.2 1540.7 1667.2 1541.9 1669.3 1542.4 1671.4 1542.6 1673.4 1541.1 1675.5 1538.8 1677.5 1541.4 1679.6 1538.1 1681.7 1536.6 1683.7 1538.5 1685.8 1533.7 1687.9 1526.2 1689.9 1521.3 1692.0 1514.1 1694.0 1504.7 1696.1 1494.7 1697.2 1496.1 1698.2 1494.0 1700.2 1489.8 1702.3 1485.8 1704.4 1475.9 1706.4 1457.5 1707.7 1449.9 1708.5 1451.9 1710.5 1466.9 1712.6 1482.8 1714.7 1503.4 1716.7 1517.5 1718.8 1527.8 1720.9 1536.5 1722.9 1535.1 1725.0 1538.7 1727.0 1538.8 1729.1 1542.7 1731.2 1541.4 1733.2 1541.4 1735.3 1540.7 1737.3 1542.5 1739.4 1544.4 1741.5 1544.4 1743.5 1541.6 1745.6 1546.2 1747.7 1543.6 1749.7 1542.5 1751.8 1544.4 1753.8 1543.4 1755.9 1543.5 1758.0 1543.5 1760.0 1544.4 1762.1 1543.9 1764.2 1542.1 1766.2 1545.5 1768.3 1544.0 1770.3 1546.6 1772.4 1545.7 1774.5 1545.8 1776.5 1545.2 1778.6 1546.9 1780.6 1544.4 1782.7 1543.5 1784.8 1545.5 1786.8 1540.9 1788.9 1544.4 1791.0 1545.3 1793.0 1544.3 1795.1 1546.8 1797.1 1546.0 1799.2 1545.1 1801.3 1544.2 1803.3 1546.4 1805.4 1543.7 1807.5 1543.9 1809.5 1545.5 1811.6 1544.9 1813.6 1546.4 1815.7 1541.6 1817.8 1536.1 1819.8 1535.4 1820.9 1534.8 1821.9 1532.8 1823.9 1537.7 1826.0 1539.5 1828.1 1538.7 1830.1 1541.4 1832.2 1541.4 1834.3 1544.7 1836.3 1545.2 1838.4 1545.2 1840.4 1542.6 1842.5 1543.3 1844.6 1542.2 1846.6 1541.9 1848.7 1542.2 1850.8 1541.7 1852.8 1543.6 1854.9 1544.2 1856.9 1544.0 1859.0 1542.4 1861.1 1540.3 1863.1 1539.5 1865.2 1537.0 1867.2 1529.6 1869.3 1521.9 1870.8 1517.2 1871.4 1516.5 1873.4 1519.7 1875.5 1520.8 1877.6 1528.5 1879.6 1528.2 1881.7 1531.6 1883.7 1525.0 1885.8 1523.2 1886.9 1520.2 1887.9 1517.8 1889.9 1521.8 1892.0 1524.4 1894.1 1531.4 1896.1 1537.2 1898.2 1543.6 1900.2 1539.6 1902.3 1544.5 1904.4 1542.5 1906.4 1544.2 1908.5 1545.4 1910.6 1545.2 1912.6 1545.2 1914.7 1544.4 1916.7 1544.8 1918.8 1545.2 1920.9 1546.8 1922.9 1542.9 1925.0 1544.4 1927.0 1543.4 1929.1 1543.8 1931.2 1544.1 1933.2 1546.9 1935.3 1548.5 1937.4 1547.3 1939.4 1543.7 1941.5 1545.5 1943.5 1543.8 1945.6 1546.1 1947.7 1547.3 1949.7 1546.3 1951.8 1546.8 1953.9 1545.3 1955.9 1542.6 1958.0 1542.6 1960.0 1545.4 1962.1 1546.4 1964.2 1547.4 1966.2 1545.1 1968.3 1545.7 1970.3 1545.9 1972.4 1547.1 1974.5 1545.5 1976.5 1544.0 1978.6 1547.2 1980.7 1546.2 1982.7 1546.2 1984.8 1543.8 1986.8 1545.6 1988.9 1543.1 1991.0 1542.7 1993.0 1545.3 1995.1 1545.0 1997.2 1546.5 1999.2 1547.7 2001.3 1545.6 2003.3 1548.2 2005.4 1544.8 2007.5 1546.7 2009.5 1543.8 2011.6 1545.8 2013.6 1545.2 2015.7 1545.4 2017.8 1546.5 2019.8 1543.0 2021.9 1545.8 2024.0 1544.5 2026.0 1545.8 2028.1 1546.2 2030.1 1545.1 2032.2 1545.1 2034.3 1544.0 2036.3 1546.5 2038.4 1544.7 2040.5 1546.3 2042.5 1543.6 2044.6 1547.6 2046.6 1544.2 2048.7 1547.3 2050.8 1545.0 2052.8 1546.4 2054.9 1545.5 2056.9 1546.6 2059.0 1545.7 2061.1 1547.5 2063.1 1546.6 2065.2 1546.6 2067.3 1548.0 2069.3 1544.7 2071.4 1547.5 2073.4 1545.7 2075.5 1543.5 2077.6 1546.3 2079.6 1545.3 2081.7 1548.0 2083.8 1544.9 2085.8 1545.6 2087.9 1545.8 2089.9 1542.7 2092.0 1546.1 2094.1 1543.9 2096.1 1547.2 2098.2 1547.3 2100.2 1544.6 2102.3 1541.9 2104.4 1543.6 2106.4 1542.7 2108.5 1542.7 2110.6 1541.2 2112.6 1540.2 2114.7 1542.2 2116.7 1541.8 2118.8 1546.4 2120.9 1543.4 2122.9 1543.8 2125.0 1544.9 2127.1 1543.4 2129.1 1544.6 2131.2 1545.0 2133.2 1544.5 2135.3 1544.9 2137.4 1546.9 2139.4 1545.7 2141.5 1543.1 2143.6 1544.3 2145.6 1545.7 2147.7 1543.4 2149.7 1543.8 2151.8 1542.8 2153.9 1542.1 2155.9 1539.2 2158.0 1537.5 2159.1 1535.9 2160.0 1537.5 2162.1 1536.1 2164.2 1540.9 2166.2 1539.7 2168.3 1541.0 2170.4 1543.8 2172.4 1543.5 2174.5 1544.4 2176.5 1544.6 2178.6 1543.9 2180.7 1543.8 2182.7 1544.2 2184.8 1546.9 2186.9 1544.5 2188.9 1544.8 2191.0 1544.8 2193.0 1546.5 2195.1 1548.3 2197.2 1544.3 2199.2 1546.3 2201.3 1545.7 2203.3 1545.2 2205.4 1546.3 2207.5 1543.8 2209.5 1546.8 2211.6 1545.9 2213.7 1544.2 2215.7 1547.8 2217.8 1546.8 2219.8 1547.2 2221.9 1543.6 2224.0 1545.2 2226.0 1544.9 2228.1 1546.5 2230.2 1547.5 2232.2 1543.0 2234.3 1545.6 2236.3 1545.4 2238.4 1546.9 2240.5 1545.5 2242.5 1543.8 2244.6 1545.2 2246.6 1544.0 2248.7 1544.3 2250.8 1545.4 2252.8 1544.6 2254.9 1545.6 2257.0 1543.0 2259.0 1548.1 2261.1 1546.3 2263.1 1545.1 2265.2 1541.6 2267.3 1539.2 2269.3 1539.7 2271.4 1539.4 2272.0 1542.7 2273.5 1541.3 2275.5 1539.2 2277.6 1542.3 2279.6 1543.3 2281.7 1542.7 2283.8 1545.2 2285.8 1544.6 2287.9 1543.7 2289.9 1543.2 2292.0 1544.8 2294.1 1546.5 2296.1 1543.3 2298.2 1543.0 2300.3 1546.0 2302.3 1541.5 2304.4 1547.7 2306.4 1544.6 2308.5 1546.2 2310.6 1547.8 2312.6 1543.2 2314.7 1543.8 2316.8 1548.2 2318.8 1544.8 2320.9 1544.9 2322.9 1545.4 2325.0 1546.5 2327.1 1546.8 2329.1 1545.1 2331.2 1544.4 2333.2 1544.8 2335.3 1545.1 2337.4 1546.4 2339.4 1544.7 2341.5 1546.9 2343.6 1543.1 2345.6 1544.9 2347.7 1546.4 2349.7 1545.5 2351.8 1544.0 2353.9 1542.0 2355.9 1541.9 2358.0 1542.2 2360.1 1542.3 2362.1 1540.9 2364.2 1538.3 2366.2 1538.3 2368.3 1538.8 2370.4 1537.7 2372.4 1532.7 2374.5 1532.1 2376.6 1528.0 2378.6 1527.2"/><path d="M19.5 1554.0 19.7 1550.8 21.8 1556.1 23.9 1557.7 25.9 1557.8 28.0 1557.5 30.1 1578.2 32.1 1580.8 34.2 1599.5 36.2 1578.1 38.3 1598.5 40.4 1609.1 42.4 1586.9 44.5 1610.0 46.5 1596.1 48.6 1614.6 50.7 1624.1 52.7 1616.0 54.8 1620.4 56.9 1615.9 58.9 1624.8 61.0 1632.4 63.0 1625.6 65.1 1627.8 67.2 1633.0 69.2 1637.4 71.3 1623.5 73.4 1635.7 75.4 1632.6 77.5 1641.2 79.5 1645.8 81.6 1642.7 83.7 1649.7 85.7 1637.6 87.8 1642.1 89.8 1640.0 91.9 1647.0 94.0 1648.2 96.0 1647.6 98.1 1643.0 100.2 1650.1 102.2 1649.1 104.3 1655.4 106.3 1651.7 108.4 1659.9 110.5 1655.8 112.5 1646.0 114.6 1655.2 116.7 1649.7 118.7 1662.2 120.8 1665.1 122.8 1658.6 124.9 1661.4 127.0 1653.0 129.0 1649.9 131.1 1658.4 133.1 1660.4 135.2 1655.1 137.3 1663.0 139.3 1664.5 141.4 1666.4 143.5 1670.9 145.5 1668.0 147.6 1663.3 149.6 1665.8 151.7 1668.3 153.8 1661.6 155.8 1672.2 157.9 1670.7 160.0 1666.3 162.0 1664.9 164.1 1683.8 166.1 1671.8 168.2 1672.5 170.3 1676.3 172.3 1673.2 174.4 1670.4 176.5 1672.7 178.5 1666.5 180.6 1673.3 182.6 1664.7 184.7 1672.7 186.8 1673.4 188.8 1665.5 190.9 1679.2 192.9 1667.7 195.0 1676.2 197.1 1670.5 199.1 1673.9 201.2 1670.5 203.3 1682.4 205.3 1677.2 207.4 1680.3 209.4 1676.7 211.5 1676.6 213.6 1674.8 215.6 1673.6 217.7 1676.8 219.8 1675.4 221.8 1674.5 223.9 1670.4 225.9 1674.3 228.0 1677.7 230.1 1674.1 232.1 1677.1 234.2 1675.6 236.2 1672.7 238.3 1673.3 240.4 1674.0 242.4 1675.7 244.5 1675.9 246.6 1680.7 248.6 1673.5 250.7 1670.5 252.7 1679.6 254.8 1676.0 256.9 1677.3 258.9 1686.0 261.0 1682.6 263.1 1679.9 265.1 1681.2 267.2 1678.6 269.2 1681.4 271.3 1676.6 273.4 1676.4 275.4 1677.3 277.5 1683.8 279.5 1683.8 281.6 1677.2 283.7 1682.7 285.7 1678.8 287.8 1682.6 289.9 1678.5 291.9 1682.5 294.0 1679.3 296.0 1678.9 298.1 1679.8 300.2 1680.4 302.2 1678.3 304.3 1676.0 306.4 1685.2 308.4 1679.1 310.5 1675.0 312.5 1673.8 314.6 1672.3 316.7 1678.8 318.7 1684.6 320.8 1676.0 322.8 1679.9 324.9 1675.6 327.0 1684.1 329.0 1682.1 331.1 1682.0 333.2 1685.0 335.2 1685.9 337.3 1684.2 339.3 1679.8 341.4 1677.8 343.5 1678.6 345.5 1676.7 347.6 1686.7 349.7 1681.2 351.7 1682.2 353.8 1682.4 355.8 1687.4 357.9 1680.4 360.0 1685.2 362.0 1682.9 364.1 1681.7 366.1 1677.0 368.2 1684.7 370.3 1680.3 372.3 1681.1 374.4 1683.0 376.5 1682.7 378.5 1685.5 380.6 1680.8 382.6 1683.1 384.7 1683.4 386.8 1682.8 388.8 1684.6 390.9 1682.2 393.0 1686.0 395.0 1681.1 397.1 1679.3 399.1 1682.9 401.2 1686.1 403.3 1681.8 405.3 1681.5 407.4 1682.3 409.5 1683.6 411.5 1682.8 413.6 1684.1 415.6 1679.0 417.7 1687.2 419.8 1684.9 421.8 1681.3 423.9 1686.9 425.9 1684.7 428.0 1687.2 430.1 1680.7 432.1 1687.7 434.2 1683.8 436.3 1678.7 438.3 1685.6 440.4 1683.1 442.4 1681.4 444.5 1683.3 446.6 1679.2 448.6 1685.3 450.7 1683.4 452.8 1683.3 454.8 1687.4 456.9 1684.1 458.9 1682.5 461.0 1681.9 463.1 1684.0 465.1 1686.7 467.2 1682.8 469.2 1681.8 471.3 1686.4 473.4 1684.4 475.4 1684.3 477.5 1689.2 479.6 1681.5 481.6 1684.9 483.7 1680.3 485.7 1683.8 487.8 1685.8 489.9 1687.1 491.9 1681.6 494.0 1686.5 496.1 1686.4 498.1 1684.3 500.2 1690.3 502.2 1684.7 504.3 1682.7 506.4 1685.7 508.4 1680.5 510.5 1688.3 512.5 1687.0 514.6 1683.9 516.7 1686.2 518.7 1686.0 520.8 1689.2 522.9 1683.5 524.9 1682.0 527.0 1680.3 529.0 1684.2 531.1 1681.4 533.2 1684.5 535.2 1685.8 537.3 1683.9 539.4 1682.8 541.4 1687.5 543.5 1684.5 545.5 1685.4 547.6 1686.9 549.7 1682.0 551.7 1682.8 553.8 1690.1 555.8 1684.2 557.9 1682.2 560.0 1683.6 562.0 1682.6 564.1 1680.7 566.2 1681.5 568.2 1680.4 570.3 1676.1 572.3 1668.8 574.4 1655.0 576.5 1659.3 578.5 1674.2 580.6 1677.8 582.7 1684.2 584.7 1683.7 586.8 1680.8 588.8 1685.4 590.9 1682.4 593.0 1685.3 595.0 1687.5 597.1 1689.5 599.1 1685.0 601.2 1686.7 603.3 1685.9 605.3 1687.0 607.4 1680.1 609.5 1684.6 611.5 1686.1 613.6 1686.5 615.6 1684.0 617.7 1687.3 619.8 1687.8 621.8 1685.7 623.9 1685.2 626.0 1684.9 628.0 1685.9 630.1 1688.1 632.1 1688.7 634.2 1684.7 636.3 1683.8 638.3 1684.1 640.4 1687.7 642.5 1686.2 644.5 1686.3 646.6 1686.7 648.6 1686.5 650.7 1685.5 652.8 1683.7 654.8 1684.5 656.9 1686.0 658.9 1686.5 661.0 1685.0 663.1 1684.9 665.1 1688.4 667.2 1684.7 669.3 1686.0 671.3 1684.9 673.4 1683.8 675.4 1682.5 677.5 1684.4 679.6 1683.7 681.6 1686.9 683.7 1682.9 685.8 1684.1 687.8 1686.0 689.9 1684.3 691.9 1685.2 694.0 1685.4 696.1 1680.0 698.1 1681.7 700.2 1679.5 702.2 1682.3 704.3 1676.6 706.4 1672.0 708.4 1662.2 710.5 1638.3 712.6 1598.8 713.9 1578.9 714.6 1576.8 716.7 1605.2 718.7 1642.0 720.8 1663.2 722.9 1672.7 724.9 1676.6 727.0 1679.3 729.1 1680.9 731.1 1679.6 733.2 1684.2 735.2 1685.6 737.3 1684.5 739.4 1683.9 741.4 1685.1 743.5 1685.7 745.5 1686.0 747.6 1688.9 749.7 1684.1 751.7 1686.5 753.8 1687.1 755.9 1686.1 757.9 1685.6 760.0 1684.2 762.0 1685.0 764.1 1687.5 766.2 1688.9 768.2 1685.1 770.3 1687.1 772.4 1687.3 774.4 1688.2 776.5 1686.8 778.5 1687.2 780.6 1688.0 782.7 1684.3 784.7 1686.6 786.8 1683.3 788.8 1683.0 790.9 1685.0 793.0 1683.8 795.0 1687.5 797.1 1688.3 799.2 1686.0 801.2 1686.4 803.3 1686.2 805.3 1686.2 807.4 1686.9 809.5 1687.3 811.5 1685.8 813.6 1685.3 815.7 1685.8 817.7 1688.1 819.8 1686.0 821.8 1689.3 823.9 1686.3 826.0 1689.1 828.0 1684.7 830.1 1685.5 832.2 1687.6 834.2 1687.6 836.3 1686.5 838.3 1690.3 840.4 1686.9 842.5 1687.3 844.5 1685.8 846.6 1689.7 848.6 1688.3 850.7 1687.5 852.8 1684.0 854.8 1687.5 856.9 1686.0 859.0 1687.5 861.0 1688.4 863.1 1685.6 865.1 1687.2 867.2 1688.4 869.3 1687.2 871.3 1686.3 873.4 1685.1 875.5 1685.8 877.5 1684.8 879.6 1688.6 881.6 1687.1 883.7 1684.9 885.8 1686.9 887.8 1684.8 889.9 1681.4 891.9 1689.0 894.0 1688.9 896.1 1684.5 898.1 1685.8 900.2 1687.3 902.3 1686.3 904.3 1685.5 906.4 1686.1 908.4 1686.6 910.5 1686.1 912.6 1687.3 914.6 1686.6 916.7 1685.7 918.8 1687.0 920.8 1684.2 922.9 1689.4 924.9 1684.1 927.0 1686.9 929.1 1687.6 931.1 1687.7 933.2 1687.4 935.2 1689.1 937.3 1685.1 939.4 1686.9 941.4 1687.2 943.5 1686.2 945.6 1686.0 947.6 1689.1 949.7 1685.8 951.7 1686.2 953.8 1686.5 955.9 1686.6 957.9 1687.2 960.0 1686.6 962.1 1687.6 964.1 1687.2 966.2 1687.7 968.2 1689.1 970.3 1685.5 972.4 1689.5 974.4 1686.1 976.5 1687.9 978.5 1687.1 980.6 1686.3 982.7 1683.6 984.7 1689.3 986.8 1685.5 988.9 1685.4 990.9 1688.3 993.0 1686.7 995.0 1689.5 997.1 1689.1 999.2 1687.4 1001.2 1686.6 1003.3 1687.2 1005.4 1683.7 1007.4 1685.9 1009.5 1685.6 1011.5 1684.3 1013.6 1685.0 1015.7 1681.6 1017.7 1684.6 1019.8 1684.0 1021.8 1678.1 1023.9 1677.6 1026.0 1674.9 1028.0 1662.4 1030.1 1641.5 1032.2 1608.9 1033.7 1591.0 1034.2 1589.4 1036.3 1601.8 1038.3 1632.1 1040.4 1656.0 1042.5 1668.9 1044.5 1676.4 1046.6 1679.3 1048.7 1680.3 1050.7 1686.1 1052.8 1683.5 1054.8 1684.1 1056.9 1686.6 1059.0 1685.3 1061.0 1685.2 1063.1 1687.2 1065.2 1684.4 1067.2 1687.3 1069.3 1687.8 1071.3 1687.3 1073.4 1686.1 1075.5 1686.5 1077.5 1683.9 1079.6 1686.4 1081.6 1687.0 1083.7 1688.0 1085.8 1686.9 1087.8 1686.0 1089.9 1685.4 1092.0 1686.6 1094.0 1686.8 1096.1 1688.4 1098.1 1686.5 1100.2 1685.7 1102.3 1686.2 1104.3 1685.6 1106.4 1685.8 1108.5 1682.6 1110.5 1683.3 1112.6 1683.6 1114.6 1685.7 1116.7 1684.2 1118.8 1683.6 1120.8 1683.6 1122.9 1677.4 1124.9 1673.9 1127.0 1661.4 1129.1 1638.5 1130.8 1623.1 1133.2 1628.9 1135.3 1648.6 1137.3 1666.6 1139.4 1676.5 1141.4 1680.0 1143.5 1679.3 1145.6 1683.4 1147.6 1684.6 1149.7 1689.1 1151.8 1687.8 1153.8 1686.2 1155.9 1684.6 1157.9 1686.9 1160.0 1684.8 1162.1 1687.0 1164.1 1687.3 1166.2 1686.3 1168.2 1687.3 1170.3 1686.5 1172.4 1686.2 1174.4 1689.3 1176.5 1688.0 1178.6 1686.7 1180.6 1686.0 1182.7 1687.5 1184.7 1688.1 1186.8 1688.5 1188.9 1689.4 1190.9 1688.0 1193.0 1685.6 1195.1 1690.3 1197.1 1689.0 1199.2 1688.5 1201.2 1689.3 1203.3 1685.2 1205.4 1686.8 1207.4 1686.6 1209.5 1689.1 1211.5 1685.6 1213.6 1686.9 1215.7 1689.6 1217.7 1688.3 1219.8 1686.8 1221.9 1690.1 1223.9 1685.5 1226.0 1688.0 1228.0 1687.1 1230.1 1688.1 1232.2 1687.0 1234.2 1686.2 1236.3 1687.7 1238.4 1685.5 1240.4 1688.1 1242.5 1686.9 1244.5 1688.7 1246.6 1686.7 1248.7 1686.3 1250.7 1687.9 1252.8 1689.0 1254.9 1684.3 1256.9 1687.4 1259.0 1688.1 1261.0 1685.1 1263.1 1685.8 1265.2 1687.9 1267.2 1685.6 1269.3 1685.7 1271.3 1688.9 1273.4 1684.7 1275.5 1684.0 1277.5 1680.5 1279.6 1679.7 1281.1 1677.8 1281.7 1681.9 1283.7 1681.2 1285.8 1677.7 1287.8 1680.7 1289.9 1672.9 1292.0 1663.5 1294.0 1665.4 1296.1 1669.9 1298.2 1675.4 1300.2 1678.9 1302.3 1682.5 1304.3 1685.0 1306.4 1685.1 1308.5 1684.9 1310.5 1687.5 1312.6 1684.7 1314.6 1687.5 1316.7 1685.5 1318.8 1686.1 1320.8 1683.9 1322.9 1684.8 1325.0 1682.6 1327.0 1680.0 1329.1 1681.6 1331.1 1681.5 1333.2 1683.6 1335.3 1683.9 1337.3 1683.1 1339.4 1684.4 1341.5 1682.2 1343.5 1684.3 1345.6 1687.7 1347.6 1687.9 1349.7 1686.6 1351.8 1685.6 1353.8 1685.4 1355.9 1684.2 1357.9 1679.3 1360.0 1676.9 1362.1 1672.1 1364.1 1657.0 1366.2 1640.8 1368.3 1643.5 1370.3 1653.5 1372.4 1667.0 1374.4 1675.5 1376.5 1678.5 1378.6 1683.6 1380.6 1683.9 1382.7 1685.0 1384.8 1688.2 1386.8 1687.0 1388.9 1685.4 1390.9 1687.4 1393.0 1684.6 1395.1 1688.3 1397.1 1687.3 1399.2 1686.7 1401.2 1687.8 1403.3 1689.0 1405.4 1686.4 1407.4 1685.7 1409.5 1690.0 1411.6 1687.1 1413.6 1689.0 1415.7 1686.0 1417.7 1687.3 1419.8 1685.7 1421.9 1687.2 1423.9 1685.4 1426.0 1683.7 1428.1 1685.0 1430.1 1681.0 1431.1 1677.1 1432.2 1679.5 1434.2 1679.5 1436.3 1680.9 1438.4 1683.6 1440.4 1684.9 1442.5 1686.2 1444.5 1685.5 1446.6 1684.2 1448.7 1686.1 1450.7 1688.2 1452.8 1685.1 1454.9 1687.9 1456.9 1687.7 1459.0 1686.4 1461.0 1687.4 1463.1 1686.0 1465.2 1686.4 1467.2 1685.5 1469.3 1687.5 1471.4 1688.6 1473.4 1685.7 1475.5 1688.2 1477.5 1683.5 1479.6 1685.0 1481.7 1684.6 1483.7 1688.1 1485.8 1684.6 1487.9 1686.0 1489.9 1681.5 1492.0 1683.6 1494.0 1683.0 1496.1 1680.3 1498.2 1673.6 1500.2 1672.0 1502.3 1661.1 1504.3 1639.7 1506.4 1608.1 1507.5 1596.2 1508.5 1596.2 1510.5 1609.4 1512.6 1628.8 1514.7 1652.8 1516.7 1666.8 1518.8 1675.3 1520.8 1680.3 1522.9 1680.6 1525.0 1686.9 1527.0 1684.2 1529.1 1685.2 1531.2 1684.2 1533.2 1685.7 1535.3 1685.6 1537.3 1684.2 1539.4 1684.3 1541.5 1686.9 1543.5 1686.6 1545.6 1683.2 1547.6 1684.0 1549.7 1686.5 1551.8 1686.9 1553.8 1687.9 1555.9 1685.5 1558.0 1688.0 1560.0 1686.8 1562.1 1686.6 1564.1 1687.1 1566.2 1688.6 1568.3 1688.1 1570.3 1688.5 1572.4 1686.4 1574.5 1687.0 1576.5 1685.8 1578.6 1686.6 1580.6 1686.8 1582.7 1686.7 1584.8 1688.3 1586.8 1687.9 1588.9 1688.4 1590.9 1687.5 1593.0 1688.8 1595.1 1687.5 1597.1 1688.6 1599.2 1688.0 1601.3 1688.3 1603.3 1687.2 1605.4 1685.6 1607.4 1685.3 1609.5 1689.8 1611.6 1687.7 1613.6 1687.7 1615.7 1686.9 1617.8 1686.4 1619.8 1690.8 1621.9 1685.4 1623.9 1686.7 1626.0 1686.6 1628.1 1685.0 1630.1 1684.6 1632.2 1685.1 1634.2 1685.2 1636.3 1684.4 1638.4 1685.2 1640.4 1680.9 1642.5 1679.6 1644.6 1674.7 1646.6 1665.9 1647.4 1661.4 1648.7 1659.2 1650.7 1668.1 1652.8 1672.2 1654.9 1676.5 1656.9 1682.7 1659.0 1682.3 1661.1 1683.9 1663.1 1682.8 1665.2 1684.7 1667.2 1683.7 1669.3 1683.4 1671.4 1685.2 1673.4 1683.7 1675.5 1680.8 1677.5 1683.0 1679.6 1682.1 1681.7 1678.3 1683.7 1676.6 1685.8 1674.0 1687.9 1669.0 1689.9 1663.3 1692.0 1656.0 1694.0 1645.3 1696.1 1640.7 1697.2 1633.0 1698.2 1631.1 1700.2 1629.8 1702.3 1626.3 1704.4 1615.3 1706.4 1596.5 1707.7 1589.3 1708.5 1592.0 1710.5 1607.3 1712.6 1622.7 1714.7 1644.6 1716.7 1663.1 1718.8 1671.5 1720.9 1678.6 1722.9 1680.2 1725.0 1681.2 1727.0 1681.9 1729.1 1683.7 1731.2 1685.3 1733.2 1685.4 1735.3 1686.1 1737.3 1685.4 1739.4 1686.4 1741.5 1687.3 1743.5 1685.7 1745.6 1684.4 1747.7 1688.5 1749.7 1687.2 1751.8 1686.0 1753.8 1687.0 1755.9 1686.4 1758.0 1684.6 1760.0 1686.7 1762.1 1685.1 1764.2 1687.3 1766.2 1687.0 1768.3 1688.6 1770.3 1687.0 1772.4 1687.7 1774.5 1686.9 1776.5 1686.8 1778.6 1685.5 1780.6 1688.6 1782.7 1687.6 1784.8 1686.6 1786.8 1687.7 1788.9 1686.9 1791.0 1686.5 1793.0 1687.7 1795.1 1689.0 1797.1 1687.1 1799.2 1685.6 1801.3 1686.6 1803.3 1689.7 1805.4 1686.3 1807.5 1688.8 1809.5 1686.8 1811.6 1687.9 1813.6 1686.5 1815.7 1683.9 1817.8 1683.9 1819.8 1684.8 1820.9 1681.1 1821.9 1682.1 1823.9 1682.1 1826.0 1683.1 1828.1 1685.2 1830.1 1686.6 1832.2 1689.4 1834.3 1686.8 1836.3 1686.8 1838.4 1686.2 1840.4 1685.4 1842.5 1685.0 1844.6 1687.8 1846.6 1684.5 1848.7 1688.6 1850.8 1687.8 1852.8 1686.1 1854.9 1684.7 1856.9 1685.8 1859.0 1685.2 1861.1 1685.7 1863.1 1681.8 1865.2 1679.3 1867.2 1674.6 1869.3 1667.2 1870.8 1663.2 1871.4 1661.4 1873.4 1663.4 1875.5 1667.2 1877.6 1671.4 1879.6 1676.0 1881.7 1677.7 1883.7 1673.1 1885.8 1665.3 1886.9 1665.4 1887.9 1662.9 1889.9 1665.5 1892.0 1672.7 1894.1 1673.3 1896.1 1679.0 1898.2 1682.2 1900.2 1686.1 1902.3 1684.5 1904.4 1686.9 1906.4 1685.8 1908.5 1685.1 1910.6 1687.1 1912.6 1687.2 1914.7 1685.7 1916.7 1686.2 1918.8 1686.4 1920.9 1688.6 1922.9 1688.1 1925.0 1687.8 1927.0 1688.2 1929.1 1687.0 1931.2 1688.3 1933.2 1686.9 1935.3 1686.0 1937.4 1686.9 1939.4 1688.0 1941.5 1687.9 1943.5 1689.1 1945.6 1685.7 1947.7 1687.6 1949.7 1688.3 1951.8 1686.7 1953.9 1688.2 1955.9 1687.4 1958.0 1686.5 1960.0 1689.3 1962.1 1686.2 1964.2 1689.2 1966.2 1687.4 1968.3 1686.8 1970.3 1686.8 1972.4 1687.0 1974.5 1686.9 1976.5 1688.3 1978.6 1685.6 1980.7 1689.5 1982.7 1689.0 1984.8 1689.7 1986.8 1686.7 1988.9 1685.1 1991.0 1687.2 1993.0 1687.8 1995.1 1688.4 1997.2 1687.3 1999.2 1687.9 2001.3 1688.2 2003.3 1686.1 2005.4 1690.2 2007.5 1686.6 2009.5 1688.3 2011.6 1689.3 2013.6 1687.0 2015.7 1688.0 2017.8 1690.0 2019.8 1687.7 2021.9 1689.3 2024.0 1688.4 2026.0 1688.3 2028.1 1688.9 2030.1 1687.7 2032.2 1687.7 2034.3 1689.2 2036.3 1688.3 2038.4 1688.6 2040.5 1686.5 2042.5 1688.0 2044.6 1689.5 2046.6 1689.1 2048.7 1688.4 2050.8 1687.4 2052.8 1687.2 2054.9 1688.5 2056.9 1689.7 2059.0 1688.0 2061.1 1689.6 2063.1 1687.6 2065.2 1689.4 2067.3 1686.7 2069.3 1688.2 2071.4 1686.6 2073.4 1688.7 2075.5 1688.6 2077.6 1686.7 2079.6 1686.9 2081.7 1687.3 2083.8 1685.9 2085.8 1686.6 2087.9 1686.6 2089.9 1688.5 2092.0 1689.1 2094.1 1686.8 2096.1 1686.7 2098.2 1687.0 2100.2 1685.4 2102.3 1684.8 2104.4 1684.8 2106.4 1682.3 2108.5 1680.6 2110.6 1679.8 2112.6 1682.9 2114.7 1681.3 2116.7 1683.5 2118.8 1683.4 2120.9 1685.0 2122.9 1686.5 2125.0 1686.3 2127.1 1687.7 2129.1 1687.3 2131.2 1685.6 2133.2 1684.6 2135.3 1688.6 2137.4 1686.7 2139.4 1689.1 2141.5 1687.3 2143.6 1686.2 2145.6 1687.6 2147.7 1686.2 2149.7 1686.0 2151.8 1683.9 2153.9 1684.4 2155.9 1683.1 2158.0 1679.3 2159.1 1681.6 2160.0 1678.5 2162.1 1680.0 2164.2 1678.7 2166.2 1679.7 2168.3 1686.2 2170.4 1686.7 2172.4 1687.3 2174.5 1684.5 2176.5 1687.2 2178.6 1687.7 2180.7 1687.5 2182.7 1687.9 2184.8 1686.5 2186.9 1687.5 2188.9 1686.3 2191.0 1687.3 2193.0 1688.2 2195.1 1686.9 2197.2 1687.5 2199.2 1687.3 2201.3 1687.9 2203.3 1689.0 2205.4 1688.2 2207.5 1688.4 2209.5 1686.2 2211.6 1687.5 2213.7 1688.9 2215.7 1686.9 2217.8 1687.4 2219.8 1686.8 2221.9 1689.5 2224.0 1687.4 2226.0 1687.0 2228.1 1688.6 2230.2 1689.2 2232.2 1688.5 2234.3 1689.1 2236.3 1688.1 2238.4 1687.7 2240.5 1687.3 2242.5 1687.2 2244.6 1687.1 2246.6 1688.2 2248.7 1687.6 2250.8 1687.8 2252.8 1688.3 2254.9 1687.4 2257.0 1685.7 2259.0 1686.2 2261.1 1685.6 2263.1 1684.1 2265.2 1685.8 2267.3 1683.1 2269.3 1681.6 2271.4 1680.7 2272.0 1682.9 2273.5 1681.4 2275.5 1683.5 2277.6 1682.8 2279.6 1683.3 2281.7 1685.6 2283.8 1686.5 2285.8 1686.6 2287.9 1685.6 2289.9 1686.6 2292.0 1685.9 2294.1 1687.1 2296.1 1687.6 2298.2 1689.3 2300.3 1689.2 2302.3 1688.3 2304.4 1688.7 2306.4 1687.8 2308.5 1690.8 2310.6 1689.4 2312.6 1690.7 2314.7 1688.0 2316.8 1688.0 2318.8 1688.7 2320.9 1687.7 2322.9 1687.8 2325.0 1686.2 2327.1 1688.4 2329.1 1687.4 2331.2 1688.2 2333.2 1686.9 2335.3 1685.0 2337.4 1687.6 2339.4 1688.3 2341.5 1685.3 2343.6 1685.5 2345.6 1686.2 2347.7 1686.1 2349.7 1684.1 2351.8 1688.0 2353.9 1686.9 2355.9 1684.6 2358.0 1682.7 2360.1 1684.8 2362.1 1686.1 2364.2 1683.9 2366.2 1683.3 2368.3 1679.6 2370.4 1679.6 2372.4 1675.8 2374.5 1678.1 2376.6 1674.3 2378.6 1668.7"/></g><g stroke="#ff0000" stroke-width="8" stroke-dasharray="28 20.5"><line x1="811.0" y1="326.5" x2="811.0" y2="690"/><line x1="1047.5" y1="67.0" x2="1047.5" y2="690"/><line x1="1131.0" y1="313.0" x2="1131.0" y2="690"/><line x1="1293.5" y1="315.4" x2="1293.5" y2="690"/><line x1="1424.7" y1="306.0" x2="1424.7" y2="690"/><line x1="1567.3" y1="313.0" x2="1567.3" y2="690"/><line x1="1725.5" y1="299.0" x2="1725.5" y2="690"/><line x1="1764.5" y1="310.6" x2="1764.5" y2="690"/><line x1="2067.5" y1="317.0" x2="2067.5" y2="690"/><line x1="2100.0" y1="349.0" x2="2103.0" y2="690"/><line x1="2222.0" y1="317.0" x2="2222.0" y2="690"/></g><g stroke="#4472c4" stroke-width="8" stroke-dasharray="28 20.5"><line x1="574.9" y1="929.0" x2="574.9" y2="1702"/><line x1="715.0" y1="926.0" x2="715.0" y2="1702"/><line x1="1035.7" y1="938.0" x2="1035.7" y2="1702"/><line x1="1134.7" y1="931.0" x2="1134.7" y2="1702"/><line x1="1293.6" y1="938.0" x2="1293.6" y2="1702"/><line x1="1368.6" y1="931.0" x2="1368.6" y2="1702"/><line x1="1509.7" y1="919.0" x2="1509.7" y2="1702"/><line x1="1642.6" y1="894.7" x2="1645.8" y2="1702"/><line x1="1709.0" y1="880.0" x2="1709.0" y2="1706"/><line x1="1822.0" y1="938.0" x2="1822.0" y2="1702"/><line x1="1881.5" y1="938.0" x2="1881.5" y2="1702"/><line x1="2109.3" y1="952.6" x2="2109.3" y2="1702"/><line x1="2159.4" y1="897.0" x2="2159.4" y2="1702"/><line x1="2272.3" y1="939.0" x2="2272.3" y2="1702"/></g><path d="M130.2 15.0V40.0M130.2 1699.0V1673.5M317.6 15.0V64.5M317.6 1699.0V1649.0M505.1 15.0V40.0M505.1 1699.0V1673.5M692.5 15.0V64.5M692.5 1699.0V1649.0M880.0 15.0V40.0M880.0 1699.0V1673.5M1067.4 15.0V64.5M1067.4 1699.0V1649.0M1254.8 15.0V40.0M1254.8 1699.0V1673.5M1442.3 15.0V64.5M1442.3 1699.0V1649.0M1629.8 15.0V40.0M1629.8 1699.0V1673.5M1817.2 15.0V64.5M1817.2 1699.0V1649.0M2004.7 15.0V40.0M2004.7 1699.0V1673.5M2192.1 15.0V64.5M2192.1 1699.0V1649.0M18.0 255.5H68.0M2379.0 255.5H2330.0M18.0 495.5H42.0M2379.0 495.5H2356.0M18.0 736.0H68.0M2379.0 736.0H2330.0M18.0 977.0H42.0M2379.0 977.0H2356.0M18.0 1217.0H68.0M2379.0 1217.0H2330.0M18.0 1458.0H42.0M2379.0 1458.0H2356.0" stroke="#000" stroke-width="6.5" stroke-linecap="round" fill="none"/><rect x="18.0" y="15.0" width="2361.0" height="1684.0" fill="none" stroke="#000" stroke-width="7.6" stroke-linejoin="round"/><g style="font-family:'Liberation Serif',serif" fill="#000"><text x="0" y="0" transform="translate(789.8 318.0) scale(0.986 1)" font-size="77.3">C</text><text x="0" y="0" transform="translate(980.7 117.6) scale(0.985 1)" font-size="76.7">C</text><text x="0" y="0" transform="translate(1107.5 305.7) scale(0.972 1)" font-size="78.7">C</text><text x="0" y="0" transform="translate(1272.0 307.0) scale(0.970 1)" font-size="77.3">C</text><text x="0" y="0" transform="translate(1402.0 298.2) scale(0.971 1)" font-size="76.7">C</text><text x="0" y="0" transform="translate(1545.0 305.2) scale(0.966 1)" font-size="77.6">C</text><text x="0" y="0" transform="translate(1701.7 267.2) scale(0.964 1)" font-size="77.6">C</text><text x="0" y="0" transform="translate(1751.6 306.2) scale(0.982 1)" font-size="76.7">C</text><text x="0" y="0" transform="translate(2037.7 304.2) scale(0.992 1)" font-size="76.1">C</text><text x="0" y="0" transform="translate(2092.9 345.2) scale(0.995 1)" font-size="76.1">C</text><text x="0" y="0" transform="translate(2199.0 308.7) scale(0.997 1)" font-size="76.1">C</text><text x="0" y="0" transform="translate(761.7 796.5) scale(0.994 1)" font-size="76.5">MC</text><text x="0" y="0" transform="translate(922.4 759.2) scale(0.998 1)" font-size="76.2">MC</text><text x="0" y="0" transform="translate(1081.3 795.2) scale(0.997 1)" font-size="75.8">MC</text><text x="0" y="0" transform="translate(1247.7 795.9) scale(1.020 1)" font-size="73.6">MC</text><text x="0" y="0" transform="translate(1373.1 777.2) scale(1.005 1)" font-size="75.8">MC</text><text x="0" y="0" transform="translate(1529.7 790.2) scale(0.966 1)" font-size="78.0">MC</text><text x="0" y="0" transform="translate(1705.3 778.7) scale(0.981 1)" font-size="75.6">MC</text><text x="0" y="0" transform="translate(2039.2 802.0) scale(0.983 1)" font-size="77.0">MC</text><text x="0" y="0" transform="translate(2191.2 803.5) scale(0.985 1)" font-size="76.8">MC</text><text x="0" y="0" transform="translate(541.7 913.5) scale(0.969 1)" font-size="78.0">M</text><text x="0" y="0" transform="translate(641.5 907.0) scale(0.996 1)" font-size="76.9">M</text><text x="0" y="0" transform="translate(1027.7 897.0) scale(0.980 1)" font-size="76.9">M</text><text x="0" y="0" transform="translate(1103.3 914.6) scale(0.980 1)" font-size="76.3">M</text><text x="0" y="0" transform="translate(1260.5 921.0) scale(0.986 1)" font-size="76.9">M</text><text x="0" y="0" transform="translate(1335.5 914.6) scale(1.002 1)" font-size="76.3">M</text><text x="0" y="0" transform="translate(1459.5 895.5) scale(0.976 1)" font-size="77.7">M</text><text x="0" y="0" transform="translate(1576.2 898.4) scale(0.993 1)" font-size="76.8">M</text><text x="0" y="0" transform="translate(1708.7 888.4) scale(0.998 1)" font-size="76.8">M</text><text x="0" y="0" transform="translate(1775.7 942.6) scale(0.985 1)" font-size="76.8">M</text><text x="0" y="0" transform="translate(1857.7 903.0) scale(0.979 1)" font-size="77.2">M</text><text x="0" y="0" transform="translate(2064.7 949.7) scale(0.984 1)" font-size="76.5">M</text><text x="0" y="0" transform="translate(2126.2 895.0) scale(0.975 1)" font-size="76.2">M</text><text x="0" y="0" transform="translate(2238.0 929.0) scale(0.998 1)" font-size="76.2">M</text><text x="0" y="0" transform="translate(899.1 929.7) scale(0.964 1)" font-size="76.8">A</text><text x="0" y="0" transform="translate(954.3 962.5) scale(0.945 1)" font-size="78.0">A</text><text x="0" y="0" transform="translate(1535.3 953.4) scale(0.962 1)" font-size="76.8">A</text><text x="0" y="0" transform="translate(1651.9 939.7) scale(0.994 1)" font-size="74.2">A</text></g><g style="font-family:'Liberation Serif',serif;font-weight:bold" fill="#000"><text transform="translate(252.7 350.0) scale(1.06 1)" font-size="92.4">0.03</text><text transform="translate(252.7 496.4) scale(1.06 1)" font-size="92.4">0.04</text><text transform="translate(252.7 640.0) scale(1.06 1)" font-size="92.4">0.05</text><text transform="translate(252.7 786.8) scale(1.06 1)" font-size="92.4">0.06</text><text transform="translate(252.7 931.6) scale(1.06 1)" font-size="92.4">0.07</text><text transform="translate(252.7 1079.0) scale(1.06 1)" font-size="92.4">0.08</text><text transform="translate(252.7 1221.7) scale(1.06 1)" font-size="92.4">0.09</text><text transform="translate(252.7 1373.3) scale(1.06 1)" font-size="92.4">0.10</text><text transform="translate(252.7 1497.8) scale(1.06 1)" font-size="92.4">0.11</text><text transform="translate(252.7 1636.2) scale(1.06 1)" font-size="92.4">0.12</text><text transform="translate(155.1 159.6) scale(1.075 1)" font-size="80.6">Initial</text><text x="156.0" y="247.2" font-size="81.5" textLength="279.0" lengthAdjust="spacingAndGlyphs">Na<tspan font-size="56">2</tspan>CO<tspan font-size="56">3</tspan></text><text transform="translate(433.0 247.2) scale(1 1.12)" font-size="81.5" textLength="281.5" lengthAdjust="spacingAndGlyphs">[mol/kg]</text></g><g style="font-family:'Liberation Serif',serif" fill="#000"><text x="692.5" y="1827.8" text-anchor="middle" font-size="148">20</text><text x="1067.4" y="1827.8" text-anchor="middle" font-size="148">30</text><text x="1442.3" y="1827.8" text-anchor="middle" font-size="148">40</text><text x="1817.2" y="1827.8" text-anchor="middle" font-size="148">50</text><text x="2192.1" y="1827.8" text-anchor="middle" font-size="148">60</text><text transform="translate(321 1827.8) scale(0.94 1)" text-anchor="middle" font-size="148">10</text><text x="963" y="1926" font-size="89">°</text><text x="1010" y="1956.8" font-size="123" textLength="490" lengthAdjust="spacingAndGlyphs">2θ(CuKα)</text></g></svg>
</body></html>
